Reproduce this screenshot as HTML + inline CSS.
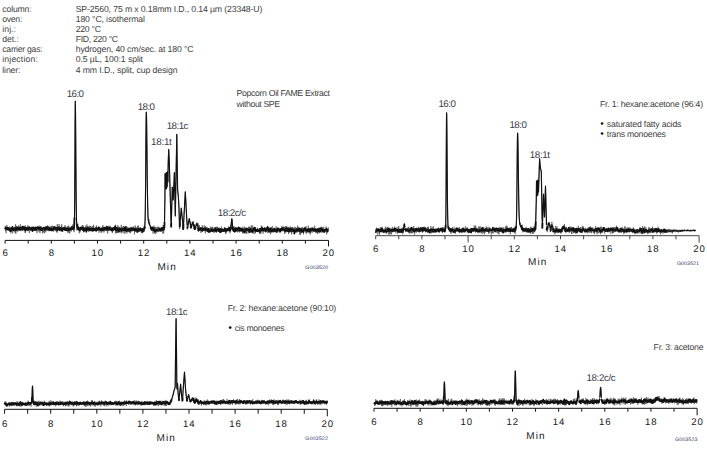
<!DOCTYPE html>
<html><head><meta charset="utf-8"><title>Chromatograms</title>
<style>html,body{margin:0;padding:0;background:#fff;} svg{display:block;}</style>
</head><body><svg width="707" height="450" viewBox="0 0 707 450" font-family='"Liberation Sans", sans-serif' text-rendering="geometricPrecision"><text x="2.3" y="11.8" font-size="8.7" fill="#3e3e3e" textLength="29.4" lengthAdjust="spacing">column:</text><text x="75.7" y="11.8" font-size="8.7" fill="#3e3e3e" textLength="186.7" lengthAdjust="spacing">SP-2560, 75 m x 0.18mm I.D., 0.14 µm (23348-U)</text><text x="2.3" y="21.9" font-size="8.7" fill="#3e3e3e" textLength="20.0" lengthAdjust="spacing">oven:</text><text x="75.7" y="21.9" font-size="8.7" fill="#3e3e3e" textLength="69.3" lengthAdjust="spacing">180 °C, isothermal</text><text x="2.3" y="32.0" font-size="8.7" fill="#3e3e3e" textLength="13.7" lengthAdjust="spacing">inj.:</text><text x="75.7" y="32.0" font-size="8.7" fill="#3e3e3e" textLength="25.4" lengthAdjust="spacing">220 °C</text><text x="2.3" y="42.2" font-size="8.7" fill="#3e3e3e" textLength="16.3" lengthAdjust="spacing">det.:</text><text x="75.7" y="42.2" font-size="8.7" fill="#3e3e3e" textLength="42.4" lengthAdjust="spacing">FID, 220 °C</text><text x="2.3" y="52.3" font-size="8.7" fill="#3e3e3e" textLength="40.3" lengthAdjust="spacing">carrier gas:</text><text x="75.7" y="52.3" font-size="8.7" fill="#3e3e3e" textLength="117.9" lengthAdjust="spacing">hydrogen, 40 cm/sec. at 180 °C</text><text x="2.3" y="62.4" font-size="8.7" fill="#3e3e3e" textLength="35.5" lengthAdjust="spacing">injection:</text><text x="75.7" y="62.4" font-size="8.7" fill="#3e3e3e" textLength="67.3" lengthAdjust="spacing">0.5 µL, 100:1 split</text><text x="2.3" y="72.5" font-size="8.7" fill="#3e3e3e" textLength="18.2" lengthAdjust="spacing">liner:</text><text x="75.7" y="72.5" font-size="8.7" fill="#3e3e3e" textLength="101.8" lengthAdjust="spacing">4 mm I.D., split, cup design</text><path d="M5.10,243.60V240.40H328.50V246.40M28.20,240.40v3.20M51.30,240.40v3.20M74.40,240.40v3.20M97.50,240.40v3.20M120.60,240.40v3.20M143.70,240.40v3.20M166.80,240.40v3.20M189.90,240.40v3.20M213.00,240.40v3.20M236.10,240.40v3.20M259.20,240.40v3.20M282.30,240.40v3.20M305.40,240.40v3.20" fill="none" stroke="#111" stroke-width="1"/><text x="5.1" y="256.0" font-size="9.6" fill="#1a1a1a" text-anchor="middle">6</text><text x="51.3" y="256.0" font-size="9.6" fill="#1a1a1a" text-anchor="middle">8</text><text x="91.6" y="256.0" font-size="9.6" fill="#1a1a1a" textLength="11.6" lengthAdjust="spacing">10</text><text x="137.8" y="256.0" font-size="9.6" fill="#1a1a1a" textLength="11.6" lengthAdjust="spacing">12</text><text x="184.0" y="256.0" font-size="9.6" fill="#1a1a1a" textLength="11.6" lengthAdjust="spacing">14</text><text x="230.2" y="256.0" font-size="9.6" fill="#1a1a1a" textLength="11.6" lengthAdjust="spacing">16</text><text x="276.4" y="256.0" font-size="9.6" fill="#1a1a1a" textLength="11.6" lengthAdjust="spacing">18</text><text x="322.6" y="256.0" font-size="9.6" fill="#1a1a1a" textLength="11.6" lengthAdjust="spacing">20</text><text x="157.4" y="269.9" font-size="10" fill="#1a1a1a" textLength="18.4" lengthAdjust="spacing">Min</text><polyline points="5.10,229.3 5.30,225.9 5.50,230.8 5.70,229.9 5.90,230.5 6.10,233.2 6.30,226.3 6.50,227.9 6.70,229.9 6.90,225.0 7.10,228.2 7.30,227.0 7.50,228.5 7.70,228.0 7.90,229.3 8.10,229.7 8.30,227.6 8.50,230.5 8.70,228.4 8.90,229.0 9.10,229.6 9.30,229.8 9.50,229.1 9.70,226.6 9.90,231.7 10.10,230.3 10.30,230.3 10.50,227.3 10.70,230.7 10.90,233.3 11.10,230.2 11.30,228.5 11.50,230.1 11.70,227.2 11.90,228.2 12.10,229.2 12.30,226.8 12.50,228.5 12.70,233.4 12.90,228.0 13.10,230.1 13.30,228.8 13.50,228.0 13.70,230.3 13.90,227.5 14.10,230.1 14.30,229.1 14.50,229.8 14.70,228.4 14.90,231.9 15.10,226.5 15.30,233.3 15.50,224.3 15.70,225.7 15.90,233.5 16.10,228.5 16.30,225.8 16.50,227.0 16.70,226.5 16.90,230.6 17.10,227.5 17.30,231.4 17.50,228.7 17.70,228.6 17.90,230.2 18.10,231.5 18.30,229.0 18.50,225.4 18.70,229.1 18.90,229.2 19.10,227.2 19.30,227.5 19.50,230.9 19.70,230.3 19.90,228.0 20.10,230.9 20.30,224.2 20.50,227.3 20.70,230.9 20.90,227.3 21.10,228.6 21.30,229.3 21.50,226.4 21.70,230.0 21.90,229.0 22.10,229.3 22.30,227.3 22.50,230.6 22.70,227.6 22.90,231.1 23.10,227.6 23.30,228.1 23.50,226.6 23.70,229.6 23.90,227.6 24.10,225.8 24.30,230.7 24.50,231.0 24.70,227.7 24.90,226.8 25.10,233.0 25.30,225.4 25.50,232.7 25.70,230.6 25.90,227.6 26.10,229.0 26.30,227.5 26.50,229.5 26.70,228.4 26.90,230.9 27.10,228.4 27.30,227.9 27.50,226.8 27.70,227.9 27.90,225.2 28.10,231.2 28.30,228.2 28.50,228.4 28.70,228.3 28.90,226.7 29.10,228.1 29.30,233.2 29.50,231.0 29.70,230.5 29.90,229.0 30.10,229.8 30.30,228.4 30.50,228.2 30.70,231.0 30.90,230.6 31.10,230.2 31.30,227.4 31.50,228.6 31.70,227.3 31.90,226.7 32.10,228.7 32.30,227.9 32.50,230.4 32.70,228.3 32.90,229.0 33.10,227.2 33.30,226.5 33.50,229.2 33.70,230.0 33.90,228.8 34.10,229.2 34.30,229.3 34.50,227.9 34.70,230.2 34.90,229.7 35.10,230.8 35.30,227.9 35.50,228.7 35.70,227.7 35.90,230.9 36.10,229.3 36.30,228.9 36.50,227.7 36.70,227.4 36.90,232.4 37.10,233.2 37.30,229.6 37.50,226.3 37.70,229.0 37.90,228.0 38.10,230.7 38.30,226.6 38.50,227.9 38.70,226.6 38.90,231.7 39.10,225.6 39.30,226.3 39.50,230.8 39.70,228.2 39.90,233.1 40.10,231.3 40.30,228.7 40.50,226.1 40.70,230.2 40.90,230.1 41.10,228.5 41.30,226.2 41.50,230.1 41.70,228.2 41.90,229.2 42.10,230.7 42.30,231.5 42.50,233.4 42.70,230.8 42.90,230.4 43.10,228.1 43.30,232.4 43.50,228.2 43.70,228.9 43.90,228.6 44.10,227.3 44.30,227.7 44.50,233.3 44.70,227.2 44.90,229.3 45.10,230.0 45.30,226.3 45.50,227.4 45.70,232.3 45.90,229.0 46.10,228.2 46.30,228.6 46.50,226.1 46.70,230.4 46.90,228.7 47.10,229.3 47.30,229.0 47.50,229.5 47.70,225.3 47.90,231.0 48.10,227.0 48.30,231.1 48.50,226.6 48.70,227.2 48.90,229.4 49.10,229.6 49.30,228.5 49.50,231.2 49.70,228.0 49.90,226.4 50.10,229.3 50.30,230.6 50.50,228.7 50.70,230.1 50.90,229.6 51.10,226.3 51.30,230.2 51.50,227.6 51.70,226.2 51.90,228.1 52.10,225.4 52.30,229.2 52.50,231.1 52.70,231.3 52.90,229.3 53.10,228.2 53.30,231.6 53.50,228.7 53.70,230.4 53.90,226.0 54.10,230.7 54.30,227.9 54.50,229.3 54.70,229.1 54.90,227.7 55.10,230.5 55.30,230.2 55.50,230.6 55.70,230.7 55.90,226.4 56.10,229.1 56.30,231.8 56.50,229.2 56.70,231.6 56.90,229.6 57.10,232.8 57.30,224.0 57.50,228.8 57.70,229.3 57.90,228.2 58.10,227.9 58.30,228.9 58.50,228.1 58.70,229.8 58.90,230.4 59.10,224.1 59.30,230.8 59.50,228.9 59.70,230.2 59.90,227.9 60.10,231.4 60.30,227.5 60.50,229.5 60.70,227.6 60.90,230.9 61.10,230.4 61.30,225.7 61.50,231.1 61.70,224.2 61.90,226.3 62.10,228.4 62.30,227.9 62.50,229.2 62.70,227.7 62.90,228.3 63.10,230.6 63.30,228.6 63.50,228.0 63.70,229.2 63.90,229.5 64.10,229.6 64.30,226.5 64.50,229.4 64.70,229.2 64.90,225.9 65.10,225.1 65.30,228.5 65.50,230.6 65.70,227.3 65.90,229.0 66.10,230.4 66.30,228.6 66.50,230.6 66.70,227.3 66.90,230.8 67.10,228.6 67.30,230.4 67.50,227.8 67.70,226.1 67.90,232.8 68.10,232.6 68.30,232.1 68.50,227.4 68.70,225.5 68.90,231.5 69.10,233.0 69.30,229.5 69.50,228.7 69.70,233.5 69.90,227.4 70.10,226.9 70.30,228.5 70.50,230.1 70.70,228.3 70.90,227.2 71.10,228.4 71.30,231.5 71.50,229.2 71.70,228.9 71.90,229.3 72.10,226.8 72.30,226.8 72.50,224.6 72.70,229.2 72.90,228.2 73.10,226.8 73.30,230.0 73.50,228.4 73.70,226.9 73.90,230.1 74.10,232.2 74.30,222.2 74.50,218.4 74.70,197.9 74.90,161.8 75.10,120.0 75.30,100.9 75.50,110.1 75.70,135.0 75.90,165.2 76.10,191.9 76.30,209.2 76.50,219.5 76.70,222.5 76.90,230.7 77.10,229.6 77.30,228.2 77.50,225.9 77.70,227.5 77.90,223.5 78.10,228.4 78.30,227.0 78.50,226.6 78.70,230.6 78.90,228.7 79.10,227.3 79.30,233.3 79.50,229.6 79.70,227.4 79.90,232.4 80.10,228.8 80.30,231.3 80.50,229.4 80.70,229.6 80.90,227.6 81.10,227.8 81.30,229.4 81.50,228.7 81.70,230.0 81.90,227.6 82.10,225.6 82.30,225.3 82.50,229.3 82.70,228.8 82.90,225.2 83.10,229.8 83.30,226.8 83.50,232.4 83.70,226.6 83.90,227.4 84.10,230.5 84.30,227.2 84.50,232.0 84.70,230.3 84.90,230.7 85.10,229.7 85.30,229.6 85.50,229.2 85.70,225.8 85.90,229.3 86.10,227.6 86.30,229.3 86.50,229.2 86.70,230.5 86.90,224.5 87.10,230.3 87.30,230.9 87.50,228.4 87.70,230.7 87.90,227.5 88.10,226.5 88.30,230.9 88.50,229.8 88.70,231.3 88.90,232.1 89.10,228.1 89.30,228.5 89.50,229.5 89.70,225.6 89.90,227.6 90.10,230.9 90.30,226.0 90.50,228.3 90.70,231.3 90.90,228.6 91.10,230.2 91.30,228.8 91.50,231.2 91.70,228.8 91.90,226.3 92.10,228.7 92.30,230.3 92.50,228.7 92.70,229.8 92.90,225.9 93.10,229.0 93.30,229.8 93.50,224.8 93.70,228.6 93.90,230.0 94.10,228.0 94.30,230.3 94.50,230.6 94.70,230.0 94.90,230.7 95.10,226.7 95.30,227.7 95.50,230.0 95.70,227.3 95.90,230.5 96.10,231.2 96.30,232.1 96.50,225.5 96.70,231.2 96.90,227.2 97.10,230.2 97.30,230.6 97.50,228.9 97.70,228.6 97.90,229.1 98.10,228.7 98.30,229.3 98.50,226.4 98.70,228.5 98.90,231.0 99.10,232.7 99.30,228.2 99.50,228.5 99.70,226.8 99.90,230.5 100.10,229.4 100.30,230.4 100.50,230.0 100.70,231.2 100.90,229.7 101.10,232.8 101.30,229.3 101.50,227.5 101.70,229.0 101.90,232.3 102.10,227.4 102.30,226.6 102.50,230.6 102.70,228.0 102.90,225.1 103.10,229.0 103.30,227.9 103.50,226.9 103.70,229.7 103.90,232.5 104.10,229.1 104.30,228.7 104.50,230.5 104.70,231.2 104.90,231.2 105.10,226.9 105.30,229.6 105.50,228.6 105.70,229.1 105.90,228.8 106.10,229.5 106.30,230.3 106.50,230.5 106.70,229.8 106.90,230.4 107.10,229.4 107.30,231.5 107.50,226.8 107.70,233.5 107.90,230.5 108.10,230.3 108.30,229.7 108.50,228.3 108.70,229.3 108.90,225.6 109.10,226.1 109.30,230.9 109.50,229.2 109.70,228.8 109.90,229.0 110.10,227.8 110.30,226.2 110.50,228.3 110.70,228.3 110.90,229.2 111.10,226.8 111.30,230.2 111.50,231.0 111.70,227.8 111.90,228.1 112.10,227.8 112.30,233.1 112.50,229.7 112.70,228.1 112.90,231.1 113.10,231.1 113.30,228.1 113.50,228.3 113.70,231.1 113.90,229.2 114.10,228.5 114.30,227.5 114.50,227.2 114.70,229.3 114.90,227.1 115.10,228.9 115.30,229.2 115.50,224.7 115.70,233.6 115.90,229.4 116.10,232.8 116.30,227.0 116.50,231.5 116.70,233.0 116.90,230.2 117.10,232.2 117.30,229.9 117.50,232.9 117.70,225.2 117.90,228.2 118.10,231.1 118.30,226.5 118.50,226.4 118.70,226.4 118.90,230.1 119.10,227.1 119.30,229.1 119.50,230.9 119.70,227.0 119.90,230.4 120.10,230.1 120.30,228.4 120.50,232.5 120.70,227.6 120.90,231.2 121.10,231.1 121.30,224.8 121.50,232.0 121.70,228.6 121.90,233.3 122.10,231.2 122.30,226.7 122.50,228.0 122.70,231.1 122.90,228.7 123.10,229.9 123.30,227.7 123.50,225.9 123.70,232.8 123.90,230.4 124.10,228.5 124.30,226.6 124.50,227.6 124.70,229.8 124.90,234.0 125.10,229.4 125.30,227.3 125.50,230.3 125.70,230.7 125.90,231.3 126.10,229.5 126.30,232.0 126.50,229.4 126.70,226.0 126.90,233.4 127.10,228.1 127.30,227.2 127.50,231.9 127.70,231.5 127.90,230.3 128.10,229.9 128.30,230.0 128.50,227.6 128.70,228.9 128.90,232.1 129.10,231.1 129.30,229.3 129.50,232.6 129.70,230.9 129.90,229.7 130.10,227.2 130.30,230.2 130.50,233.1 130.70,231.7 130.90,232.0 131.10,229.5 131.30,229.4 131.50,231.1 131.70,227.5 131.90,230.7 132.10,227.7 132.30,230.5 132.50,228.2 132.70,227.3 132.90,229.8 133.10,226.7 133.30,228.4 133.50,227.9 133.70,226.2 133.90,229.9 134.10,230.2 134.30,228.1 134.50,234.3 134.70,228.1 134.90,230.4 135.10,231.0 135.30,225.5 135.50,229.5 135.70,229.6 135.90,227.7 136.10,230.4 136.30,227.6 136.50,227.6 136.70,230.9 136.90,232.5 137.10,227.5 137.30,227.8 137.50,227.9 137.70,225.9 137.90,232.5 138.10,227.9 138.30,225.5 138.50,227.0 138.70,231.7 138.90,230.2 139.10,231.3 139.30,227.7 139.50,228.1 139.70,231.5 139.90,228.3 140.10,228.4 140.30,231.2 140.50,227.3 140.70,227.7 140.90,228.3 141.10,228.8 141.30,232.8 141.50,228.7 141.70,233.0 141.90,228.9 142.10,230.5 142.30,229.1 142.50,233.3 142.70,227.9 142.90,228.6 143.10,228.1 143.30,228.1 143.50,231.0 143.70,229.3 143.90,231.8 144.10,231.7 144.30,227.3 144.50,226.0 144.70,225.9 144.90,223.0 145.10,220.9 145.30,211.4 145.50,194.4 145.70,171.3 145.90,143.6 146.10,121.2 146.30,112.4 146.50,116.3 146.60,121.6 146.70,128.7 146.90,145.5 147.10,164.0 147.30,181.8 147.50,196.0 147.70,206.7 147.90,213.9 148.10,218.4 148.30,221.1 148.50,221.4 148.70,222.4 148.90,223.1 149.10,219.3 149.30,224.5 149.50,225.2 149.70,222.4 149.90,225.7 150.10,225.9 150.30,227.2 150.50,228.1 150.70,226.7 150.90,226.8 151.10,227.8 151.30,228.7 151.50,228.3 151.70,231.0 151.90,228.2 152.10,229.9 152.30,228.3 152.50,226.4 152.70,229.0 152.90,232.1 153.10,233.7 153.30,229.9 153.50,227.3 153.70,230.3 153.90,225.6 154.10,229.5 154.30,230.3 154.50,233.3 154.70,226.8 154.90,231.9 155.10,231.4 155.30,227.3 155.50,228.8 155.70,234.1 155.90,229.1 156.10,230.7 156.30,227.0 156.50,227.1 156.70,229.6 156.90,232.6 157.10,230.4 157.30,228.7 157.50,226.7 157.70,227.5 157.90,229.9 158.10,227.4 158.30,231.0 158.50,229.9 158.70,226.6 158.90,229.8 159.10,231.0 159.30,228.2 159.50,228.7 159.70,227.8 159.90,227.8 160.10,228.8 160.30,230.4 160.50,229.1 160.70,229.2 160.90,228.9 161.10,231.9 161.30,231.5 161.50,227.5 161.70,229.5 161.90,228.0 162.10,230.8 162.30,231.1 162.50,229.8 162.70,231.2 162.90,233.8 163.10,225.0 163.30,229.6 163.50,227.7 163.60,230.8 163.70,233.2 163.90,225.1 164.10,228.4 164.30,226.1 164.40,230.0 164.50,222.5 164.70,211.4 164.90,200.2 165.10,173.8 165.30,181.3 165.50,187.9 165.70,180.4 165.90,173.1 166.10,180.6 166.30,188.7 166.50,180.7 166.70,172.1 166.90,179.3 167.10,187.1 167.30,178.5 167.50,171.7 167.70,176.6 167.90,181.9 168.10,169.2 168.20,162.6 168.30,160.0 168.50,154.9 168.70,149.5 168.90,154.0 169.10,158.0 169.30,162.2 169.50,169.6 169.70,176.4 169.90,184.1 170.00,187.8 170.10,191.1 170.30,197.7 170.50,204.0 170.70,210.6 170.90,217.2 171.10,224.2 171.20,227.7 171.30,223.5 171.50,215.8 171.70,208.6 171.90,201.6 172.10,194.2 172.30,187.1 172.50,190.5 172.70,192.8 172.90,195.9 173.10,199.2 173.20,199.5 173.30,198.3 173.50,193.0 173.70,188.6 173.90,183.8 174.10,179.5 174.30,174.3 174.40,172.5 174.50,177.4 174.70,186.4 174.90,196.3 175.10,206.8 175.30,215.7 175.50,205.1 175.70,194.0 175.90,183.8 176.10,172.8 176.30,161.0 176.50,150.6 176.70,139.4 176.80,134.1 176.90,141.4 177.10,155.2 177.30,169.5 177.50,183.3 177.60,189.8 177.70,190.8 177.90,192.4 178.10,193.7 178.30,196.4 178.50,199.2 178.70,202.4 178.90,206.0 179.10,212.6 179.30,219.1 179.50,226.2 179.60,229.0 179.70,229.2 179.90,226.2 180.10,222.7 180.30,220.0 180.50,217.5 180.70,214.8 180.90,212.8 181.10,211.0 181.30,208.4 181.50,210.7 181.70,212.6 181.90,214.9 182.10,216.8 182.30,219.1 182.50,221.1 182.70,223.0 182.90,229.5 183.10,227.9 183.30,229.5 183.50,223.9 183.70,222.0 183.90,217.8 184.10,214.5 184.30,210.4 184.50,206.9 184.70,202.8 184.90,199.0 185.10,195.5 185.30,192.0 185.50,195.2 185.70,198.6 185.90,203.0 186.10,206.3 186.30,210.8 186.50,213.7 186.70,217.5 186.90,220.9 187.10,226.6 187.30,228.5 187.50,229.5 187.70,226.9 187.90,227.1 188.10,224.2 188.30,220.8 188.50,222.6 188.70,222.2 188.90,221.1 189.10,219.4 189.30,218.8 189.50,220.3 189.70,221.6 189.90,221.9 190.10,222.7 190.30,227.7 190.50,226.4 190.70,221.9 190.90,229.0 191.00,226.3 191.10,227.6 191.30,227.9 191.50,225.3 191.70,226.0 191.90,223.9 192.10,224.9 192.30,221.6 192.50,223.3 192.70,222.5 192.80,222.3 192.90,222.9 193.10,223.3 193.30,221.5 193.50,221.1 193.70,224.4 193.90,229.2 194.10,226.5 194.30,224.3 194.50,224.1 194.70,228.6 194.90,228.6 195.00,229.2 195.10,226.2 195.30,229.2 195.50,228.3 195.70,227.5 195.90,226.0 196.10,223.9 196.30,225.5 196.50,224.7 196.70,222.6 196.90,224.8 197.00,223.9 197.10,224.4 197.30,226.2 197.50,223.8 197.70,227.8 197.90,230.8 198.10,223.3 198.30,232.1 198.50,226.7 198.60,226.9 198.70,231.3 198.90,229.9 199.10,228.6 199.30,230.5 199.50,225.2 199.70,229.4 199.90,228.8 200.10,229.9 200.30,229.9 200.50,229.5 200.70,228.5 200.90,232.9 201.10,230.8 201.30,229.8 201.50,228.9 201.70,230.7 201.90,230.3 202.10,229.6 202.30,225.2 202.50,232.0 202.70,227.2 202.90,229.2 203.10,229.5 203.30,230.2 203.50,229.6 203.70,229.2 203.90,226.9 204.10,226.3 204.30,225.1 204.50,228.3 204.70,230.0 204.90,227.5 205.10,230.2 205.30,233.4 205.50,232.0 205.70,226.3 205.90,230.0 206.10,230.4 206.30,230.3 206.50,231.0 206.70,227.7 206.90,226.9 207.10,230.0 207.30,230.4 207.50,227.6 207.70,230.3 207.90,229.4 208.10,231.9 208.30,230.1 208.50,232.6 208.70,230.3 208.90,228.3 209.10,232.5 209.30,232.4 209.50,232.6 209.70,232.0 209.90,231.7 210.10,229.7 210.30,230.8 210.50,228.6 210.70,226.6 210.90,230.7 211.10,227.6 211.30,228.8 211.50,229.3 211.70,227.5 211.90,227.0 212.10,227.3 212.30,231.1 212.50,228.6 212.70,226.8 212.90,227.5 213.10,231.4 213.30,231.2 213.50,230.4 213.70,230.4 213.90,233.1 214.10,228.4 214.30,231.4 214.50,229.7 214.70,227.0 214.90,230.4 215.10,227.2 215.30,228.4 215.50,230.3 215.70,227.0 215.90,228.0 216.10,232.1 216.30,230.5 216.50,232.6 216.70,227.0 216.90,226.6 217.10,229.0 217.30,226.8 217.50,227.6 217.70,230.8 217.90,230.3 218.10,227.8 218.30,229.3 218.50,231.9 218.70,229.9 218.90,231.4 219.10,227.3 219.30,228.6 219.50,230.3 219.70,230.7 219.90,229.3 220.10,230.8 220.30,233.0 220.50,230.0 220.70,229.4 220.90,230.4 221.10,228.7 221.30,230.1 221.50,226.5 221.70,228.1 221.90,230.8 222.10,228.9 222.30,230.5 222.50,231.8 222.70,228.6 222.90,228.8 223.10,232.0 223.30,230.4 223.50,230.4 223.70,230.3 223.90,231.7 224.10,229.3 224.30,231.8 224.50,231.7 224.70,226.9 224.90,231.3 225.10,229.0 225.30,231.6 225.50,234.1 225.70,231.5 225.90,231.9 226.10,230.3 226.30,233.2 226.50,230.5 226.70,231.2 226.90,229.8 227.10,228.3 227.30,229.8 227.50,231.5 227.70,229.5 227.90,228.6 228.10,230.9 228.30,227.5 228.50,230.0 228.70,226.3 228.90,228.9 229.10,229.4 229.30,230.3 229.50,227.1 229.70,232.0 229.90,233.2 230.10,231.9 230.30,229.9 230.50,230.9 230.70,224.8 230.90,230.4 231.10,225.0 231.30,223.5 231.50,220.7 231.70,219.2 231.80,219.2 231.90,218.7 232.10,220.7 232.30,223.5 232.50,227.1 232.70,226.1 232.90,228.7 233.10,230.2 233.30,229.1 233.50,230.7 233.70,230.7 233.90,229.3 234.10,226.4 234.30,226.9 234.50,232.3 234.70,230.2 234.90,228.7 235.10,232.0 235.30,229.5 235.50,230.1 235.70,231.1 235.90,232.0 236.10,227.2 236.30,229.3 236.50,228.0 236.70,230.4 236.90,227.5 237.10,228.6 237.30,231.2 237.50,232.4 237.70,230.4 237.90,228.4 238.10,230.5 238.30,228.0 238.50,227.4 238.70,232.1 238.90,229.8 239.10,231.5 239.30,229.9 239.50,232.4 239.70,227.0 239.90,231.3 240.10,229.9 240.30,228.6 240.50,229.0 240.70,231.8 240.90,231.5 241.10,230.7 241.30,230.2 241.50,229.3 241.70,229.7 241.90,228.9 242.10,226.8 242.30,232.1 242.50,230.3 242.70,233.3 242.90,232.0 243.10,233.3 243.30,229.7 243.50,232.5 243.70,231.2 243.90,228.6 244.10,226.5 244.30,229.8 244.50,231.3 244.70,230.9 244.90,227.5 245.10,233.8 245.30,227.8 245.50,229.8 245.70,229.1 245.90,229.3 246.10,232.9 246.30,228.2 246.50,233.9 246.70,229.0 246.90,230.0 247.10,229.2 247.30,230.4 247.50,231.4 247.70,231.2 247.90,227.7 248.10,233.4 248.30,228.9 248.50,230.4 248.70,229.4 248.90,226.4 249.10,232.7 249.30,227.6 249.50,226.9 249.70,230.6 249.90,229.4 250.10,231.0 250.30,229.4 250.50,229.8 250.70,229.7 250.90,231.9 251.10,227.6 251.30,225.3 251.50,230.6 251.70,232.4 251.90,229.4 252.10,233.2 252.30,225.5 252.50,232.8 252.70,231.0 252.90,231.8 253.10,232.1 253.30,230.8 253.50,231.1 253.70,231.3 253.90,234.0 254.10,226.7 254.30,231.9 254.50,228.7 254.70,230.2 254.90,229.9 255.10,233.4 255.30,227.1 255.50,232.9 255.70,229.5 255.90,232.2 256.10,231.2 256.30,231.5 256.50,230.4 256.70,229.2 256.90,230.3 257.10,229.2 257.30,227.7 257.50,231.0 257.70,227.9 257.90,231.4 258.10,231.7 258.30,230.0 258.50,229.3 258.70,230.1 258.90,230.7 259.10,232.7 259.30,232.8 259.50,229.5 259.70,233.3 259.90,228.2 260.10,234.1 260.30,229.0 260.50,230.4 260.70,232.8 260.90,232.7 261.10,233.5 261.30,225.5 261.50,228.2 261.70,231.8 261.90,227.5 262.10,228.6 262.30,226.5 262.50,229.3 262.70,228.9 262.90,229.5 263.10,233.7 263.30,232.5 263.50,231.5 263.70,230.7 263.90,230.3 264.10,229.8 264.30,228.4 264.50,228.9 264.70,230.7 264.90,227.1 265.10,230.1 265.30,231.4 265.50,231.8 265.70,229.6 265.90,229.2 266.10,230.2 266.30,230.3 266.50,227.1 266.70,228.5 266.90,231.5 267.10,232.1 267.30,231.9 267.50,230.8 267.70,228.7 267.90,233.2 268.10,230.1 268.30,228.5 268.50,231.5 268.70,231.8 268.90,230.4 269.10,227.7 269.30,228.9 269.50,232.6 269.70,230.0 269.90,227.9 270.10,228.9 270.30,230.8 270.50,234.4 270.70,229.7 270.90,230.9 271.10,229.5 271.30,230.6 271.50,227.3 271.70,228.8 271.90,230.5 272.10,228.4 272.30,226.0 272.50,230.1 272.70,229.0 272.90,229.4 273.10,232.5 273.30,231.9 273.50,232.0 273.70,232.2 273.90,229.2 274.10,231.2 274.30,230.4 274.50,228.2 274.70,232.1 274.90,229.8 275.10,230.3 275.30,231.2 275.50,230.2 275.70,232.4 275.90,227.6 276.10,226.3 276.30,230.1 276.50,231.7 276.70,229.0 276.90,231.5 277.10,230.2 277.30,230.5 277.50,229.2 277.70,229.6 277.90,232.2 278.10,229.8 278.30,228.6 278.50,228.6 278.70,230.3 278.90,231.3 279.10,232.0 279.30,228.7 279.50,230.0 279.70,230.6 279.90,233.2 280.10,229.4 280.30,230.3 280.50,228.4 280.70,228.0 280.90,230.6 281.10,228.1 281.30,228.0 281.50,231.2 281.70,226.0 281.90,229.0 282.10,230.8 282.30,228.0 282.50,228.5 282.70,228.5 282.90,231.5 283.10,227.6 283.30,226.3 283.50,227.8 283.70,228.4 283.90,227.5 284.10,230.0 284.30,230.9 284.50,226.8 284.70,234.0 284.90,230.6 285.10,231.6 285.30,232.0 285.50,226.2 285.70,232.8 285.90,232.4 286.10,228.3 286.30,229.5 286.50,229.0 286.70,225.9 286.90,229.4 287.10,230.9 287.30,227.1 287.50,227.7 287.70,232.0 287.90,230.3 288.10,229.3 288.30,227.6 288.50,234.1 288.70,230.1 288.90,228.8 289.10,228.5 289.30,231.5 289.50,232.9 289.70,232.4 289.90,232.2 290.10,226.3 290.30,229.3 290.50,231.3 290.70,230.0 290.90,231.0 291.10,231.7 291.30,232.7 291.50,228.4 291.70,234.5 291.90,227.0 292.10,229.6 292.30,226.9 292.50,229.2 292.70,229.6 292.90,230.9 293.10,230.1 293.30,231.8 293.50,228.4 293.70,227.7 293.90,233.7 294.10,232.4 294.30,228.9 294.50,232.2 294.70,226.9 294.90,228.7 295.10,227.2 295.30,230.5 295.50,228.5 295.70,227.7 295.90,230.9 296.10,231.4 296.30,232.5 296.50,229.3 296.70,227.8 296.90,232.6 297.10,228.0 297.30,230.7 297.50,225.6 297.70,228.1 297.90,228.6 298.10,229.7 298.30,227.1 298.50,228.3 298.70,227.6 298.90,228.6 299.10,230.7 299.30,227.8 299.50,231.5 299.70,234.6 299.90,229.0 300.10,231.5 300.30,228.4 300.50,234.8 300.70,232.8 300.90,230.9 301.10,233.1 301.30,227.4 301.50,231.8 301.70,228.2 301.90,230.0 302.10,230.7 302.30,230.3 302.50,226.9 302.70,230.2 302.90,231.7 303.10,231.9 303.30,228.6 303.50,234.5 303.70,229.9 303.90,231.8 304.10,230.0 304.30,227.8 304.50,227.5 304.70,231.4 304.90,230.6 305.10,227.1 305.30,228.9 305.50,230.4 305.70,232.5 305.90,233.3 306.10,226.2 306.30,229.6 306.50,233.6 306.70,229.4 306.90,230.5 307.10,232.3 307.30,229.7 307.50,228.1 307.70,228.4 307.90,229.8 308.10,232.6 308.30,225.6 308.50,229.7 308.70,229.3 308.90,230.9 309.10,233.2 309.30,229.6 309.50,233.1 309.70,230.3 309.90,230.4 310.10,229.9 310.30,234.5 310.50,232.6 310.70,233.0 310.90,228.5 311.10,230.5 311.30,227.3 311.50,230.6 311.70,230.8 311.90,230.1 312.10,232.9 312.30,228.4 312.50,231.0 312.70,227.1 312.90,231.1 313.10,229.3 313.30,230.3 313.50,231.8 313.70,229.9 313.90,230.0 314.10,228.4 314.30,229.6 314.50,229.5 314.70,225.6 314.90,231.4 315.10,231.1 315.30,229.3 315.50,232.7 315.70,229.2 315.90,228.2 316.10,229.8 316.30,232.7 316.50,232.4 316.70,233.1 316.90,230.4 317.10,231.7 317.30,230.6 317.50,234.1 317.70,230.4 317.90,230.7 318.10,228.5 318.30,232.8 318.50,232.8 318.70,233.1 318.90,227.3 319.10,227.9 319.30,229.5 319.50,231.1 319.70,233.2 319.90,231.0 320.10,232.0 320.30,228.2 320.50,231.8 320.70,227.8 320.90,230.0 321.10,228.5 321.30,230.3 321.50,232.2 321.70,232.6 321.90,226.7 322.10,229.9 322.30,227.8 322.50,232.0 322.70,231.2 322.90,227.9 323.10,230.1 323.30,231.6 323.50,230.7 323.70,226.8 323.90,232.1 324.10,229.4 324.30,230.7 324.50,232.1 324.70,232.7 324.90,229.9 325.10,230.9 325.30,229.7 325.50,230.1 325.70,231.2 325.90,230.7 326.10,226.3 326.30,232.1 326.50,233.1 326.70,234.4 326.90,231.8 327.10,230.7 327.30,230.4 327.50,229.9 327.70,231.4 327.90,229.5 328.10,230.0 328.30,227.4 328.50,229.5" fill="none" stroke="#444" stroke-width="0.6" stroke-linejoin="round"/><path d="M5.10,229.3 5.30,228.9 5.50,227.8 5.70,228.5 5.90,228.5 6.10,228.3 6.30,228.5 6.50,228.5 6.70,229.4 6.90,229.5 7.10,227.9 7.30,228.4 7.50,229.2 7.70,229.4 7.90,229.1 8.10,228.2 8.30,228.9 8.50,228.3 8.70,229.5 8.90,228.5 9.10,229.8 9.30,229.6 9.50,229.3 9.70,228.7 9.90,229.4 10.10,229.6 10.30,230.5 10.50,231.1 10.70,230.6 10.90,231.0 11.10,229.9 11.30,229.6 11.50,229.2 11.70,229.6 11.90,227.8 12.10,228.7 12.30,228.8 12.50,227.0 12.70,228.7 12.90,228.9 13.10,229.0 13.30,230.4 13.50,230.2 13.70,229.8 13.90,228.9 14.10,228.6 14.30,228.5 14.50,229.4 14.70,228.1 14.90,228.4 15.10,228.8 15.30,229.1 15.50,230.0 15.70,229.6 15.90,230.1 16.10,227.9 16.30,228.8 16.50,229.7 16.70,228.2 16.90,227.8 17.10,227.4 17.30,228.7 17.50,228.7 17.70,227.8 17.90,229.4 18.10,229.3 18.30,228.8 18.50,227.7 18.70,227.9 18.90,228.8 19.10,227.4 19.30,229.2 19.50,229.6 19.70,228.7 19.90,229.3 20.10,227.9 20.30,228.3 20.50,228.8 20.70,228.2 20.90,229.8 21.10,229.5 21.30,229.1 21.50,228.5 21.70,228.8 21.90,229.1 22.10,229.2 22.30,228.3 22.50,226.7 22.70,227.3 22.90,228.1 23.10,228.4 23.30,227.8 23.50,227.2 23.70,227.9 23.90,229.0 24.10,227.8 24.30,229.3 24.50,228.8 24.70,228.6 24.90,227.7 25.10,230.3 25.30,229.3 25.50,229.4 25.70,229.5 25.90,228.9 26.10,228.5 26.30,227.9 26.50,228.7 26.70,229.3 26.90,228.7 27.10,228.9 27.30,230.0 27.50,229.9 27.70,229.9 27.90,229.7 28.10,229.1 28.30,228.0 28.50,228.3 28.70,227.4 28.90,227.8 29.10,227.5 29.30,227.7 29.50,228.8 29.70,227.3 29.90,228.4 30.10,228.5 30.30,228.8 30.50,228.2 30.70,229.5 30.90,229.8 31.10,228.5 31.30,229.2 31.50,229.3 31.70,228.4 31.90,229.0 32.10,227.6 32.30,227.6 32.50,231.0 32.70,230.1 32.90,229.9 33.10,229.6 33.30,230.0 33.50,228.8 33.70,228.8 33.90,227.7 34.10,228.6 34.30,227.9 34.50,228.2 34.70,229.8 34.90,229.2 35.10,227.8 35.30,229.1 35.50,228.9 35.70,227.5 35.90,228.2 36.10,228.9 36.30,230.0 36.50,228.0 36.70,227.7 36.90,228.1 37.10,228.4 37.30,227.8 37.50,227.9 37.70,227.5 37.90,227.7 38.10,228.3 38.30,228.7 38.50,228.2 38.70,227.8 38.90,228.3 39.10,228.7 39.30,227.9 39.50,228.8 39.70,229.1 39.90,228.1 40.10,228.2 40.30,228.7 40.50,228.0 40.70,228.9 40.90,229.7 41.10,230.1 41.30,229.3 41.50,228.5 41.70,229.9 41.90,229.4 42.10,230.2 42.30,229.5 42.50,229.0 42.70,228.2 42.90,228.4 43.10,228.4 43.30,228.4 43.50,228.0 43.70,228.6 43.90,227.6 44.10,228.3 44.30,228.7 44.50,228.6 44.70,229.9 44.90,228.3 45.10,228.1 45.30,227.8 45.50,228.3 45.70,227.8 45.90,228.2 46.10,228.3 46.30,229.5 46.50,228.8 46.70,229.0 46.90,227.5 47.10,228.6 47.30,228.1 47.50,228.7 47.70,226.9 47.90,227.8 48.10,228.5 48.30,228.9 48.50,228.5 48.70,228.7 48.90,229.8 49.10,229.1 49.30,229.3 49.50,228.7 49.70,227.8 49.90,229.0 50.10,228.2 50.30,230.0 50.50,230.0 50.70,228.8 50.90,229.7 51.10,229.7 51.30,230.3 51.50,230.4 51.70,229.3 51.90,229.1 52.10,228.6 52.30,228.5 52.50,229.1 52.70,228.6 52.90,229.9 53.10,228.7 53.30,228.5 53.50,228.3 53.70,228.0 53.90,229.2 54.10,227.5 54.30,226.9 54.50,227.0 54.70,227.7 54.90,228.4 55.10,227.9 55.30,228.5 55.50,228.7 55.70,229.0 55.90,229.1 56.10,229.3 56.30,228.5 56.50,229.1 56.70,228.5 56.90,227.8 57.10,228.8 57.30,228.2 57.50,230.1 57.70,228.7 57.90,228.3 58.10,228.1 58.30,227.5 58.50,227.1 58.70,227.7 58.90,227.6 59.10,228.0 59.30,229.5 59.50,230.0 59.70,229.7 59.90,228.4 60.10,228.3 60.30,228.8 60.50,228.6 60.70,227.8 60.90,229.5 61.10,229.7 61.30,229.5 61.50,229.7 61.70,229.7 61.90,230.0 62.10,228.9 62.30,231.2 62.50,229.5 62.70,228.4 62.90,229.3 63.10,229.0 63.30,228.2 63.50,228.4 63.70,228.3 63.90,228.0 64.10,229.1 64.30,229.4 64.50,229.4 64.70,229.8 64.90,229.2 65.10,228.5 65.30,228.7 65.50,230.1 65.70,228.5 65.90,228.1 66.10,228.9 66.30,229.3 66.50,230.1 66.70,228.9 66.90,229.8 67.10,229.0 67.30,230.6 67.50,230.2 67.70,229.0 67.90,228.3 68.10,230.0 68.30,228.5 68.50,228.4 68.70,229.1 68.90,230.0 69.10,229.5 69.30,228.8 69.50,229.3 69.70,228.9 69.90,228.3 70.10,229.2 70.30,229.3 70.50,229.7 70.70,228.7 70.90,228.5 71.10,228.5 71.30,228.4 71.50,227.8 71.70,227.0 71.90,228.6 72.10,229.0 72.30,227.9 72.50,228.9 72.70,228.5 72.90,227.4 73.10,227.7 73.30,228.7 73.50,229.6 73.70,228.9 73.90,228.5 74.10,226.9 74.30,224.0 74.50,217.6M76.90,224.1 77.10,226.5 77.30,227.2 77.50,228.8 77.70,228.0 77.90,227.8 78.10,228.7 78.30,228.8 78.50,227.5 78.70,228.8 78.90,229.3 79.10,228.8 79.30,230.0 79.50,229.1 79.70,228.6 79.90,229.2 80.10,228.4 80.30,229.3 80.50,229.1 80.70,227.6 80.90,228.3 81.10,227.8 81.30,227.5 81.50,227.7 81.70,228.1 81.90,228.0 82.10,228.9 82.30,228.9 82.50,229.9 82.70,228.4 82.90,227.9 83.10,229.2 83.30,229.4 83.50,230.6 83.70,229.3 83.90,229.5 84.10,229.4 84.30,229.0 84.50,229.7 84.70,229.9 84.90,228.3 85.10,228.3 85.30,228.6 85.50,229.2 85.70,229.4 85.90,229.5 86.10,229.6 86.30,231.8 86.50,229.1 86.70,228.5 86.90,229.2 87.10,230.1 87.30,229.7 87.50,228.7 87.70,228.1 87.90,227.4 88.10,229.1 88.30,229.5 88.50,229.7 88.70,229.1 88.90,229.1 89.10,228.9 89.30,228.4 89.50,229.0 89.70,230.2 89.90,229.4 90.10,229.0 90.30,229.2 90.50,229.9 90.70,229.0 90.90,229.1 91.10,229.6 91.30,229.3 91.50,228.9 91.70,228.5 91.90,229.2 92.10,230.4 92.30,230.2 92.50,230.4 92.70,230.8 92.90,229.5 93.10,228.6 93.30,230.0 93.50,229.9 93.70,229.3 93.90,229.9 94.10,230.3 94.30,229.0 94.50,230.1 94.70,229.2 94.90,230.0 95.10,229.5 95.30,229.8 95.50,230.3 95.70,229.3 95.90,229.9 96.10,229.0 96.30,229.4 96.50,228.1 96.70,229.8 96.90,228.7 97.10,228.7 97.30,228.5 97.50,229.4 97.70,230.0 97.90,229.8 98.10,229.1 98.30,228.8 98.50,229.1 98.70,227.8 98.90,228.4 99.10,228.3 99.30,227.7 99.50,229.1 99.70,229.3 99.90,229.3 100.10,229.9 100.30,229.2 100.50,229.4 100.70,230.0 100.90,228.8 101.10,229.3 101.30,230.2 101.50,229.7 101.70,228.9 101.90,229.9 102.10,229.2 102.30,229.9 102.50,230.1 102.70,229.7 102.90,228.5 103.10,228.6 103.30,228.3 103.50,230.0 103.70,229.8 103.90,229.9 104.10,229.8 104.30,229.0 104.50,227.8 104.70,227.6 104.90,228.3 105.10,228.9 105.30,229.4 105.50,228.9 105.70,229.2 105.90,228.8 106.10,229.9 106.30,229.8 106.50,229.1 106.70,226.6 106.90,229.4 107.10,229.5 107.30,229.7 107.50,229.1 107.70,227.4 107.90,228.2 108.10,228.7 108.30,228.1 108.50,229.5 108.70,229.5 108.90,229.1 109.10,228.1 109.30,227.5 109.50,229.1 109.70,228.6 109.90,228.5 110.10,229.3 110.30,228.6 110.50,229.4 110.70,229.9 110.90,229.1 111.10,229.0 111.30,229.4 111.50,230.2 111.70,230.1 111.90,230.1 112.10,230.8 112.30,228.4 112.50,229.6 112.70,229.3 112.90,229.2 113.10,229.7 113.30,229.0 113.50,228.0 113.70,227.8 113.90,229.6 114.10,228.7 114.30,228.6 114.50,228.4 114.70,228.3 114.90,228.2 115.10,226.4 115.30,227.3 115.50,227.0 115.70,229.9 115.90,230.2 116.10,229.2 116.30,229.5 116.50,228.6 116.70,228.0 116.90,228.3 117.10,229.7 117.30,228.7 117.50,229.8 117.70,229.0 117.90,228.9 118.10,229.3 118.30,229.7 118.50,230.5 118.70,231.9 118.90,231.7 119.10,230.9 119.30,230.3 119.50,229.4 119.70,228.7 119.90,228.8 120.10,229.3 120.30,229.1 120.50,229.2 120.70,229.0 120.90,230.1 121.10,229.0 121.30,229.2 121.50,229.4 121.70,230.9 121.90,229.8 122.10,229.3 122.30,229.1 122.50,229.5 122.70,229.1 122.90,228.8 123.10,229.5 123.30,229.8 123.50,228.8 123.70,230.0 123.90,228.8 124.10,228.5 124.30,230.1 124.50,229.9 124.70,229.2 124.90,228.9 125.10,229.7 125.30,227.0 125.50,227.3 125.70,230.7 125.90,230.6 126.10,229.7 126.30,228.7 126.50,230.5 126.70,230.6 126.90,230.2 127.10,230.6 127.30,229.9 127.50,229.5 127.70,230.3 127.90,229.3 128.10,228.9 128.30,229.4 128.50,229.3 128.70,229.7 128.90,229.5 129.10,230.8 129.30,230.2 129.50,229.8 129.70,230.4 129.90,229.4 130.10,228.4 130.30,229.6 130.50,230.7 130.70,229.3 130.90,229.1 131.10,228.8 131.30,228.6 131.50,228.3 131.70,229.3 131.90,230.3 132.10,229.7 132.30,229.2 132.50,229.5 132.70,230.3 132.90,229.9 133.10,229.0 133.30,229.8 133.50,229.3 133.70,229.3 133.90,229.5 134.10,228.8 134.30,229.0 134.50,230.5 134.70,229.5 134.90,228.6 135.10,230.2 135.30,229.5 135.50,230.8 135.70,230.2 135.90,229.1 136.10,229.2 136.30,229.4 136.50,229.8 136.70,229.7 136.90,230.6 137.10,230.4 137.30,231.8 137.50,230.8 137.70,229.9 137.90,229.6 138.10,229.9 138.30,228.6 138.50,230.0 138.70,230.3 138.90,230.7 139.10,229.4 139.30,230.2 139.50,229.2 139.70,229.4 139.90,229.4 140.10,229.3 140.30,228.7 140.50,229.7 140.70,230.4 140.90,230.1 141.10,229.4 141.30,229.9 141.50,229.6 141.70,229.3 141.90,229.6 142.10,230.6 142.30,230.2 142.50,228.9 142.70,230.4 142.90,231.5 143.10,230.5 143.30,229.9 143.50,230.3 143.70,230.5 143.90,230.2 144.10,228.5 144.30,228.5 144.50,226.7 144.70,228.3 144.90,226.8M150.50,227.4 150.70,228.3 150.90,227.5 151.10,229.1 151.30,228.5 151.50,227.7 151.70,228.0 151.90,229.8 152.10,229.1 152.30,227.8 152.50,229.5 152.70,229.9 152.90,228.9 153.10,227.8 153.30,228.9 153.50,230.2 153.70,228.7 153.90,229.2 154.10,229.1 154.30,229.0 154.50,230.9 154.70,231.6 154.90,231.0 155.10,231.1 155.30,231.1 155.50,230.5 155.70,230.4 155.90,230.2 156.10,230.5 156.30,229.8 156.50,229.9 156.70,230.0 156.90,230.5 157.10,230.6 157.30,230.5 157.50,230.2 157.70,230.5 157.90,230.0 158.10,230.1 158.30,230.9 158.50,230.4 158.70,230.0 158.90,230.4 159.10,230.1 159.30,228.7 159.50,229.8 159.70,228.8 159.90,229.4 160.10,230.8 160.30,229.9 160.50,229.5 160.70,228.9 160.90,229.8 161.10,230.3 161.30,228.1 161.50,228.7 161.70,229.0 161.90,228.6 162.10,228.0 162.30,228.7 162.50,229.3 162.70,228.2 162.90,228.0 163.10,228.1 163.30,228.4 163.50,229.0 163.60,230.0 163.70,228.7 163.90,228.0 164.10,227.4 164.30,227.4 164.40,227.6 164.50,221.9M171.20,226.5 171.30,223.2M179.60,226.9 179.70,226.3 179.90,222.9M183.10,226.5 183.30,229.2 183.50,224.4M187.30,228.5 187.50,227.0 187.70,226.6 187.90,226.4M190.90,228.1 191.00,227.6 191.10,226.9 191.30,226.2 191.50,224.1M194.30,225.4 194.50,228.0 194.70,228.6 194.90,229.3 195.00,229.3 195.10,228.9 195.30,228.6 195.50,228.1 195.70,227.7 195.90,227.3M198.10,227.3 198.30,227.6 198.50,229.9 198.60,228.8 198.70,228.9 198.90,229.0 199.10,228.9 199.30,230.1 199.50,229.9 199.70,229.4 199.90,229.0 200.10,229.4 200.30,229.3 200.50,229.5 200.70,228.5 200.90,227.8 201.10,228.4 201.30,228.3 201.50,229.5 201.70,230.7 201.90,229.9 202.10,228.9 202.30,229.7 202.50,230.0 202.70,228.5 202.90,229.4 203.10,229.7 203.30,230.0 203.50,228.8 203.70,229.6 203.90,230.4 204.10,229.3 204.30,229.2 204.50,228.9 204.70,229.3 204.90,229.5 205.10,228.8 205.30,229.2 205.50,228.2 205.70,230.0 205.90,229.2 206.10,229.5 206.30,229.4 206.50,230.2 206.70,229.4 206.90,230.7 207.10,230.9 207.30,230.6 207.50,231.2 207.70,231.3 207.90,231.2 208.10,231.5 208.30,230.1 208.50,229.1 208.70,228.8 208.90,230.8 209.10,231.8 209.30,230.5 209.50,231.2 209.70,230.7 209.90,231.7 210.10,231.6 210.30,230.6 210.50,230.8 210.70,229.8 210.90,230.0 211.10,229.4 211.30,229.9 211.50,230.6 211.70,229.6 211.90,231.1 212.10,231.0 212.30,229.6 212.50,230.2 212.70,229.3 212.90,230.2 213.10,231.0 213.30,230.1 213.50,230.6 213.70,230.0 213.90,230.1 214.10,230.6 214.30,229.7 214.50,229.6 214.70,229.4 214.90,229.8 215.10,230.6 215.30,229.8 215.50,228.6 215.70,230.6 215.90,231.3 216.10,231.1 216.30,230.2 216.50,230.0 216.70,230.1 216.90,230.3 217.10,229.3 217.30,229.5 217.50,230.1 217.70,230.2 217.90,230.7 218.10,230.6 218.30,230.4 218.50,229.0 218.70,230.8 218.90,230.6 219.10,229.9 219.30,229.8 219.50,229.7 219.70,230.2 219.90,232.2 220.10,230.4 220.30,230.6 220.50,228.8 220.70,229.7 220.90,231.4 221.10,231.2 221.30,231.7 221.50,230.0 221.70,230.1 221.90,229.8 222.10,229.7 222.30,229.7 222.50,230.2 222.70,230.8 222.90,230.9 223.10,230.8 223.30,230.7 223.50,230.5 223.70,230.0 223.90,230.2 224.10,230.9 224.30,230.6 224.50,228.7 224.70,229.7 224.90,229.8 225.10,229.6 225.30,228.8 225.50,230.0 225.70,230.2 225.90,231.0 226.10,230.2 226.30,229.8 226.50,230.0 226.70,229.1 226.90,229.7 227.10,229.1 227.30,229.7 227.50,230.0 227.70,230.0 227.90,229.1 228.10,229.6 228.30,229.1 228.50,228.6 228.70,230.3 228.90,229.3 229.10,228.2 229.30,228.9 229.50,228.0 229.70,229.2 229.90,230.0 230.10,230.9 230.30,229.7 230.50,229.5 230.70,229.0 230.90,228.3 231.10,226.9M232.70,226.6 232.90,228.6 233.10,230.5 233.30,230.2 233.50,228.5 233.70,231.1 233.90,229.6 234.10,229.1 234.30,229.2 234.50,230.7 234.70,230.8 234.90,231.7 235.10,229.6 235.30,229.6 235.50,229.5 235.70,228.1 235.90,228.9 236.10,229.1 236.30,229.2 236.50,229.8 236.70,230.6 236.90,230.2 237.10,230.4 237.30,229.1 237.50,228.9 237.70,228.4 237.90,228.7 238.10,229.1 238.30,228.0 238.50,229.6 238.70,227.5 238.90,227.8 239.10,228.0 239.30,229.4 239.50,229.4 239.70,230.4 239.90,229.6 240.10,228.3 240.30,229.5 240.50,229.4 240.70,230.3 240.90,228.9 241.10,230.3 241.30,229.6 241.50,230.6 241.70,230.0 241.90,230.4 242.10,229.9 242.30,228.9 242.50,229.4 242.70,229.5 242.90,229.0 243.10,230.9 243.30,231.1 243.50,230.9 243.70,230.0 243.90,231.0 244.10,231.8 244.30,232.2 244.50,231.4 244.70,230.5 244.90,231.6 245.10,231.3 245.30,230.5 245.50,230.0 245.70,229.7 245.90,228.6 246.10,228.5 246.30,229.1 246.50,228.7 246.70,229.6 246.90,229.8 247.10,229.7 247.30,229.0 247.50,229.2 247.70,229.6 247.90,229.8 248.10,229.2 248.30,229.5 248.50,229.9 248.70,229.3 248.90,229.5 249.10,231.3 249.30,230.4 249.50,231.4 249.70,232.2 249.90,231.3 250.10,229.6 250.30,229.5 250.50,228.4 250.70,230.6 250.90,230.3 251.10,229.8 251.30,229.7 251.50,230.6 251.70,231.2 251.90,230.7 252.10,231.3 252.30,232.0 252.50,231.5 252.70,230.7 252.90,229.7 253.10,230.5 253.30,229.4 253.50,228.3 253.70,229.7 253.90,230.1 254.10,228.4 254.30,228.0 254.50,228.8 254.70,228.6 254.90,227.9 255.10,228.8 255.30,229.3 255.50,230.2 255.70,230.8 255.90,230.9 256.10,231.1 256.30,229.9 256.50,230.3 256.70,230.4 256.90,230.5 257.10,230.5 257.30,231.0 257.50,231.1 257.70,230.0 257.90,230.2 258.10,231.0 258.30,230.8 258.50,230.9 258.70,230.6 258.90,230.6 259.10,230.4 259.30,231.3 259.50,231.7 259.70,230.8 259.90,229.0 260.10,229.0 260.30,229.0 260.50,229.1 260.70,230.3 260.90,230.1 261.10,229.5 261.30,228.4 261.50,228.5 261.70,228.8 261.90,228.2 262.10,229.9 262.30,230.5 262.50,229.5 262.70,228.9 262.90,230.0 263.10,228.8 263.30,228.6 263.50,230.5 263.70,230.2 263.90,230.4 264.10,229.5 264.30,229.1 264.50,228.4 264.70,230.4 264.90,229.4 265.10,229.0 265.30,229.3 265.50,231.3 265.70,231.6 265.90,231.0 266.10,230.2 266.30,229.2 266.50,228.9 266.70,228.5 266.90,229.0 267.10,229.2 267.30,229.3 267.50,229.3 267.70,227.0 267.90,229.2 268.10,230.3 268.30,229.5 268.50,228.3 268.70,229.7 268.90,230.1 269.10,231.7 269.30,229.3 269.50,229.9 269.70,230.1 269.90,230.3 270.10,229.4 270.30,228.3 270.50,228.4 270.70,230.3 270.90,230.0 271.10,231.5 271.30,229.8 271.50,229.5 271.70,231.6 271.90,230.8 272.10,230.8 272.30,230.4 272.50,230.4 272.70,231.0 272.90,231.1 273.10,229.9 273.30,229.6 273.50,229.3 273.70,229.9 273.90,229.7 274.10,228.7 274.30,230.4 274.50,230.8 274.70,230.3 274.90,231.0 275.10,230.6 275.30,230.5 275.50,229.4 275.70,230.8 275.90,230.7 276.10,230.4 276.30,229.8 276.50,230.3 276.70,232.0 276.90,231.7 277.10,229.9 277.30,229.0 277.50,228.8 277.70,228.3 277.90,229.1 278.10,229.4 278.30,230.0 278.50,229.6 278.70,228.7 278.90,229.3 279.10,229.3 279.30,229.3 279.50,230.0 279.70,230.7 279.90,230.4 280.10,230.2 280.30,231.3 280.50,229.3 280.70,229.0 280.90,229.8 281.10,229.4 281.30,229.2 281.50,228.7 281.70,230.0 281.90,229.0 282.10,229.2 282.30,228.9 282.50,229.4 282.70,228.2 282.90,228.3 283.10,228.1 283.30,228.7 283.50,229.5 283.70,230.0 283.90,229.6 284.10,229.5 284.30,229.6 284.50,229.9 284.70,230.1 284.90,231.1 285.10,229.2 285.30,230.2 285.50,230.1 285.70,230.4 285.90,230.5 286.10,228.6 286.30,228.3 286.50,228.9 286.70,228.3 286.90,230.0 287.10,231.2 287.30,230.0 287.50,230.1 287.70,230.3 287.90,230.3 288.10,228.7 288.30,228.6 288.50,228.4 288.70,231.1 288.90,230.4 289.10,230.7 289.30,230.7 289.50,231.1 289.70,228.6 289.90,228.5 290.10,230.0 290.30,229.8 290.50,229.8 290.70,229.6 290.90,230.3 291.10,231.0 291.30,228.8 291.50,229.6 291.70,229.4 291.90,229.4 292.10,229.1 292.30,229.6 292.50,230.2 292.70,230.6 292.90,231.2 293.10,230.1 293.30,230.5 293.50,230.3 293.70,229.5 293.90,230.0 294.10,230.6 294.30,230.2 294.50,233.5 294.70,231.4 294.90,231.2 295.10,231.1 295.30,231.6 295.50,230.9 295.70,230.3 295.90,230.3 296.10,231.0 296.30,230.2 296.50,229.2 296.70,230.3 296.90,230.5 297.10,230.8 297.30,230.4 297.50,230.7 297.70,230.7 297.90,230.8 298.10,229.9 298.30,229.6 298.50,229.8 298.70,228.5 298.90,228.5 299.10,229.7 299.30,231.0 299.50,229.6 299.70,230.3 299.90,230.4 300.10,230.4 300.30,229.4 300.50,229.0 300.70,229.2 300.90,229.6 301.10,230.4 301.30,231.2 301.50,231.9 301.70,231.7 301.90,230.5 302.10,231.0 302.30,230.9 302.50,230.4 302.70,230.2 302.90,230.4 303.10,231.3 303.30,232.1 303.50,230.8 303.70,230.4 303.90,229.2 304.10,228.8 304.30,228.4 304.50,229.0 304.70,229.1 304.90,228.2 305.10,228.7 305.30,229.0 305.50,230.1 305.70,229.4 305.90,230.2 306.10,230.1 306.30,230.9 306.50,230.5 306.70,230.3 306.90,229.4 307.10,230.1 307.30,230.1 307.50,230.2 307.70,229.9 307.90,231.2 308.10,230.5 308.30,229.9 308.50,229.6 308.70,229.6 308.90,229.4 309.10,229.0 309.30,229.4 309.50,230.7 309.70,231.1 309.90,229.7 310.10,228.8 310.30,229.7 310.50,230.1 310.70,230.8 310.90,230.1 311.10,229.2 311.30,229.2 311.50,229.9 311.70,230.2 311.90,229.8 312.10,230.2 312.30,229.8 312.50,229.7 312.70,229.1 312.90,228.6 313.10,229.1 313.30,229.4 313.50,230.5 313.70,229.8 313.90,229.7 314.10,230.3 314.30,230.0 314.50,229.9 314.70,230.6 314.90,229.4 315.10,230.2 315.30,231.4 315.50,229.8 315.70,229.6 315.90,229.3 316.10,229.8 316.30,230.4 316.50,230.8 316.70,230.3 316.90,229.9 317.10,230.4 317.30,229.9 317.50,229.4 317.70,229.1 317.90,229.1 318.10,230.1 318.30,231.1 318.50,231.1 318.70,230.1 318.90,229.6 319.10,229.3 319.30,230.4 319.50,231.1 319.70,230.6 319.90,231.5 320.10,230.5 320.30,228.4 320.50,228.6 320.70,229.3 320.90,228.6 321.10,228.3 321.30,229.4 321.50,228.3 321.70,230.3 321.90,229.4 322.10,230.5 322.30,229.6 322.50,231.1 322.70,230.6 322.90,231.6 323.10,231.2 323.30,230.1 323.50,230.4 323.70,231.0 323.90,230.5 324.10,231.9 324.30,229.8 324.50,230.2 324.70,230.7 324.90,230.8 325.10,229.6 325.30,230.2 325.50,229.9 325.70,229.5 325.90,230.2 326.10,229.1 326.30,230.4 326.50,229.4 326.70,228.8 326.90,230.3 327.10,231.4 327.30,231.1 327.50,231.6 327.70,230.8 327.90,230.2 328.10,230.0 328.30,229.9 328.50,229.8" fill="none" stroke="#111" stroke-width="1.8" stroke-linejoin="round"/><path d="M74.30,226.15 74.50,218.72 74.70,198.70 74.90,161.97 75.10,120.49 75.30,101.37 75.50,110.84 75.70,135.43 75.90,165.36 76.10,191.51 76.30,209.48 76.50,219.55 76.70,224.31 76.90,226.27M144.70,227.17 144.90,225.02 145.10,220.28 145.30,210.72 145.50,194.16 145.70,170.39 145.90,143.33 146.10,121.02 146.30,112.00 146.50,116.00 146.60,121.15 146.70,127.99 146.90,145.09 147.10,163.90 147.30,181.45 147.50,195.83 147.70,206.37 147.90,213.40 148.10,217.71 148.30,220.21 148.50,221.65 148.70,222.52 148.90,223.12 149.10,223.61 149.30,224.06 149.50,224.49 149.70,224.90 149.90,225.30 150.10,225.69 150.30,226.06 150.50,226.41 150.70,226.73 150.90,227.04 151.10,227.32M164.50,222.00 164.70,211.00 164.90,200.00 165.10,173.50 165.30,180.75 165.50,188.00 165.70,180.50 165.90,173.00 166.10,181.00 166.30,189.00 166.50,180.75 166.70,172.50 166.90,179.75 167.10,187.00 167.30,179.25 167.50,171.50 167.70,176.75 167.90,182.00 168.10,169.33 168.20,163.00 168.30,160.28 168.50,154.84 168.70,149.40 168.90,153.60 169.10,157.80 169.30,162.00 169.50,169.43 169.70,176.86 169.90,184.29 170.00,188.00 170.10,191.25 170.30,197.75 170.50,204.25 170.70,210.75 170.90,217.25 171.10,223.75 171.20,227.00 171.30,223.36 171.50,216.09 171.70,208.82 171.90,201.55 172.10,194.27 172.30,187.00 172.50,189.89 172.70,192.78 172.90,195.67 173.10,198.56 173.20,200.00 173.30,197.72 173.50,193.15 173.70,188.58 173.90,184.02 174.10,179.45 174.30,174.88 174.40,172.60 174.50,177.42 174.70,187.07 174.90,196.71 175.10,206.36 175.30,216.00 175.50,205.12 175.70,194.24 175.90,183.36 176.10,172.48 176.30,161.60 176.50,150.72 176.70,139.84 176.80,134.40 176.90,141.35 177.10,155.25 177.30,169.15 177.50,183.05 177.60,190.00 177.70,190.86 177.90,192.57 178.10,194.29 178.30,196.00 178.50,199.33 178.70,202.67 178.90,206.00 179.10,212.29 179.30,218.57 179.50,224.86 179.70,226.83 179.90,224.49 180.10,222.15 180.30,219.81 180.50,217.46 180.70,215.12 180.90,212.78 181.10,210.44 181.30,208.10 181.50,210.19 181.70,212.28 181.90,214.37 182.10,216.46 182.30,218.55 182.50,220.64 182.70,222.73 182.90,224.82 183.10,226.91 183.50,225.27 183.70,221.54 183.90,217.81 184.10,214.08 184.30,210.35 184.50,206.62 184.70,202.89 184.90,199.16 185.10,195.43 185.30,191.70 185.50,195.41 185.70,199.12 185.90,202.83 186.10,206.54 186.30,210.25 186.50,213.96 186.70,217.67 186.90,221.38 187.10,225.09M187.70,226.76 187.90,225.74 188.10,224.72 188.30,223.70 188.50,222.68 188.70,221.66 188.90,220.64 189.10,219.62 189.30,218.60 189.50,219.71 189.70,220.81 189.90,221.92 190.10,223.02 190.30,224.13 190.50,225.24 190.70,226.34 190.90,227.45 191.30,227.07 191.50,226.44 191.70,225.82 191.90,225.20 192.10,224.58 192.30,223.96 192.50,223.33 192.70,222.71 192.80,222.40 192.90,222.68 193.10,223.23 193.30,223.79 193.50,224.34 193.70,224.90 193.90,225.45 194.10,226.00 194.30,226.56 194.50,227.11M195.50,227.20 195.70,226.68 195.90,226.16 196.10,225.64 196.30,225.12 196.50,224.60 196.70,224.08 196.90,223.56 197.00,223.30 197.10,223.64 197.30,224.33 197.50,225.02 197.70,225.71 197.90,226.39 198.10,227.08M230.90,227.55 231.10,225.60 231.30,223.06 231.50,220.54 231.70,218.95 231.80,218.73 231.90,218.95 232.10,220.55 232.30,223.06 232.50,225.61 232.70,227.56" fill="none" stroke="#111" stroke-width="1.15" stroke-linejoin="round"/><text x="66.7" y="97.0" font-size="9.75" fill="#3a3a48" textLength="17.3" lengthAdjust="spacing">16:0</text><text x="137.8" y="110.0" font-size="9.75" fill="#3a3a48" textLength="17.1" lengthAdjust="spacing">18:0</text><text x="151.0" y="145.0" font-size="9.75" fill="#3a3a48" textLength="20.8" lengthAdjust="spacing">18:1t</text><text x="166.7" y="129.2" font-size="9.75" fill="#3a3a48" textLength="21.7" lengthAdjust="spacing">18:1c</text><text x="217.8" y="216.0" font-size="9.75" fill="#3a3a48" textLength="28.4" lengthAdjust="spacing">18:2c/c</text><text x="236.5" y="95.7" font-size="8.7" fill="#3e3e3e" textLength="93.5" lengthAdjust="spacing">Popcorn Oil FAME Extract</text><text x="236.5" y="107.0" font-size="8.7" fill="#3e3e3e" textLength="43.5" lengthAdjust="spacing">without SPE</text><text x="305.0" y="268.5" font-size="5" fill="#33446a" textLength="23.2" lengthAdjust="spacingAndGlyphs">G003520</text><path d="M375.70,239.30V235.70H699.10V242.70M398.80,235.70v3.60M421.90,235.70v3.60M445.00,235.70v3.60M468.10,235.70v6.80M491.20,235.70v3.60M514.30,235.70v3.60M537.40,235.70v3.60M560.50,235.70v3.60M583.60,235.70v3.60M606.70,235.70v3.60M629.80,235.70v3.60M652.90,235.70v3.60M676.00,235.70v3.60" fill="none" stroke="#444" stroke-width="1"/><text x="375.7" y="251.9" font-size="9.6" fill="#1a1a1a" text-anchor="middle">6</text><text x="421.9" y="251.9" font-size="9.6" fill="#1a1a1a" text-anchor="middle">8</text><text x="462.2" y="251.9" font-size="9.6" fill="#1a1a1a" textLength="11.6" lengthAdjust="spacing">10</text><text x="508.4" y="251.9" font-size="9.6" fill="#1a1a1a" textLength="11.6" lengthAdjust="spacing">12</text><text x="554.6" y="251.9" font-size="9.6" fill="#1a1a1a" textLength="11.6" lengthAdjust="spacing">14</text><text x="600.8" y="251.9" font-size="9.6" fill="#1a1a1a" textLength="11.6" lengthAdjust="spacing">16</text><text x="647.0" y="251.9" font-size="9.6" fill="#1a1a1a" textLength="11.6" lengthAdjust="spacing">18</text><text x="693.2" y="251.9" font-size="9.6" fill="#1a1a1a" textLength="11.6" lengthAdjust="spacing">20</text><text x="528.0" y="265.3" font-size="10" fill="#1a1a1a" textLength="18.4" lengthAdjust="spacing">Min</text><polyline points="375.70,230.0 375.90,230.7 376.10,228.9 376.30,231.9 376.50,227.7 376.70,230.0 376.90,228.5 377.10,231.7 377.30,229.1 377.50,229.4 377.70,234.6 377.90,232.9 378.10,233.1 378.30,232.5 378.50,231.3 378.70,228.1 378.90,229.6 379.10,229.7 379.30,229.9 379.50,234.7 379.70,231.9 379.90,232.5 380.10,230.9 380.30,228.7 380.50,231.9 380.70,227.1 380.90,229.4 381.10,227.4 381.30,229.4 381.50,227.9 381.70,230.2 381.90,229.3 382.10,227.0 382.30,232.6 382.50,229.1 382.70,229.0 382.90,231.7 383.10,230.8 383.30,229.6 383.50,229.2 383.70,233.0 383.90,232.2 384.10,230.1 384.30,228.2 384.50,228.4 384.70,230.4 384.90,229.5 385.10,232.5 385.30,230.1 385.50,230.5 385.70,226.4 385.90,229.4 386.10,233.5 386.30,228.4 386.50,233.4 386.70,228.0 386.90,230.2 387.10,231.5 387.30,227.1 387.50,227.1 387.70,228.5 387.90,230.6 388.10,231.2 388.30,231.6 388.50,228.4 388.70,234.6 388.90,227.1 389.10,231.3 389.30,230.1 389.50,228.0 389.70,234.4 389.90,232.9 390.10,228.8 390.30,234.1 390.50,230.5 390.70,228.6 390.90,232.1 391.10,230.8 391.30,229.1 391.50,234.4 391.70,230.0 391.90,229.7 392.10,232.0 392.30,226.8 392.50,230.2 392.70,232.3 392.90,230.8 393.10,231.2 393.30,231.3 393.50,231.3 393.70,228.9 393.90,229.9 394.10,229.0 394.30,228.6 394.50,231.8 394.70,226.7 394.90,228.9 395.10,230.5 395.30,229.6 395.50,230.3 395.70,232.8 395.90,229.0 396.10,230.7 396.30,228.9 396.50,229.2 396.70,230.2 396.90,232.0 397.10,226.9 397.30,233.9 397.50,231.6 397.70,230.3 397.90,230.1 398.10,231.0 398.30,231.7 398.50,230.4 398.70,226.0 398.90,228.9 399.10,230.5 399.30,230.4 399.50,232.6 399.70,229.2 399.90,229.1 400.10,229.0 400.30,232.6 400.50,228.8 400.70,230.6 400.90,232.9 401.10,228.9 401.30,230.6 401.50,230.1 401.70,227.8 401.90,230.1 402.10,231.4 402.30,229.8 402.50,229.5 402.70,234.3 402.90,228.1 403.10,231.1 403.30,232.9 403.50,228.0 403.70,228.9 403.90,224.9 404.10,224.2 404.30,223.8 404.50,224.6 404.70,223.9 404.90,228.0 405.10,229.7 405.30,230.7 405.50,231.4 405.70,231.1 405.90,227.8 406.10,230.6 406.30,228.5 406.50,230.4 406.70,230.3 406.90,231.1 407.10,228.5 407.30,231.5 407.50,229.7 407.70,230.3 407.90,229.9 408.10,232.2 408.30,226.7 408.50,231.4 408.70,229.8 408.90,227.5 409.10,229.9 409.30,233.7 409.50,233.3 409.70,229.9 409.90,230.8 410.10,230.8 410.30,229.7 410.50,232.9 410.70,230.6 410.90,232.1 411.10,233.5 411.30,229.6 411.50,228.3 411.70,231.5 411.90,232.8 412.10,229.5 412.30,233.1 412.50,227.3 412.70,229.7 412.90,232.7 413.10,231.4 413.30,231.6 413.50,231.0 413.70,226.0 413.90,232.5 414.10,230.8 414.30,228.9 414.50,234.5 414.70,233.6 414.90,232.3 415.10,230.5 415.30,231.3 415.50,228.5 415.70,231.9 415.90,229.7 416.10,232.9 416.30,232.6 416.50,231.6 416.70,229.4 416.90,230.5 417.10,230.2 417.30,230.0 417.50,228.1 417.70,230.9 417.90,231.6 418.10,229.8 418.30,226.8 418.50,231.1 418.70,228.7 418.90,231.6 419.10,229.1 419.30,232.4 419.50,231.2 419.70,227.5 419.90,231.2 420.10,230.0 420.30,227.6 420.50,230.4 420.70,227.0 420.90,231.9 421.10,231.2 421.30,229.7 421.50,229.3 421.70,228.2 421.90,228.5 422.10,229.2 422.30,229.1 422.50,233.0 422.70,231.8 422.90,230.4 423.10,231.4 423.30,228.1 423.50,230.1 423.70,231.8 423.90,231.1 424.10,228.6 424.30,229.5 424.50,229.7 424.70,226.7 424.90,228.5 425.10,227.9 425.30,229.4 425.50,228.8 425.70,232.4 425.90,228.7 426.10,228.7 426.30,231.6 426.50,231.3 426.70,229.1 426.90,228.2 427.10,230.7 427.30,226.9 427.50,232.7 427.70,229.9 427.90,232.5 428.10,227.3 428.30,230.4 428.50,226.8 428.70,231.1 428.90,230.4 429.10,232.8 429.30,229.9 429.50,229.3 429.70,230.9 429.90,230.8 430.10,230.3 430.30,231.3 430.50,233.0 430.70,231.3 430.90,226.1 431.10,229.4 431.30,233.4 431.50,232.1 431.70,229.5 431.90,230.4 432.10,230.9 432.30,231.4 432.50,230.4 432.70,232.4 432.90,227.2 433.10,229.1 433.30,226.2 433.50,230.3 433.70,232.1 433.90,229.7 434.10,229.4 434.30,232.5 434.50,232.1 434.70,232.7 434.90,232.4 435.10,230.5 435.30,230.6 435.50,232.3 435.70,231.1 435.90,229.6 436.10,230.7 436.30,229.1 436.50,230.2 436.70,230.5 436.90,228.8 437.10,231.3 437.30,231.2 437.50,228.8 437.70,230.2 437.90,229.7 438.10,230.8 438.30,227.7 438.50,229.9 438.70,227.7 438.90,228.7 439.10,232.8 439.30,230.1 439.50,231.3 439.70,231.8 439.90,231.4 440.10,229.1 440.30,228.7 440.50,229.5 440.70,228.9 440.90,231.1 441.10,229.2 441.30,230.2 441.50,229.9 441.70,229.4 441.90,231.1 442.10,232.5 442.30,227.6 442.50,233.0 442.70,230.9 442.90,231.9 443.10,228.9 443.30,227.1 443.50,228.5 443.70,231.6 443.90,229.6 444.10,231.0 444.30,231.8 444.50,227.6 444.70,229.7 444.90,229.7 445.10,231.4 445.30,230.2 445.50,227.1 445.70,226.2 445.90,212.9 446.10,187.6 446.30,148.3 446.50,117.4 446.60,112.6 446.70,115.2 446.80,121.6 446.90,131.6 447.10,157.6 447.30,184.2 447.50,205.0 447.70,217.7 447.90,224.3 448.10,228.7 448.30,226.4 448.50,227.4 448.70,228.6 448.90,230.0 449.10,228.8 449.30,231.8 449.50,231.7 449.70,228.5 449.90,231.3 450.10,229.0 450.30,228.5 450.50,232.5 450.70,232.4 450.90,230.6 451.10,233.8 451.30,232.0 451.50,230.0 451.70,231.3 451.90,230.9 452.10,231.4 452.30,229.0 452.50,227.2 452.70,232.3 452.90,230.3 453.10,233.1 453.30,230.5 453.50,230.1 453.70,229.7 453.90,229.8 454.10,226.9 454.30,231.1 454.50,230.2 454.70,230.9 454.90,229.6 455.10,231.0 455.30,233.8 455.50,232.3 455.70,229.0 455.90,231.9 456.10,231.6 456.30,230.1 456.50,229.3 456.70,228.3 456.90,230.2 457.10,227.6 457.30,229.6 457.50,227.9 457.70,230.4 457.90,230.2 458.10,229.1 458.30,231.6 458.50,231.8 458.70,229.2 458.90,232.3 459.10,229.0 459.30,227.0 459.50,230.3 459.70,232.7 459.90,230.7 460.10,231.9 460.30,231.2 460.50,232.3 460.70,231.6 460.90,230.0 461.10,230.4 461.30,230.3 461.50,231.2 461.70,232.5 461.90,230.6 462.10,229.8 462.30,230.7 462.50,229.2 462.70,228.4 462.90,232.6 463.10,230.0 463.30,227.9 463.50,228.5 463.70,227.6 463.90,227.2 464.10,230.6 464.30,230.7 464.50,228.7 464.70,232.2 464.90,232.7 465.10,230.7 465.30,231.6 465.50,231.0 465.70,226.3 465.90,231.1 466.10,229.4 466.30,229.3 466.50,229.4 466.70,229.7 466.90,228.9 467.10,232.4 467.30,227.4 467.50,230.1 467.70,228.2 467.90,231.6 468.10,230.5 468.30,233.3 468.50,232.5 468.70,231.4 468.90,231.1 469.10,232.8 469.30,231.2 469.50,229.2 469.70,228.8 469.90,229.2 470.10,229.8 470.30,228.5 470.50,229.0 470.70,230.6 470.90,227.8 471.10,228.6 471.30,229.6 471.50,228.6 471.70,230.2 471.90,228.7 472.10,228.7 472.30,232.1 472.50,228.4 472.70,230.4 472.90,229.9 473.10,230.7 473.30,229.4 473.50,232.0 473.70,228.3 473.90,229.8 474.10,225.5 474.30,225.5 474.50,227.4 474.70,229.6 474.90,231.6 475.10,227.2 475.30,228.4 475.50,232.7 475.70,225.5 475.90,231.1 476.10,229.7 476.30,229.6 476.50,228.4 476.70,227.8 476.90,231.8 477.10,231.1 477.30,229.8 477.50,230.7 477.70,228.1 477.90,233.3 478.10,230.0 478.30,230.5 478.50,230.7 478.70,226.4 478.90,228.7 479.10,231.7 479.30,231.4 479.50,232.6 479.70,227.3 479.90,230.7 480.10,226.1 480.30,232.9 480.50,229.8 480.70,229.3 480.90,230.0 481.10,230.0 481.30,231.7 481.50,227.4 481.70,232.7 481.90,227.4 482.10,234.2 482.30,227.5 482.50,230.2 482.70,229.8 482.90,232.1 483.10,227.1 483.30,230.3 483.50,232.5 483.70,233.0 483.90,227.4 484.10,229.8 484.30,234.3 484.50,231.7 484.70,230.7 484.90,229.4 485.10,231.0 485.30,232.6 485.50,229.1 485.70,228.4 485.90,227.8 486.10,229.4 486.30,229.3 486.50,226.6 486.70,231.9 486.90,228.8 487.10,227.4 487.30,228.4 487.50,227.7 487.70,231.7 487.90,231.6 488.10,228.8 488.30,229.2 488.50,230.5 488.70,233.8 488.90,226.8 489.10,230.4 489.30,227.7 489.50,231.1 489.70,232.9 489.90,228.7 490.10,230.2 490.30,229.5 490.50,230.2 490.70,230.7 490.90,229.3 491.10,230.1 491.30,234.4 491.50,230.7 491.70,229.4 491.90,229.6 492.10,232.6 492.30,233.3 492.50,231.9 492.70,231.5 492.90,232.7 493.10,232.6 493.30,233.3 493.50,230.7 493.70,230.8 493.90,231.4 494.10,231.1 494.30,231.2 494.50,227.5 494.70,229.6 494.90,231.0 495.10,232.6 495.30,228.3 495.50,231.0 495.70,231.6 495.90,227.6 496.10,230.8 496.30,230.6 496.50,232.1 496.70,231.5 496.90,232.8 497.10,232.3 497.30,228.2 497.50,231.6 497.70,230.1 497.90,230.1 498.10,234.0 498.30,228.6 498.50,232.2 498.70,227.6 498.90,234.3 499.10,231.9 499.30,230.8 499.50,230.8 499.70,230.4 499.90,226.8 500.10,228.6 500.30,228.9 500.50,230.0 500.70,227.9 500.90,231.8 501.10,230.0 501.30,228.7 501.50,230.4 501.70,231.3 501.90,228.1 502.10,229.1 502.30,229.9 502.50,229.9 502.70,229.5 502.90,231.6 503.10,227.0 503.30,232.0 503.50,228.3 503.70,228.4 503.90,230.3 504.10,229.4 504.30,229.2 504.50,230.1 504.70,229.1 504.90,230.3 505.10,233.0 505.30,226.9 505.50,228.8 505.70,229.4 505.90,230.7 506.10,225.5 506.30,232.3 506.50,230.7 506.70,230.3 506.90,231.7 507.10,226.0 507.30,231.4 507.50,229.1 507.70,227.6 507.90,229.2 508.10,231.5 508.30,229.9 508.50,228.2 508.70,232.2 508.90,231.4 509.10,229.5 509.30,232.0 509.50,229.2 509.70,230.9 509.90,230.8 510.10,229.2 510.30,234.2 510.50,227.3 510.70,229.9 510.90,230.6 511.10,227.5 511.30,230.1 511.50,226.9 511.70,228.2 511.90,229.0 512.10,229.9 512.30,230.4 512.50,231.5 512.70,229.9 512.90,228.8 513.10,230.0 513.30,228.7 513.50,230.8 513.70,227.9 513.90,231.1 514.10,229.7 514.30,228.0 514.50,230.9 514.70,226.8 514.90,228.3 515.10,234.2 515.30,228.7 515.50,228.8 515.70,227.9 515.90,226.7 516.10,225.3 516.30,225.2 516.50,219.7 516.70,208.2 516.90,191.6 517.10,169.8 517.30,148.7 517.50,134.5 517.60,133.1 517.70,133.6 517.90,140.4 518.10,152.4 518.30,167.6 518.50,182.8 518.70,195.8 518.90,206.7 519.10,214.2 519.30,219.0 519.50,221.5 519.70,223.4 519.90,223.8 520.10,225.7 520.30,222.7 520.50,226.4 520.70,226.5 520.90,225.4 521.10,224.8 521.30,226.9 521.50,227.7 521.70,225.8 521.90,230.0 522.10,224.7 522.30,229.5 522.50,228.3 522.70,230.0 522.90,232.3 523.10,229.4 523.30,228.0 523.50,228.9 523.70,228.6 523.90,230.3 524.10,231.6 524.30,231.3 524.50,230.0 524.70,228.1 524.90,230.2 525.10,230.6 525.30,231.0 525.50,228.7 525.70,230.7 525.90,226.9 526.10,228.1 526.30,231.8 526.50,227.8 526.70,229.9 526.90,233.0 527.10,228.9 527.30,228.7 527.50,230.2 527.70,231.7 527.90,229.7 528.10,228.3 528.30,232.0 528.50,231.9 528.70,229.4 528.90,232.5 529.10,231.6 529.30,229.1 529.50,229.5 529.70,228.8 529.90,228.0 530.10,227.8 530.30,230.5 530.50,227.3 530.70,233.8 530.90,226.7 531.10,230.8 531.30,231.8 531.50,228.6 531.70,228.0 531.90,231.4 532.10,231.2 532.30,228.0 532.50,233.8 532.70,227.7 532.90,232.2 533.10,231.0 533.30,230.2 533.50,233.5 533.70,226.5 533.90,230.6 534.10,228.2 534.30,231.3 534.50,232.1 534.70,229.7 534.80,232.1 534.90,228.0 535.10,224.5 535.30,225.9 535.50,228.4 535.70,220.9 535.90,213.7 536.10,206.7 536.30,200.4 536.50,181.1 536.70,188.5 536.90,195.9 537.10,188.2 537.30,180.4 537.50,187.1 537.70,195.5 537.90,187.8 538.10,179.6 538.30,185.8 538.50,192.6 538.70,185.4 538.90,179.6 539.00,175.7 539.10,173.4 539.30,167.7 539.50,161.8 539.60,158.3 539.70,160.8 539.90,162.5 540.10,165.0 540.30,166.8 540.40,167.5 540.50,168.4 540.70,169.3 540.90,169.8 541.10,170.7 541.30,171.6 541.50,182.6 541.70,194.3 541.90,205.5 542.10,217.2 542.30,228.5 542.50,222.8 542.70,217.4 542.90,210.9 543.10,205.6 543.30,199.9 543.50,194.0 543.70,199.0 543.90,203.3 544.10,208.0 544.30,212.8 544.50,217.0 544.70,210.9 544.90,204.5 545.10,198.6 545.30,192.5 545.50,186.0 545.70,193.8 545.90,202.0 546.10,209.3 546.30,216.7 546.50,224.0 546.60,228.9 546.70,228.1 546.90,229.2 547.10,229.5 547.30,232.2 547.50,229.2 547.70,227.6 547.80,230.0 547.90,222.8 548.10,225.2 548.30,225.6 548.50,225.4 548.70,223.5 548.90,223.2 549.00,222.5 549.10,222.6 549.30,223.6 549.50,225.5 549.70,227.6 549.90,223.8 550.10,226.2 550.30,228.8 550.50,229.9 550.70,227.6 550.90,227.1 551.10,230.9 551.30,225.1 551.50,224.3 551.70,226.1 551.90,221.8 552.00,223.2 552.10,224.8 552.30,224.5 552.50,227.4 552.70,227.7 552.90,225.8 553.10,228.7 553.20,228.8 553.30,227.6 553.50,228.2 553.70,230.9 553.90,227.9 554.10,229.1 554.30,228.8 554.50,231.6 554.70,231.2 554.90,234.3 555.10,232.1 555.30,228.6 555.50,228.6 555.70,226.0 555.90,229.3 556.10,230.5 556.30,229.4 556.50,229.5 556.70,232.0 556.90,226.5 557.10,233.1 557.30,230.9 557.50,231.4 557.70,229.3 557.90,230.9 558.10,229.8 558.30,229.4 558.50,229.5 558.70,232.4 558.90,228.4 559.10,232.3 559.30,231.6 559.50,229.7 559.70,230.9 559.90,230.9 560.10,232.0 560.30,229.1 560.50,231.5 560.70,233.2 560.90,232.3 561.10,233.3 561.30,231.5 561.50,231.3 561.70,231.7 561.90,232.2 562.10,227.1 562.30,228.7 562.50,226.5 562.70,228.2 562.90,229.7 563.10,225.7 563.30,228.1 563.50,226.1 563.70,225.9 563.90,226.4 564.10,225.4 564.30,231.0 564.50,223.9 564.70,230.4 564.90,229.3 565.10,228.9 565.30,228.0 565.50,230.6 565.70,230.7 565.90,228.2 566.10,226.8 566.30,230.0 566.50,227.1 566.70,232.4 566.90,230.5 567.10,230.5 567.30,230.2 567.50,229.2 567.70,231.8 567.90,231.1 568.10,231.1 568.30,229.3 568.50,230.5 568.70,229.6 568.90,232.0 569.10,231.2 569.30,233.1 569.50,226.5 569.70,230.8 569.90,229.4 570.10,230.7 570.30,230.8 570.50,227.2 570.70,228.0 570.90,226.6 571.10,228.4 571.30,230.1 571.50,233.7 571.70,231.5 571.90,234.0 572.10,231.7 572.30,231.9 572.50,229.0 572.70,228.6 572.90,227.9 573.10,231.8 573.30,228.2 573.50,233.2 573.70,230.6 573.90,232.3 574.10,229.0 574.30,232.4 574.50,228.1 574.70,230.4 574.90,229.3 575.10,230.9 575.30,230.4 575.50,231.3 575.70,233.7 575.90,230.6 576.10,230.0 576.30,228.5 576.50,229.6 576.70,233.5 576.90,228.9 577.10,232.9 577.30,230.8 577.50,232.3 577.70,228.2 577.90,230.6 578.10,228.2 578.30,225.9 578.50,230.7 578.70,230.7 578.90,230.5 579.10,227.9 579.30,228.6 579.50,229.4 579.70,228.1 579.90,232.2 580.10,230.6 580.30,230.3 580.50,227.5 580.70,228.8 580.90,227.0 581.10,231.2 581.30,229.5 581.50,230.4 581.70,230.8 581.90,230.3 582.10,229.8 582.30,227.0 582.50,230.7 582.70,225.9 582.90,230.2 583.10,229.1 583.30,226.7 583.50,231.1 583.70,230.9 583.90,229.7 584.10,231.0 584.30,231.4 584.50,229.2 584.70,231.3 584.90,231.2 585.10,233.1 585.30,228.8 585.50,227.7 585.70,229.2 585.90,229.7 586.10,230.2 586.30,231.7 586.50,229.8 586.70,231.5 586.90,229.4 587.10,230.9 587.30,228.3 587.50,230.9 587.70,233.4 587.90,232.3 588.10,232.6 588.30,227.2 588.50,229.2 588.70,229.6 588.90,228.6 589.10,229.0 589.30,232.6 589.50,229.7 589.70,227.7 589.90,230.0 590.10,232.5 590.30,226.3 590.50,231.5 590.70,230.0 590.90,229.9 591.10,230.9 591.30,233.1 591.50,229.8 591.70,232.6 591.90,231.2 592.10,230.1 592.30,228.2 592.50,229.1 592.70,229.2 592.90,227.3 593.10,228.4 593.30,230.3 593.50,233.0 593.70,230.1 593.90,229.9 594.10,229.9 594.30,234.2 594.50,231.4 594.70,233.0 594.90,228.2 595.10,231.3 595.30,231.7 595.50,229.2 595.70,226.1 595.90,228.0 596.10,228.7 596.30,228.4 596.50,229.3 596.70,230.9 596.90,230.5 597.10,234.2 597.30,231.7 597.50,228.2 597.70,230.0 597.90,228.3 598.10,229.7 598.30,230.0 598.50,227.4 598.70,233.3 598.90,229.8 599.10,229.1 599.30,230.8 599.50,232.1 599.70,227.5 599.90,232.4 600.10,232.4 600.30,226.9 600.50,230.3 600.70,234.2 600.90,229.2 601.10,226.6 601.30,230.8 601.50,230.7 601.70,232.7 601.90,227.4 602.10,229.3 602.30,230.5 602.50,232.8 602.70,232.6 602.90,229.2 603.10,228.3 603.30,229.3 603.50,230.9 603.70,229.6 603.90,228.5 604.10,230.1 604.30,231.1 604.50,232.4 604.70,233.6 604.90,228.8 605.10,229.1 605.30,229.4 605.50,228.9 605.70,231.9 605.90,230.3 606.10,229.1 606.30,229.2 606.50,228.6 606.70,227.9 606.90,231.8 607.10,227.9 607.30,229.6 607.50,231.6 607.70,228.5 607.90,230.7 608.10,229.5 608.30,228.5 608.50,227.4 608.70,230.7 608.90,230.4 609.10,228.3 609.30,232.3 609.50,230.4 609.70,231.7 609.90,228.7 610.10,229.6 610.30,230.3 610.50,228.2 610.70,227.7 610.90,233.7 611.10,229.8 611.30,227.9 611.50,230.6 611.70,227.9 611.90,231.1 612.10,227.9 612.30,227.1 612.50,233.4 612.70,228.9 612.90,232.8 613.10,229.5 613.30,229.0 613.50,229.8 613.70,233.0 613.90,228.1 614.10,227.3 614.30,230.6 614.50,230.3 614.70,228.3 614.90,227.2 615.10,231.5 615.30,229.7 615.50,229.6 615.70,227.6 615.90,231.5 616.10,226.7 616.30,227.5 616.50,225.7 616.70,229.9 616.90,229.1 617.10,231.2 617.30,229.8 617.50,226.9 617.70,229.4 617.90,232.1 618.10,230.8 618.30,230.8 618.50,231.4 618.70,231.0 618.90,231.1 619.10,228.0 619.30,229.9 619.50,228.7 619.70,228.6 619.90,229.8 620.10,231.6 620.30,230.4 620.50,231.8 620.70,230.0 620.90,229.0 621.10,227.0 621.30,232.8 621.50,233.0 621.70,231.1 621.90,229.2 622.10,229.3 622.30,230.9 622.50,227.4 622.70,230.0 622.90,228.3 623.10,229.4 623.30,230.2 623.50,228.9 623.70,233.7 623.90,234.1 624.10,231.3 624.30,229.0 624.50,226.5 624.70,228.9 624.90,231.7 625.10,230.5 625.30,229.5 625.50,229.5 625.70,226.6 625.90,227.6 626.10,229.2 626.30,233.2 626.50,230.3 626.70,232.5 626.90,232.8 627.10,229.7 627.30,228.5 627.50,227.6 627.70,230.1 627.90,231.5 628.10,229.4 628.30,230.3 628.50,228.1 628.70,230.3 628.90,229.6 629.10,227.1 629.30,230.7 629.50,229.5 629.70,232.4 629.90,230.0 630.10,227.8 630.30,229.7 630.50,231.0 630.70,229.1 630.90,228.6 631.10,230.8 631.30,230.1 631.50,230.8 631.70,229.6 631.90,229.4 632.10,228.4 632.30,232.6 632.50,232.1 632.70,230.0 632.90,232.9 633.10,232.4 633.30,227.5 633.50,232.5 633.70,230.3 633.90,229.0 634.10,230.2 634.30,230.2 634.50,231.0 634.70,233.9 634.90,231.4 635.10,230.3 635.30,232.3 635.50,230.9 635.70,229.6 635.90,231.0 636.10,228.9 636.30,230.0 636.50,231.2 636.70,230.2 636.90,229.3 637.10,231.8 637.30,230.4 637.50,233.3 637.70,229.5 637.90,233.5 638.10,230.8 638.30,230.7 638.50,230.1 638.70,230.8 638.90,232.8 639.10,231.7 639.30,231.2 639.50,227.5 639.70,231.8 639.90,231.0 640.10,233.6 640.30,227.5 640.50,230.7 640.70,230.7 640.90,228.2 641.10,228.3 641.30,231.0 641.50,232.0 641.70,232.0 641.90,231.1 642.10,230.9 642.30,231.2 642.50,226.2 642.70,230.5 642.90,230.3 643.10,228.1 643.30,230.9 643.50,232.1 643.70,228.8 643.90,233.7 644.10,231.0 644.30,226.3 644.50,230.4 644.70,230.5 644.90,230.3 645.10,229.6 645.30,230.8 645.50,230.8 645.70,227.0 645.90,227.3 646.10,230.6 646.30,229.7 646.50,232.0 646.70,230.9 646.90,232.5 647.10,232.0 647.30,232.8 647.50,231.6 647.70,234.2 647.90,231.6 648.10,230.8 648.30,232.0 648.50,227.5 648.70,233.3 648.90,230.3 649.10,232.0 649.30,229.5 649.50,227.5 649.70,230.7 649.90,230.6 650.10,229.7 650.30,232.1 650.50,228.7 650.70,229.1 650.90,233.3 651.10,230.4 651.30,229.9 651.50,229.7 651.70,231.7 651.90,232.4 652.10,232.9 652.30,231.1 652.50,226.7 652.70,233.0 652.90,232.3 653.10,228.7 653.30,228.5 653.50,228.0 653.70,231.1 653.90,230.2 654.10,231.4 654.30,229.0 654.50,228.1 654.70,231.5 654.90,230.6 655.10,232.2 655.30,228.4 655.50,232.1 655.70,230.9 655.90,230.6 656.10,231.1 656.30,230.8 656.50,233.6 656.70,232.7 656.90,230.7 657.10,232.4 657.30,232.4 657.50,231.7 657.70,231.3 657.90,231.8 658.10,226.7 658.30,228.7 658.50,230.8 658.70,230.6 658.90,228.0 659.10,232.1 659.30,230.2 659.50,229.6 659.70,231.1 659.90,229.2 660.10,232.1 660.30,231.1 660.50,230.1 660.70,234.4 660.90,231.7 661.10,232.4 661.30,231.3 661.50,231.3 661.70,231.6 661.90,229.5 662.10,231.7 662.30,230.0 662.50,231.4 662.70,232.1 662.90,233.0 663.10,233.6 663.30,229.7 663.50,231.1 663.70,232.4 663.90,229.6 664.10,229.2 664.30,232.3 664.50,231.6 664.70,231.1 664.90,232.8 665.10,229.3 665.30,229.9 665.50,231.1 665.70,228.8 665.90,230.2 666.10,232.5 666.30,231.5 666.50,231.5 666.70,230.2 666.90,230.5 667.10,230.0 667.30,230.2 667.50,232.7 667.70,230.6 667.90,229.0 668.10,232.1 668.30,231.4 668.50,230.3 668.70,232.3 668.90,228.8 669.10,229.7 669.30,229.4 669.50,230.4 669.70,229.4 669.90,231.2 670.10,232.5 670.30,231.1 670.50,230.3 670.70,229.4 670.90,231.7 671.10,231.3 671.30,230.9 671.50,229.7 671.70,232.0 671.90,232.9 672.10,231.4 672.30,231.7 672.50,233.3 672.70,230.6 672.90,231.7 673.10,231.4 673.30,231.6 673.50,231.2 673.70,230.3 673.90,228.9 674.10,230.7 674.30,230.3 674.50,230.6 674.70,230.2 674.90,229.6 675.10,232.2 675.30,231.2 675.50,230.1 675.70,230.9 675.90,231.5 676.10,230.1 676.30,230.1 676.50,231.3 676.70,231.9 676.90,229.6 677.10,229.6 677.30,231.7 677.50,230.7 677.70,230.3 677.90,230.1 678.10,231.8 678.30,232.7 678.50,230.4 678.70,229.8 678.90,230.6 679.10,231.1 679.30,230.7 679.50,231.4 679.70,231.5 679.90,229.8 680.10,230.1 680.30,231.9 680.50,230.9 680.70,232.0 680.90,230.3 681.10,230.6 681.30,231.4 681.50,229.7 681.70,231.5 681.90,230.3 682.10,231.1 682.30,231.7 682.50,230.3 682.70,230.1 682.90,230.4 683.10,231.3 683.30,231.0 683.50,230.5 683.70,229.7 683.90,230.9 684.10,229.9 684.30,230.1 684.50,229.6 684.70,230.5 684.90,230.6 685.10,230.3 685.30,230.0 685.50,230.6 685.70,230.5 685.90,231.1 686.10,230.9 686.30,230.4 686.50,230.5 686.70,231.0 686.90,229.6 687.10,230.2 687.30,230.6 687.50,229.5 687.70,230.5 687.90,230.0 688.10,230.3 688.30,229.9 688.50,230.1 688.70,230.7 688.90,230.2 689.10,230.5 689.30,230.8 689.50,230.9 689.70,231.3 689.90,230.5 690.10,231.0 690.30,230.4 690.50,230.3 690.70,231.7 690.90,229.8 691.10,230.4 691.30,230.6 691.50,230.0 691.70,230.5 691.90,230.7 692.10,230.2 692.30,230.2 692.50,231.0 692.70,231.1 692.90,230.8 693.10,230.5 693.30,229.4 693.50,230.7 693.70,230.4 693.90,230.1 694.10,230.3 694.30,229.6 694.50,231.0 694.70,230.9 694.90,231.5 695.10,230.7 695.30,229.6 695.50,230.8" fill="none" stroke="#444" stroke-width="0.6" stroke-linejoin="round"/><path d="M375.70,232.9 375.90,231.9 376.10,231.5 376.30,230.7 376.50,229.8 376.70,229.8 376.90,229.8 377.10,229.3 377.30,230.7 377.50,229.5 377.70,229.4 377.90,229.6 378.10,229.8 378.30,230.3 378.50,229.5 378.70,230.5 378.90,229.8 379.10,231.1 379.30,230.3 379.50,231.6 379.70,229.6 379.90,229.8 380.10,230.4 380.30,230.2 380.50,230.3 380.70,230.1 380.90,230.1 381.10,230.9 381.30,231.2 381.50,230.6 381.70,229.4 381.90,229.4 382.10,228.6 382.30,229.6 382.50,230.5 382.70,230.7 382.90,230.4 383.10,231.0 383.30,230.7 383.50,230.7 383.70,231.8 383.90,231.3 384.10,231.1 384.30,231.6 384.50,231.0 384.70,231.0 384.90,231.5 385.10,231.3 385.30,230.7 385.50,230.5 385.70,230.7 385.90,230.5 386.10,230.4 386.30,231.1 386.50,231.4 386.70,231.9 386.90,231.0 387.10,230.0 387.30,230.6 387.50,231.3 387.70,230.5 387.90,230.6 388.10,228.6 388.30,230.2 388.50,229.0 388.70,229.9 388.90,230.2 389.10,230.4 389.30,230.9 389.50,229.7 389.70,231.0 389.90,229.8 390.10,229.8 390.30,230.6 390.50,230.2 390.70,230.4 390.90,229.7 391.10,229.4 391.30,230.4 391.50,230.7 391.70,230.7 391.90,230.8 392.10,230.7 392.30,230.6 392.50,230.0 392.70,229.6 392.90,230.9 393.10,229.6 393.30,230.1 393.50,230.8 393.70,229.5 393.90,229.7 394.10,229.8 394.30,228.5 394.50,228.9 394.70,230.5 394.90,230.2 395.10,229.7 395.30,229.1 395.50,230.5 395.70,228.9 395.90,229.3 396.10,229.7 396.30,229.6 396.50,229.4 396.70,230.1 396.90,230.1 397.10,230.6 397.30,229.9 397.50,230.4 397.70,231.0 397.90,231.4 398.10,230.2 398.30,231.4 398.50,232.0 398.70,230.7 398.90,229.3 399.10,231.0 399.30,230.1 399.50,231.4 399.70,231.7 399.90,230.8 400.10,229.9 400.30,230.5 400.50,230.2 400.70,229.8 400.90,231.3 401.10,232.1 401.30,231.5 401.50,232.1 401.70,230.8 401.90,229.9 402.10,230.2 402.30,230.5 402.50,231.4 402.70,230.9 402.90,231.2 403.10,230.5 403.30,229.9 403.50,229.0 403.70,227.1M405.10,228.5 405.30,229.5 405.50,229.9 405.70,230.0 405.90,230.9 406.10,230.3 406.30,230.5 406.50,230.0 406.70,230.5 406.90,230.0 407.10,230.0 407.30,229.4 407.50,229.2 407.70,229.4 407.90,230.2 408.10,230.6 408.30,230.6 408.50,230.6 408.70,231.5 408.90,230.8 409.10,230.9 409.30,231.3 409.50,231.4 409.70,230.0 409.90,229.2 410.10,229.9 410.30,230.3 410.50,229.5 410.70,229.7 410.90,228.9 411.10,229.2 411.30,227.7 411.50,228.5 411.70,229.5 411.90,229.2 412.10,229.2 412.30,229.9 412.50,230.1 412.70,229.7 412.90,229.3 413.10,229.9 413.30,229.9 413.50,230.3 413.70,230.3 413.90,231.2 414.10,229.3 414.30,231.1 414.50,230.5 414.70,230.2 414.90,229.1 415.10,230.5 415.30,229.1 415.50,229.4 415.70,229.4 415.90,230.3 416.10,229.5 416.30,229.3 416.50,228.6 416.70,229.3 416.90,229.9 417.10,230.2 417.30,230.7 417.50,229.9 417.70,230.6 417.90,229.9 418.10,229.4 418.30,229.2 418.50,230.5 418.70,230.8 418.90,230.6 419.10,229.2 419.30,230.8 419.50,231.4 419.70,230.2 419.90,230.0 420.10,230.3 420.30,230.6 420.50,229.7 420.70,229.9 420.90,229.3 421.10,228.2 421.30,228.7 421.50,228.6 421.70,229.4 421.90,229.2 422.10,230.5 422.30,230.9 422.50,229.4 422.70,228.4 422.90,227.6 423.10,228.2 423.30,230.0 423.50,229.8 423.70,228.9 423.90,229.7 424.10,228.9 424.30,230.1 424.50,230.2 424.70,230.0 424.90,229.3 425.10,228.2 425.30,229.9 425.50,230.3 425.70,230.9 425.90,230.4 426.10,230.7 426.30,230.4 426.50,230.0 426.70,229.7 426.90,230.5 427.10,229.9 427.30,230.0 427.50,230.7 427.70,230.4 427.90,230.7 428.10,231.1 428.30,230.3 428.50,231.1 428.70,229.8 428.90,229.7 429.10,231.1 429.30,231.7 429.50,232.4 429.70,232.5 429.90,232.1 430.10,231.2 430.30,230.8 430.50,229.8 430.70,229.9 430.90,229.4 431.10,229.2 431.30,229.9 431.50,230.3 431.70,230.6 431.90,230.6 432.10,230.9 432.30,229.6 432.50,229.8 432.70,229.9 432.90,231.4 433.10,231.8 433.30,231.1 433.50,230.4 433.70,230.0 433.90,229.9 434.10,230.7 434.30,231.0 434.50,230.2 434.70,230.3 434.90,229.6 435.10,229.4 435.30,230.2 435.50,231.4 435.70,230.9 435.90,231.7 436.10,229.3 436.30,231.1 436.50,231.4 436.70,230.9 436.90,230.6 437.10,230.4 437.30,229.9 437.50,230.6 437.70,230.4 437.90,229.2 438.10,230.5 438.30,229.7 438.50,230.0 438.70,231.4 438.90,230.2 439.10,230.5 439.30,231.4 439.50,230.3 439.70,230.1 439.90,229.5 440.10,229.3 440.30,228.7 440.50,230.4 440.70,229.4 440.90,229.6 441.10,230.0 441.30,228.9 441.50,229.4 441.70,228.8 441.90,229.0 442.10,228.4 442.30,229.8 442.50,231.0 442.70,229.7 442.90,229.9 443.10,229.9 443.30,230.2 443.50,229.7 443.70,230.4 443.90,230.1 444.10,230.9 444.30,229.9 444.50,229.7 444.70,231.7 444.90,230.7 445.10,230.9 445.30,228.6 445.50,228.5 445.70,224.7M448.30,227.8 448.50,227.2 448.70,227.3 448.90,228.5 449.10,229.5 449.30,228.6 449.50,228.5 449.70,230.0 449.90,230.1 450.10,230.4 450.30,230.4 450.50,230.9 450.70,230.5 450.90,229.6 451.10,228.8 451.30,229.4 451.50,230.0 451.70,229.4 451.90,230.5 452.10,229.7 452.30,229.3 452.50,229.9 452.70,229.8 452.90,229.9 453.10,230.9 453.30,230.4 453.50,230.1 453.70,231.2 453.90,231.3 454.10,232.1 454.30,231.1 454.50,230.7 454.70,231.0 454.90,231.8 455.10,231.2 455.30,231.2 455.50,229.9 455.70,230.6 455.90,229.8 456.10,229.5 456.30,228.3 456.50,230.1 456.70,230.4 456.90,230.2 457.10,230.6 457.30,229.7 457.50,228.6 457.70,229.2 457.90,229.7 458.10,230.2 458.30,230.5 458.50,230.9 458.70,230.0 458.90,229.3 459.10,229.5 459.30,230.9 459.50,230.6 459.70,231.5 459.90,231.3 460.10,231.3 460.30,229.9 460.50,231.0 460.70,230.3 460.90,229.6 461.10,230.2 461.30,230.5 461.50,230.7 461.70,231.3 461.90,231.7 462.10,231.0 462.30,229.3 462.50,228.7 462.70,229.5 462.90,229.9 463.10,229.9 463.30,230.9 463.50,229.7 463.70,229.3 463.90,231.1 464.10,231.4 464.30,230.5 464.50,230.1 464.70,230.1 464.90,231.1 465.10,230.3 465.30,230.6 465.50,229.7 465.70,230.2 465.90,229.9 466.10,229.9 466.30,229.9 466.50,229.6 466.70,230.2 466.90,229.4 467.10,229.0 467.30,230.3 467.50,229.4 467.70,229.6 467.90,230.7 468.10,231.5 468.30,230.5 468.50,230.0 468.70,230.8 468.90,230.7 469.10,232.0 469.30,230.5 469.50,230.5 469.70,230.2 469.90,230.1 470.10,230.1 470.30,230.6 470.50,230.9 470.70,231.6 470.90,232.2 471.10,232.5 471.30,229.8 471.50,230.3 471.70,231.1 471.90,228.8 472.10,228.7 472.30,230.1 472.50,229.4 472.70,229.9 472.90,230.1 473.10,230.2 473.30,229.7 473.50,229.4 473.70,230.7 473.90,228.8 474.10,229.7 474.30,230.0 474.50,229.6 474.70,229.7 474.90,228.8 475.10,228.7 475.30,230.0 475.50,229.5 475.70,230.1 475.90,229.6 476.10,231.1 476.30,229.3 476.50,230.3 476.70,230.3 476.90,230.2 477.10,229.9 477.30,230.8 477.50,231.0 477.70,230.2 477.90,230.2 478.10,230.1 478.30,231.7 478.50,231.5 478.70,230.9 478.90,230.6 479.10,231.1 479.30,230.4 479.50,230.0 479.70,231.2 479.90,230.1 480.10,230.8 480.30,230.7 480.50,230.2 480.70,230.0 480.90,230.4 481.10,230.6 481.30,229.8 481.50,229.3 481.70,229.9 481.90,229.5 482.10,230.7 482.30,230.1 482.50,229.0 482.70,228.2 482.90,229.6 483.10,230.4 483.30,229.3 483.50,230.1 483.70,229.7 483.90,230.8 484.10,230.1 484.30,229.7 484.50,229.8 484.70,230.5 484.90,229.9 485.10,230.0 485.30,230.6 485.50,229.8 485.70,229.8 485.90,228.9 486.10,229.8 486.30,229.7 486.50,230.2 486.70,229.6 486.90,230.1 487.10,230.8 487.30,230.6 487.50,230.9 487.70,230.6 487.90,230.6 488.10,230.7 488.30,230.8 488.50,231.2 488.70,230.3 488.90,230.1 489.10,229.7 489.30,230.0 489.50,230.4 489.70,230.3 489.90,229.0 490.10,229.4 490.30,229.8 490.50,229.9 490.70,230.4 490.90,230.3 491.10,229.8 491.30,229.8 491.50,229.9 491.70,229.8 491.90,230.1 492.10,230.5 492.30,230.1 492.50,229.4 492.70,228.0 492.90,229.3 493.10,228.9 493.30,228.2 493.50,228.4 493.70,229.5 493.90,230.0 494.10,229.8 494.30,229.4 494.50,229.7 494.70,229.5 494.90,230.3 495.10,231.2 495.30,228.9 495.50,230.8 495.70,230.2 495.90,229.6 496.10,228.8 496.30,228.8 496.50,229.4 496.70,228.4 496.90,228.7 497.10,229.8 497.30,229.7 497.50,228.9 497.70,230.2 497.90,230.3 498.10,229.1 498.30,229.8 498.50,229.7 498.70,230.1 498.90,230.3 499.10,229.3 499.30,230.0 499.50,230.8 499.70,230.3 499.90,231.1 500.10,230.8 500.30,229.7 500.50,228.9 500.70,229.4 500.90,229.5 501.10,229.1 501.30,228.4 501.50,229.3 501.70,230.2 501.90,230.4 502.10,231.3 502.30,231.8 502.50,230.3 502.70,230.6 502.90,230.2 503.10,231.7 503.30,232.5 503.50,231.5 503.70,229.9 503.90,230.3 504.10,229.9 504.30,230.2 504.50,230.2 504.70,230.6 504.90,229.6 505.10,229.8 505.30,229.8 505.50,231.2 505.70,230.4 505.90,229.9 506.10,230.4 506.30,229.5 506.50,229.8 506.70,229.8 506.90,228.7 507.10,230.1 507.30,230.6 507.50,230.2 507.70,230.7 507.90,230.3 508.10,229.5 508.30,230.1 508.50,229.1 508.70,230.0 508.90,229.0 509.10,229.9 509.30,231.2 509.50,228.6 509.70,229.1 509.90,230.9 510.10,229.7 510.30,229.8 510.50,230.5 510.70,231.1 510.90,230.5 511.10,230.7 511.30,230.9 511.50,229.8 511.70,230.1 511.90,230.0 512.10,230.3 512.30,230.5 512.50,231.3 512.70,230.3 512.90,230.3 513.10,229.9 513.30,228.8 513.50,230.1 513.70,230.1 513.90,229.2 514.10,229.4 514.30,231.6 514.50,230.5 514.70,231.4 514.90,230.0 515.10,230.5 515.30,230.4 515.50,229.8 515.70,229.3 515.90,228.5 516.10,227.2 516.30,226.0M521.30,225.4 521.50,226.6 521.70,228.2 521.90,229.3 522.10,229.0 522.30,228.0 522.50,228.0 522.70,230.1 522.90,228.5 523.10,229.5 523.30,229.7 523.50,229.3 523.70,230.2 523.90,230.7 524.10,230.4 524.30,228.9 524.50,228.9 524.70,230.0 524.90,230.7 525.10,231.0 525.30,229.4 525.50,230.2 525.70,230.0 525.90,229.4 526.10,229.9 526.30,230.3 526.50,230.0 526.70,230.7 526.90,231.0 527.10,230.0 527.30,231.0 527.50,231.4 527.70,230.0 527.90,228.9 528.10,229.3 528.30,228.9 528.50,229.8 528.70,230.1 528.90,229.9 529.10,231.9 529.30,230.4 529.50,230.6 529.70,231.5 529.90,231.5 530.10,230.8 530.30,230.1 530.50,230.4 530.70,231.5 530.90,230.1 531.10,230.6 531.30,230.4 531.50,231.0 531.70,229.9 531.90,229.4 532.10,229.0 532.30,229.3 532.50,229.2 532.70,229.9 532.90,230.3 533.10,229.7 533.30,229.8 533.50,229.7 533.70,229.3 533.90,229.7 534.10,230.1 534.30,230.1 534.50,230.5 534.70,229.7 534.80,229.3 534.90,227.7 535.10,228.5 535.30,228.9 535.50,229.0 535.70,221.5M542.30,228.5 542.50,222.9M546.60,228.4 546.70,229.8 546.90,228.6 547.10,227.7 547.30,227.2 547.50,227.6 547.70,228.6M550.30,230.6 550.50,230.9 550.70,229.2 550.90,226.6 551.10,227.0M552.70,228.0 552.90,229.0 553.10,228.9 553.20,231.5 553.30,230.9 553.50,230.6 553.70,230.6 553.90,230.4 554.10,230.9 554.30,230.8 554.50,230.3 554.70,231.5 554.90,230.8 555.10,231.9 555.30,230.5 555.50,230.8 555.70,230.3 555.90,231.0 556.10,231.6 556.30,231.5 556.50,230.4 556.70,228.9 556.90,230.3 557.10,230.5 557.30,230.3 557.50,229.8 557.70,230.5 557.90,230.3 558.10,230.4 558.30,231.8 558.50,230.3 558.70,230.1 558.90,230.9 559.10,230.2 559.30,229.8 559.50,230.9 559.70,231.2 559.90,231.2 560.10,230.7 560.30,231.8 560.50,231.5 560.70,230.4 560.90,229.8 561.10,230.3 561.30,230.5 561.50,229.2 561.70,230.0 561.90,231.3 562.10,228.6 562.30,229.2 562.50,229.2 562.70,228.4 562.90,228.4 563.10,227.1 563.30,226.8 563.50,227.0 563.70,226.9M563.90,228.1 564.10,227.5 564.30,227.5 564.50,228.1 564.70,228.3 564.90,228.9 565.10,228.4 565.30,231.4 565.50,231.5 565.70,231.5 565.90,230.8 566.10,229.9 566.30,229.7 566.50,230.0 566.70,229.7 566.90,230.2 567.10,230.3 567.30,229.9 567.50,229.5 567.70,230.5 567.90,231.1 568.10,229.5 568.30,229.6 568.50,229.1 568.70,227.9 568.90,228.8 569.10,229.5 569.30,229.9 569.50,230.1 569.70,230.5 569.90,230.8 570.10,230.9 570.30,229.5 570.50,229.6 570.70,229.7 570.90,229.8 571.10,229.8 571.30,229.3 571.50,228.7 571.70,228.9 571.90,228.8 572.10,228.3 572.30,229.5 572.50,230.3 572.70,229.5 572.90,228.9 573.10,228.0 573.30,230.4 573.50,230.6 573.70,229.4 573.90,230.0 574.10,229.3 574.30,229.0 574.50,228.9 574.70,229.5 574.90,229.7 575.10,230.7 575.30,231.8 575.50,230.6 575.70,230.5 575.90,229.9 576.10,229.1 576.30,228.6 576.50,230.7 576.70,231.4 576.90,231.3 577.10,232.0 577.30,230.6 577.50,230.4 577.70,229.0 577.90,228.9 578.10,229.6 578.30,230.6 578.50,229.7 578.70,230.5 578.90,230.2 579.10,229.8 579.30,230.8 579.50,229.0 579.70,229.4 579.90,230.0 580.10,229.8 580.30,231.5 580.50,231.6 580.70,231.9 580.90,230.9 581.10,230.2 581.30,229.9 581.50,230.8 581.70,231.1 581.90,232.1 582.10,230.9 582.30,230.2 582.50,229.3 582.70,229.3 582.90,229.2 583.10,229.3 583.30,230.2 583.50,229.9 583.70,229.0 583.90,229.8 584.10,230.3 584.30,230.3 584.50,230.9 584.70,230.3 584.90,230.6 585.10,231.4 585.30,230.6 585.50,230.0 585.70,230.2 585.90,230.4 586.10,230.5 586.30,231.0 586.50,231.5 586.70,230.7 586.90,230.7 587.10,229.7 587.30,230.2 587.50,230.3 587.70,229.6 587.90,229.8 588.10,230.5 588.30,230.9 588.50,230.0 588.70,229.1 588.90,229.6 589.10,229.7 589.30,230.0 589.50,229.2 589.70,228.2 589.90,229.2 590.10,230.3 590.30,230.2 590.50,230.0 590.70,228.8 590.90,228.8 591.10,230.1 591.30,229.9 591.50,228.5 591.70,230.5 591.90,230.5 592.10,229.9 592.30,229.5 592.50,229.9 592.70,230.2 592.90,230.2 593.10,230.3 593.30,230.5 593.50,230.6 593.70,230.1 593.90,230.4 594.10,230.7 594.30,230.0 594.50,230.4 594.70,230.8 594.90,230.0 595.10,229.7 595.30,230.5 595.50,229.9 595.70,228.9 595.90,229.5 596.10,229.6 596.30,230.0 596.50,230.6 596.70,231.5 596.90,230.7 597.10,230.1 597.30,228.5 597.50,230.2 597.70,229.5 597.90,228.3 598.10,229.1 598.30,229.3 598.50,229.7 598.70,229.7 598.90,228.7 599.10,228.9 599.30,229.5 599.50,229.8 599.70,230.1 599.90,231.0 600.10,231.0 600.30,231.6 600.50,231.7 600.70,231.0 600.90,231.4 601.10,230.3 601.30,231.2 601.50,231.4 601.70,230.6 601.90,230.0 602.10,230.1 602.30,230.4 602.50,230.3 602.70,230.5 602.90,229.1 603.10,230.0 603.30,230.2 603.50,227.8 603.70,228.7 603.90,228.9 604.10,227.8 604.30,229.5 604.50,229.0 604.70,229.1 604.90,230.3 605.10,230.5 605.30,230.4 605.50,231.0 605.70,230.4 605.90,231.0 606.10,229.6 606.30,229.5 606.50,230.3 606.70,230.6 606.90,229.2 607.10,230.4 607.30,230.6 607.50,230.6 607.70,231.4 607.90,231.2 608.10,230.3 608.30,230.0 608.50,229.4 608.70,228.9 608.90,229.0 609.10,229.1 609.30,229.6 609.50,230.5 609.70,230.4 609.90,229.8 610.10,229.9 610.30,228.6 610.50,229.2 610.70,228.3 610.90,228.9 611.10,228.9 611.30,229.6 611.50,230.0 611.70,229.8 611.90,230.4 612.10,229.1 612.30,230.4 612.50,230.2 612.70,230.0 612.90,230.4 613.10,230.1 613.30,228.4 613.50,228.8 613.70,229.7 613.90,230.2 614.10,230.0 614.30,230.2 614.50,230.2 614.70,230.4 614.90,230.8 615.10,230.5 615.30,230.7 615.50,229.4 615.70,229.9 615.90,230.1 616.10,230.4 616.30,230.0 616.50,230.4 616.70,229.5 616.90,229.7 617.10,228.0 617.30,228.1 617.50,228.8 617.70,230.0 617.90,229.7 618.10,229.6 618.30,230.6 618.50,230.2 618.70,231.6 618.90,230.5 619.10,230.3 619.30,231.1 619.50,230.7 619.70,231.5 619.90,231.5 620.10,231.5 620.30,230.5 620.50,230.9 620.70,230.0 620.90,228.9 621.10,229.6 621.30,229.1 621.50,229.6 621.70,230.1 621.90,230.4 622.10,230.9 622.30,230.2 622.50,230.0 622.70,230.6 622.90,231.0 623.10,230.7 623.30,231.4 623.50,230.0 623.70,230.2 623.90,230.2 624.10,230.6 624.30,231.8 624.50,230.4 624.70,231.8 624.90,230.2 625.10,231.5 625.30,230.9 625.50,230.9 625.70,231.0 625.90,231.2 626.10,231.1 626.30,230.0 626.50,230.3 626.70,230.0 626.90,229.5 627.10,229.4 627.30,229.6 627.50,230.3 627.70,231.3 627.90,229.4 628.10,230.1 628.30,231.2 628.50,230.8 628.70,231.4 628.90,230.6 629.10,229.3 629.30,229.9 629.50,229.5 629.70,230.1 629.90,230.2 630.10,230.4 630.30,230.8 630.50,229.9 630.70,230.6 630.90,230.2 631.10,230.0 631.30,230.7 631.50,230.7 631.70,231.0 631.90,231.0 632.10,229.8 632.30,230.9 632.50,230.9 632.70,231.4 632.90,231.2 633.10,229.9 633.30,230.6 633.50,230.0 633.70,229.3 633.90,229.9 634.10,230.4 634.30,231.4 634.50,231.4 634.70,231.8 634.90,231.5 635.10,232.2 635.30,232.2 635.50,232.1 635.70,232.5 635.90,232.0 636.10,232.1 636.30,232.0 636.50,232.4 636.70,231.1 636.90,231.4 637.10,231.4 637.30,229.9 637.50,230.3 637.70,230.4 637.90,230.5 638.10,230.6 638.30,230.8 638.50,231.4 638.70,231.2 638.90,230.9 639.10,230.7 639.30,230.8 639.50,229.7 639.70,230.9 639.90,230.5 640.10,229.9 640.30,229.6 640.50,229.9 640.70,228.6 640.90,229.5 641.10,229.5 641.30,229.1 641.50,230.1 641.70,232.8 641.90,231.0 642.10,231.4 642.30,233.0 642.50,231.0 642.70,231.2 642.90,231.4 643.10,231.1 643.30,229.6 643.50,229.1 643.70,228.8 643.90,230.3 644.10,231.8 644.30,230.7 644.50,230.8 644.70,231.0 644.90,232.4 645.10,231.6 645.30,231.2 645.50,230.9 645.70,230.9 645.90,229.6 646.10,229.6 646.30,230.0 646.50,231.6 646.70,231.6 646.90,231.1 647.10,230.4 647.30,230.7 647.50,230.6 647.70,231.1 647.90,231.1 648.10,230.9 648.30,231.7 648.50,231.4 648.70,230.4 648.90,230.6 649.10,231.7 649.30,231.8 649.50,231.0 649.70,231.2 649.90,230.6 650.10,230.3 650.30,230.2 650.50,230.4 650.70,230.0 650.90,229.4 651.10,229.9 651.30,229.4 651.50,229.5 651.70,229.0 651.90,229.2 652.10,230.2 652.30,230.0 652.50,231.3 652.70,230.8 652.90,230.8 653.10,231.5 653.30,231.3 653.50,231.7 653.70,230.4 653.90,230.4 654.10,230.6 654.30,231.0 654.50,231.4 654.70,231.3 654.90,230.9 655.10,229.2 655.30,230.2 655.50,230.4 655.70,230.0 655.90,229.6 656.10,228.9 656.30,230.5 656.50,228.9 656.70,229.1 656.90,229.9 657.10,231.1 657.30,231.6 657.50,231.6 657.70,231.5 657.90,231.4 658.10,231.3 658.30,229.1 658.50,230.3 658.70,229.3 658.90,230.1 659.10,230.9 659.30,230.7 659.50,231.4 659.70,231.6 659.90,230.6 660.10,231.3 660.30,231.3 660.50,230.8 660.70,231.4 660.90,230.2 661.10,231.5 661.30,230.9 661.50,230.2 661.70,231.7 661.90,231.4 662.10,230.5 662.30,230.6 662.50,230.8 662.70,230.7 662.90,231.4 663.10,230.5 663.30,230.4 663.50,230.4 663.70,230.0 663.90,229.5 664.10,229.4 664.30,229.4 664.50,229.8 664.70,231.3 664.90,231.8 665.10,231.4 665.30,231.2 665.50,230.8 665.70,230.4 665.90,230.6 666.10,230.4 666.30,231.9 666.50,231.3 666.70,231.2 666.90,231.1 667.10,231.2" fill="none" stroke="#111" stroke-width="1.8" stroke-linejoin="round"/><polyline points="667.10,231.1 667.30,230.9 667.50,231.0 667.70,230.8 667.90,230.9 668.10,231.0 668.30,231.2 668.50,231.3 668.70,230.9 668.90,231.3 669.10,230.8 669.30,231.1 669.50,231.4 669.70,231.1 669.90,230.6 670.10,230.8 670.30,230.8 670.50,231.1 670.70,230.7 670.90,230.8 671.10,231.3 671.30,231.2 671.50,231.1 671.70,231.3 671.90,231.3 672.10,230.8 672.30,230.7 672.50,230.5 672.70,230.2 672.90,230.5 673.10,231.3 673.30,231.0 673.50,230.9 673.70,231.1 673.90,230.7 674.10,230.8 674.30,230.9 674.50,230.6 674.70,230.5 674.90,230.5 675.10,230.6 675.30,230.6 675.50,230.4 675.70,230.3 675.90,230.5 676.10,230.3 676.30,230.7 676.50,230.7 676.70,231.0 676.90,231.2 677.10,231.3 677.30,231.3 677.50,231.3 677.70,231.2 677.90,231.0 678.10,231.0 678.30,231.0 678.50,231.1 678.70,231.1 678.90,230.9 679.10,230.9 679.30,231.1 679.50,231.0 679.70,230.7 679.90,230.5 680.10,230.8 680.30,230.6 680.50,230.6 680.70,230.4 680.90,230.6 681.10,230.9 681.30,231.0 681.50,230.8 681.70,230.7 681.90,230.8 682.10,230.6 682.30,230.3 682.50,230.5 682.70,230.4 682.90,230.6 683.10,230.5 683.30,230.5 683.50,230.8 683.70,230.7 683.90,230.7 684.10,230.5 684.30,230.7 684.50,230.4 684.70,230.6 684.90,230.4 685.10,230.5 685.30,230.5 685.50,230.5 685.70,230.6 685.90,230.5 686.10,230.5 686.30,230.7 686.50,230.5 686.70,230.6 686.90,230.6 687.10,230.6 687.30,230.4 687.50,230.5 687.70,230.6 687.90,230.4 688.10,230.4 688.30,230.2 688.50,230.6 688.70,230.8 688.90,230.7 689.10,230.7 689.30,230.7 689.50,230.7 689.70,230.7 689.90,230.8 690.10,230.7 690.30,230.5 690.50,230.3 690.70,230.4 690.90,230.4 691.10,230.5 691.30,230.7 691.50,230.6 691.70,230.5 691.90,230.7 692.10,230.7 692.30,230.5 692.50,230.5 692.70,230.5 692.90,230.4 693.10,230.3 693.30,230.5 693.50,230.4 693.70,230.6 693.90,230.6 694.10,230.7 694.30,230.5 694.50,230.6 694.70,230.7 694.90,230.6 695.10,230.5 695.30,230.5 695.50,230.4" fill="none" stroke="#151515" stroke-width="1.1" stroke-linejoin="round"/><path d="M403.70,227.14 403.90,225.58 404.10,224.30 404.30,223.80 404.50,224.30 404.70,225.58 404.90,227.14M445.70,225.23 445.90,213.49 446.10,187.21 446.30,148.68 446.50,117.64 446.60,112.92 446.70,115.10 446.80,121.60 446.90,131.67 447.10,157.91 447.30,184.49 447.50,204.95 447.70,217.61 447.90,224.11 448.10,226.97 448.30,228.13M516.10,227.72 516.30,225.03 516.50,219.34 516.70,208.69 516.90,191.86 517.10,170.21 517.30,148.86 517.50,135.19 517.60,133.15 517.70,133.87 517.90,140.65 518.10,152.98 518.30,168.13 518.50,183.38 518.70,196.69 518.90,207.01 519.10,214.23 519.30,218.86 519.50,221.64 519.70,223.27 519.90,224.24 520.10,224.89 520.30,225.40 520.50,225.83 520.70,226.24 520.90,226.64 521.10,227.01 521.30,227.37 521.50,227.70 521.70,228.02M535.50,228.00 535.70,221.00 535.90,214.00 536.10,207.00 536.30,200.00 536.50,181.00 536.70,188.50 536.90,196.00 537.10,188.25 537.30,180.50 537.50,187.75 537.70,195.00 537.90,187.50 538.10,180.00 538.30,186.00 538.50,192.00 538.70,185.60 538.90,179.20 539.00,176.00 539.10,173.15 539.30,167.45 539.50,161.75 539.60,158.90 539.70,160.04 539.90,162.31 540.10,164.59 540.30,166.86 540.40,168.00 540.50,168.39 540.70,169.17 540.90,169.94 541.10,170.72 541.30,171.50 541.50,182.90 541.70,194.30 541.90,205.70 542.10,217.10 542.50,222.75 542.70,217.00 542.90,211.25 543.10,205.50 543.30,199.75 543.50,194.00 543.70,198.60 543.90,203.20 544.10,207.80 544.30,212.40 544.50,217.00 544.70,210.80 544.90,204.60 545.10,198.40 545.30,192.20 545.50,186.00 545.70,193.82 545.90,201.64 546.10,209.45 546.30,217.27 546.50,225.09M547.10,228.17 547.30,227.83 547.50,227.50 547.70,227.17 547.80,227.00 547.90,226.62 548.10,225.87 548.30,225.13 548.50,224.37 548.70,223.62 548.90,222.88 549.00,222.50 549.10,222.90 549.30,223.70 549.50,224.50 549.70,225.30 549.90,226.10 550.10,226.90 550.30,227.70 550.70,228.03 550.90,227.57 551.10,227.10 551.30,226.63 551.50,226.17 551.70,225.70 551.90,225.23 552.00,225.00 552.10,225.38 552.30,226.12 552.50,226.87 552.70,227.63M562.90,228.12 563.10,227.79 563.30,227.53 563.50,227.36 563.70,227.30 563.90,227.36 564.10,227.53 564.30,227.79 564.50,228.12" fill="none" stroke="#111" stroke-width="1.15" stroke-linejoin="round"/><text x="438.4" y="107.0" font-size="9.75" fill="#3a3a48" textLength="17.6" lengthAdjust="spacing">16:0</text><text x="509.4" y="128.0" font-size="9.75" fill="#3a3a48" textLength="17.6" lengthAdjust="spacing">18:0</text><text x="529.8" y="158.0" font-size="9.75" fill="#3a3a48" textLength="20.2" lengthAdjust="spacing">18:1t</text><text x="600.0" y="106.9" font-size="8.7" fill="#3e3e3e" textLength="103.1" lengthAdjust="spacing">Fr. 1: hexane:acetone (96:4)</text><circle cx="602.1" cy="123.5" r="1.35" fill="#151515"/><circle cx="602.1" cy="133.5" r="1.35" fill="#151515"/><text x="606.8" y="126.7" font-size="8.7" fill="#3e3e3e" textLength="74.6" lengthAdjust="spacing">saturated fatty acids</text><text x="606.8" y="136.9" font-size="8.7" fill="#3e3e3e" textLength="59.1" lengthAdjust="spacing">trans monoenes</text><text x="676.9" y="264.8" font-size="5" fill="#33446a" textLength="22.2" lengthAdjust="spacingAndGlyphs">G003521</text><path d="M4.60,413.70V409.30H327.30V416.30M27.65,409.30v4.40M50.70,409.30v4.40M73.75,409.30v4.40M96.80,409.30v4.40M119.85,409.30v4.40M142.90,409.30v4.40M165.95,409.30v4.40M189.00,409.30v4.40M212.05,409.30v4.40M235.10,409.30v4.40M258.15,409.30v4.40M281.20,409.30v4.40M304.25,409.30v4.40" fill="none" stroke="#111" stroke-width="1"/><text x="4.6" y="426.7" font-size="9.6" fill="#1a1a1a" text-anchor="middle">6</text><text x="50.7" y="426.7" font-size="9.6" fill="#1a1a1a" text-anchor="middle">8</text><text x="90.9" y="426.7" font-size="9.6" fill="#1a1a1a" textLength="11.6" lengthAdjust="spacing">10</text><text x="137.0" y="426.7" font-size="9.6" fill="#1a1a1a" textLength="11.6" lengthAdjust="spacing">12</text><text x="183.1" y="426.7" font-size="9.6" fill="#1a1a1a" textLength="11.6" lengthAdjust="spacing">14</text><text x="229.2" y="426.7" font-size="9.6" fill="#1a1a1a" textLength="11.6" lengthAdjust="spacing">16</text><text x="275.3" y="426.7" font-size="9.6" fill="#1a1a1a" textLength="11.6" lengthAdjust="spacing">18</text><text x="321.4" y="426.7" font-size="9.6" fill="#1a1a1a" textLength="11.6" lengthAdjust="spacing">20</text><text x="156.5" y="440.7" font-size="10" fill="#1a1a1a" textLength="18.4" lengthAdjust="spacing">Min</text><polyline points="4.60,403.4 4.80,402.5 5.00,403.7 5.20,401.1 5.40,403.8 5.60,403.7 5.80,404.1 6.00,401.8 6.20,403.3 6.40,407.1 6.60,404.9 6.80,404.8 7.00,405.1 7.20,403.6 7.40,404.6 7.60,404.0 7.80,404.6 8.00,405.0 8.20,404.9 8.40,402.8 8.60,403.4 8.80,402.7 9.00,403.4 9.20,402.6 9.40,406.5 9.60,402.1 9.80,404.1 10.00,402.6 10.20,403.9 10.40,403.6 10.60,405.2 10.80,404.6 11.00,403.1 11.20,406.2 11.40,404.7 11.60,403.7 11.80,403.5 12.00,403.7 12.20,405.3 12.40,404.8 12.60,405.0 12.80,405.6 13.00,403.8 13.20,404.0 13.40,403.8 13.60,403.8 13.80,405.4 14.00,405.7 14.20,403.4 14.40,402.7 14.60,404.5 14.80,402.8 15.00,404.1 15.20,403.1 15.40,402.1 15.60,403.7 15.80,404.3 16.00,402.9 16.20,403.9 16.40,403.6 16.60,404.0 16.80,406.4 17.00,401.2 17.20,404.7 17.40,402.3 17.60,404.2 17.80,403.2 18.00,401.7 18.20,405.9 18.40,404.0 18.60,403.1 18.80,405.7 19.00,404.6 19.20,402.8 19.40,405.1 19.60,404.9 19.80,402.3 20.00,406.8 20.20,403.0 20.40,405.0 20.60,404.0 20.80,402.9 21.00,404.7 21.20,403.1 21.40,406.2 21.60,404.2 21.80,404.6 22.00,406.0 22.20,404.4 22.40,402.9 22.60,402.2 22.80,403.0 23.00,404.7 23.20,404.1 23.40,403.4 23.60,405.0 23.80,403.8 24.00,404.1 24.20,403.2 24.40,404.3 24.60,404.3 24.80,403.7 25.00,406.0 25.20,403.6 25.40,403.3 25.60,402.2 25.80,406.2 26.00,403.1 26.20,403.0 26.40,404.4 26.60,403.6 26.80,402.7 27.00,403.6 27.20,404.6 27.40,403.3 27.60,405.7 27.80,403.4 28.00,402.1 28.20,400.7 28.40,403.6 28.60,402.5 28.80,405.9 29.00,402.2 29.20,404.6 29.40,405.8 29.60,404.1 29.80,402.8 30.00,404.5 30.20,403.0 30.40,402.8 30.60,403.6 30.80,403.2 31.00,406.7 31.20,404.0 31.40,402.0 31.60,401.8 31.80,402.5 32.00,397.3 32.20,391.2 32.40,386.6 32.50,385.8 32.60,386.0 32.80,391.1 33.00,397.2 33.20,401.1 33.40,405.3 33.60,402.6 33.80,404.5 34.00,404.3 34.20,403.5 34.40,400.7 34.60,404.5 34.80,405.4 35.00,402.6 35.20,402.5 35.40,405.3 35.60,401.2 35.80,404.3 36.00,402.4 36.20,401.1 36.40,402.1 36.60,404.0 36.80,406.8 37.00,405.3 37.20,403.1 37.40,404.7 37.60,403.8 37.80,403.5 38.00,403.1 38.20,403.4 38.40,402.0 38.60,401.4 38.80,402.9 39.00,400.7 39.20,403.7 39.40,404.8 39.60,402.1 39.80,405.9 40.00,404.2 40.20,403.6 40.40,403.8 40.60,402.0 40.80,401.1 41.00,403.4 41.20,403.2 41.40,404.7 41.60,403.8 41.80,404.4 42.00,403.2 42.20,405.8 42.40,404.2 42.60,404.3 42.80,404.8 43.00,404.9 43.20,402.2 43.40,405.1 43.60,402.4 43.80,402.1 44.00,401.5 44.20,404.9 44.40,400.7 44.60,401.9 44.80,404.7 45.00,404.3 45.20,402.3 45.40,403.4 45.60,404.5 45.80,403.8 46.00,404.2 46.20,403.9 46.40,406.1 46.60,403.9 46.80,405.0 47.00,403.2 47.20,402.8 47.40,403.7 47.60,402.8 47.80,405.4 48.00,403.1 48.20,406.1 48.40,405.5 48.60,402.2 48.80,402.6 49.00,404.6 49.20,400.8 49.40,406.4 49.60,404.0 49.80,403.2 50.00,403.4 50.20,404.0 50.40,403.8 50.60,403.4 50.80,400.4 51.00,405.3 51.20,402.2 51.40,403.2 51.60,403.7 51.80,403.4 52.00,400.9 52.20,403.6 52.40,402.6 52.60,403.9 52.80,402.8 53.00,402.3 53.20,405.0 53.40,401.0 53.60,402.8 53.80,401.3 54.00,402.6 54.20,402.2 54.40,402.9 54.60,402.8 54.80,403.5 55.00,403.3 55.20,405.2 55.40,401.8 55.60,406.4 55.80,403.8 56.00,404.4 56.20,402.9 56.40,402.0 56.60,404.5 56.80,401.0 57.00,403.3 57.20,401.2 57.40,403.0 57.60,403.3 57.80,402.0 58.00,403.2 58.20,402.2 58.40,402.7 58.60,403.0 58.80,404.3 59.00,404.9 59.20,403.1 59.40,402.9 59.60,403.8 59.80,400.6 60.00,400.9 60.20,402.5 60.40,402.8 60.60,403.2 60.80,403.5 61.00,403.6 61.20,403.0 61.40,402.0 61.60,403.3 61.80,403.1 62.00,401.7 62.20,402.1 62.40,405.4 62.60,403.9 62.80,402.1 63.00,401.3 63.20,404.4 63.40,403.5 63.60,406.2 63.80,403.5 64.00,404.3 64.20,402.8 64.40,401.8 64.60,404.1 64.80,403.1 65.00,403.8 65.20,403.7 65.40,406.3 65.60,403.4 65.80,404.5 66.00,401.7 66.20,403.1 66.40,401.9 66.60,405.8 66.80,405.1 67.00,403.7 67.20,402.6 67.40,401.3 67.60,403.1 67.80,402.5 68.00,406.3 68.20,404.0 68.40,403.1 68.60,403.1 68.80,403.5 69.00,406.4 69.20,401.6 69.40,400.4 69.60,404.3 69.80,402.5 70.00,402.1 70.20,403.4 70.40,403.7 70.60,404.0 70.80,404.2 71.00,401.6 71.20,405.1 71.40,403.7 71.60,403.3 71.80,405.2 72.00,402.5 72.20,404.2 72.40,401.8 72.60,401.3 72.80,402.6 73.00,401.8 73.20,406.6 73.40,403.9 73.60,405.5 73.80,402.5 74.00,403.2 74.20,402.3 74.40,405.6 74.60,403.5 74.80,404.1 75.00,402.6 75.20,402.9 75.40,404.4 75.60,404.0 75.80,404.6 76.00,404.7 76.20,401.8 76.40,403.5 76.60,406.4 76.80,403.0 77.00,403.4 77.20,403.4 77.40,402.2 77.60,405.4 77.80,403.9 78.00,404.1 78.20,405.4 78.40,405.3 78.60,403.0 78.80,404.0 79.00,403.5 79.20,404.8 79.40,403.9 79.60,401.9 79.80,402.7 80.00,403.9 80.20,402.8 80.40,403.6 80.60,403.2 80.80,402.7 81.00,402.6 81.20,404.4 81.40,402.0 81.60,402.4 81.80,403.9 82.00,402.5 82.20,404.3 82.40,404.9 82.60,402.3 82.80,403.4 83.00,403.5 83.20,401.5 83.40,404.8 83.60,403.4 83.80,403.3 84.00,405.4 84.20,403.5 84.40,404.4 84.60,403.0 84.80,405.2 85.00,404.9 85.20,406.5 85.40,403.2 85.60,403.9 85.80,403.7 86.00,406.6 86.20,404.2 86.40,403.4 86.60,403.1 86.80,402.4 87.00,402.5 87.20,406.2 87.40,400.6 87.60,402.4 87.80,402.4 88.00,405.9 88.20,402.8 88.40,403.9 88.60,403.4 88.80,403.2 89.00,404.2 89.20,402.6 89.40,403.4 89.60,402.5 89.80,403.9 90.00,402.2 90.20,403.3 90.40,406.5 90.60,404.6 90.80,402.9 91.00,405.2 91.20,404.6 91.40,400.4 91.60,403.8 91.80,404.3 92.00,405.5 92.20,405.0 92.40,400.3 92.60,404.2 92.80,404.8 93.00,404.9 93.20,402.7 93.40,403.6 93.60,403.9 93.80,404.4 94.00,405.1 94.20,406.5 94.40,404.1 94.60,401.9 94.80,401.6 95.00,402.0 95.20,403.4 95.40,406.5 95.60,406.5 95.80,403.5 96.00,403.6 96.20,402.7 96.40,402.9 96.60,404.5 96.80,402.0 97.00,404.6 97.20,404.8 97.40,405.8 97.60,404.7 97.80,402.5 98.00,401.7 98.20,403.6 98.40,401.1 98.60,403.1 98.80,404.3 99.00,402.6 99.20,404.3 99.40,402.0 99.60,400.7 99.80,402.1 100.00,402.8 100.20,402.3 100.40,404.3 100.60,404.3 100.80,406.4 101.00,404.6 101.20,402.7 101.40,400.4 101.60,402.9 101.80,403.7 102.00,402.6 102.20,401.2 102.40,404.2 102.60,402.4 102.80,404.4 103.00,402.1 103.20,404.3 103.40,403.6 103.60,403.7 103.80,405.8 104.00,405.0 104.20,403.7 104.40,403.6 104.60,403.8 104.80,406.2 105.00,403.1 105.20,400.6 105.40,401.6 105.60,402.9 105.80,404.6 106.00,403.8 106.20,404.5 106.40,402.9 106.60,402.0 106.80,406.4 107.00,403.9 107.20,402.5 107.40,404.7 107.60,402.5 107.80,403.6 108.00,402.6 108.20,404.1 108.40,403.7 108.60,403.9 108.80,405.6 109.00,403.7 109.20,404.5 109.40,402.8 109.60,402.5 109.80,403.6 110.00,402.4 110.20,402.7 110.40,403.6 110.60,402.1 110.80,405.2 111.00,404.0 111.20,402.8 111.40,404.5 111.60,402.6 111.80,402.8 112.00,405.1 112.20,401.9 112.40,403.7 112.60,402.9 112.80,403.7 113.00,402.8 113.20,401.9 113.40,404.9 113.60,403.8 113.80,403.2 114.00,402.7 114.20,403.2 114.40,402.4 114.60,403.7 114.80,404.0 115.00,403.3 115.20,401.4 115.40,400.7 115.60,402.5 115.80,402.8 116.00,405.8 116.20,403.4 116.40,403.8 116.60,401.2 116.80,402.3 117.00,403.2 117.20,404.3 117.40,405.7 117.60,401.7 117.80,401.2 118.00,404.9 118.20,403.2 118.40,405.3 118.60,401.8 118.80,402.4 119.00,403.2 119.20,404.5 119.40,400.6 119.60,405.5 119.80,402.5 120.00,405.1 120.20,405.0 120.40,401.8 120.60,403.2 120.80,405.6 121.00,402.8 121.20,402.3 121.40,402.8 121.60,403.6 121.80,404.7 122.00,403.9 122.20,406.2 122.40,402.5 122.60,403.9 122.80,404.3 123.00,403.1 123.20,401.8 123.40,402.2 123.60,403.1 123.80,406.1 124.00,403.7 124.20,401.8 124.40,403.0 124.60,400.4 124.80,404.4 125.00,404.1 125.20,403.9 125.40,403.0 125.60,401.9 125.80,402.7 126.00,402.1 126.20,401.7 126.40,405.9 126.60,400.4 126.80,401.6 127.00,403.2 127.20,403.8 127.40,402.9 127.60,403.4 127.80,403.5 128.00,402.9 128.20,401.9 128.40,404.1 128.60,403.8 128.80,404.8 129.00,400.6 129.20,402.7 129.40,404.4 129.60,403.6 129.80,401.3 130.00,403.0 130.20,402.6 130.40,402.1 130.60,402.4 130.80,404.8 131.00,401.4 131.20,403.4 131.40,403.2 131.60,404.5 131.80,403.2 132.00,403.4 132.20,404.4 132.40,401.1 132.60,402.3 132.80,402.9 133.00,403.0 133.20,404.3 133.40,401.2 133.60,401.0 133.80,403.6 134.00,402.1 134.20,403.3 134.40,401.4 134.60,400.3 134.80,402.2 135.00,405.5 135.20,403.4 135.40,403.6 135.60,403.7 135.80,405.1 136.00,402.4 136.20,400.4 136.40,403.0 136.60,404.5 136.80,402.1 137.00,402.5 137.20,403.0 137.40,402.8 137.60,401.3 137.80,405.3 138.00,402.3 138.20,403.4 138.40,403.1 138.60,400.7 138.80,401.2 139.00,404.2 139.20,401.2 139.40,401.8 139.60,401.8 139.80,403.4 140.00,403.9 140.20,401.7 140.40,404.7 140.60,403.6 140.80,405.4 141.00,403.6 141.20,402.1 141.40,402.9 141.60,403.8 141.80,403.2 142.00,400.9 142.20,403.1 142.40,403.1 142.60,402.3 142.80,402.2 143.00,403.5 143.20,403.2 143.40,404.8 143.60,404.5 143.80,403.4 144.00,403.2 144.20,401.4 144.40,402.8 144.60,402.4 144.80,401.1 145.00,404.6 145.20,404.7 145.40,401.1 145.60,403.0 145.80,402.2 146.00,402.1 146.20,403.9 146.40,402.1 146.60,402.6 146.80,404.8 147.00,402.0 147.20,401.5 147.40,404.5 147.60,401.0 147.80,403.9 148.00,403.7 148.20,402.8 148.40,402.4 148.60,402.6 148.80,405.1 149.00,403.9 149.20,401.7 149.40,403.2 149.60,401.2 149.80,402.7 150.00,403.5 150.20,403.4 150.40,404.4 150.60,403.3 150.80,402.6 151.00,402.5 151.20,402.0 151.40,404.6 151.60,402.2 151.80,404.2 152.00,403.8 152.20,401.8 152.40,402.5 152.60,404.3 152.80,402.1 153.00,403.2 153.20,401.8 153.40,403.1 153.60,405.5 153.80,404.4 154.00,404.1 154.20,403.1 154.40,402.5 154.60,403.4 154.80,404.0 155.00,402.8 155.20,402.5 155.40,405.6 155.60,403.9 155.80,404.5 156.00,402.7 156.20,400.1 156.40,403.6 156.60,401.7 156.80,404.9 157.00,405.6 157.20,402.0 157.40,402.3 157.60,404.0 157.80,402.2 158.00,404.2 158.20,404.2 158.40,405.9 158.60,401.5 158.80,402.0 159.00,401.1 159.20,402.7 159.40,402.8 159.60,405.1 159.80,401.7 160.00,400.6 160.20,402.8 160.40,401.3 160.60,404.1 160.80,401.5 161.00,404.6 161.20,403.6 161.40,405.5 161.60,403.4 161.80,405.0 162.00,403.1 162.20,400.6 162.40,403.8 162.60,404.2 162.80,401.3 163.00,403.4 163.20,403.7 163.40,401.4 163.60,402.3 163.80,403.9 164.00,405.5 164.20,402.5 164.40,405.6 164.60,404.3 164.80,402.5 165.00,403.2 165.20,403.6 165.40,402.0 165.60,406.0 165.80,399.9 166.00,403.2 166.20,404.9 166.40,404.8 166.60,405.8 166.80,400.8 167.00,403.8 167.20,401.0 167.40,403.4 167.60,402.5 167.80,404.7 168.00,404.3 168.20,402.7 168.40,403.2 168.60,404.5 168.80,404.7 169.00,402.4 169.20,404.7 169.40,404.1 169.60,402.7 169.80,404.6 170.00,402.9 170.20,403.4 170.40,401.3 170.60,402.9 170.80,401.5 171.00,401.2 171.20,401.4 171.40,401.5 171.50,400.4 171.60,399.5 171.80,401.4 172.00,398.9 172.20,397.8 172.40,397.2 172.60,396.6 172.80,395.7 173.00,395.2 173.20,394.0 173.40,393.3 173.60,392.9 173.80,391.8 174.00,390.9 174.20,390.3 174.40,389.1 174.60,388.9 174.80,388.3 175.00,387.8 175.20,387.0 175.40,368.4 175.60,350.1 175.80,337.7 176.00,324.9 176.10,318.8 176.20,326.5 176.40,342.1 176.50,350.1 176.60,362.3 176.80,386.2 177.00,388.4 177.10,389.4 177.20,387.9 177.40,385.0 177.50,383.7 177.60,385.0 177.80,388.5 178.00,391.6 178.10,393.1 178.20,393.9 178.40,396.1 178.60,397.4 178.80,399.5 178.90,399.8 179.00,400.7 179.20,399.9 179.40,395.6 179.60,393.9 179.80,392.2 180.00,390.1 180.20,388.1 180.40,386.4 180.60,384.1 180.80,386.6 181.00,388.8 181.20,391.6 181.40,394.1 181.50,395.3 181.60,395.5 181.80,397.0 182.00,396.8 182.20,398.7 182.40,401.6 182.60,399.7 182.80,394.8 183.00,392.2 183.20,389.6 183.40,386.3 183.50,385.0 183.60,383.9 183.80,381.0 184.00,378.3 184.20,375.8 184.40,373.2 184.50,372.1 184.60,374.0 184.80,376.9 185.00,380.1 185.20,383.7 185.40,386.6 185.60,389.6 185.80,392.0 186.00,393.3 186.20,394.9 186.40,398.3 186.60,398.1 186.80,400.1 186.90,401.7 187.00,400.1 187.20,399.9 187.40,400.2 187.60,399.3 187.80,396.2 188.00,397.1 188.20,396.2 188.40,394.9 188.60,394.2 188.80,395.3 189.00,396.1 189.20,396.6 189.40,399.7 189.60,399.5 189.80,400.9 190.00,400.0 190.20,400.7 190.40,400.1 190.60,401.0 190.80,400.0 191.00,400.2 191.20,400.2 191.40,400.9 191.60,399.1 191.80,400.2 192.00,397.8 192.20,400.0 192.40,397.4 192.60,398.6 192.80,397.3 192.90,400.1 193.00,398.9 193.20,397.8 193.40,400.5 193.60,403.0 193.80,398.2 194.00,400.7 194.20,401.3 194.40,401.8 194.50,402.5 194.60,400.1 194.80,403.6 195.00,399.9 195.20,400.1 195.40,401.4 195.60,400.0 195.80,397.6 196.00,400.0 196.20,400.5 196.40,398.1 196.60,400.3 196.80,399.6 197.00,400.9 197.20,401.1 197.40,399.6 197.60,401.7 197.80,402.2 198.00,402.0 198.20,403.7 198.40,399.5 198.60,402.5 198.80,402.8 199.00,404.9 199.20,403.4 199.40,402.9 199.60,402.7 199.80,403.1 200.00,402.9 200.20,403.1 200.40,400.7 200.60,400.1 200.80,403.1 201.00,402.9 201.20,403.1 201.40,405.6 201.60,401.6 201.80,404.0 202.00,402.9 202.20,402.1 202.40,401.9 202.60,403.1 202.80,403.6 203.00,402.5 203.20,402.0 203.40,404.2 203.60,402.7 203.80,402.4 204.00,401.5 204.20,400.3 204.40,401.6 204.60,402.5 204.80,403.0 205.00,401.1 205.20,402.8 205.40,402.5 205.60,404.3 205.80,403.6 206.00,402.7 206.20,405.5 206.40,401.3 206.60,401.9 206.80,403.0 207.00,404.5 207.20,404.4 207.40,403.4 207.60,399.5 207.80,402.8 208.00,403.6 208.20,404.4 208.40,401.3 208.60,402.2 208.80,404.9 209.00,402.0 209.20,402.8 209.40,403.5 209.60,402.1 209.80,403.5 210.00,403.2 210.20,400.7 210.40,401.3 210.60,402.3 210.80,402.5 211.00,402.7 211.20,401.6 211.40,401.4 211.60,403.2 211.80,404.0 212.00,401.0 212.20,402.6 212.40,403.7 212.60,400.7 212.80,403.1 213.00,401.7 213.20,403.7 213.40,403.4 213.60,400.1 213.80,402.5 214.00,403.2 214.20,403.0 214.40,402.0 214.60,404.8 214.80,400.3 215.00,401.8 215.20,403.0 215.40,401.6 215.60,403.2 215.80,404.4 216.00,402.4 216.20,402.3 216.40,402.9 216.60,403.4 216.80,400.5 217.00,403.3 217.20,403.0 217.40,402.2 217.60,401.9 217.80,401.9 218.00,404.8 218.20,401.6 218.40,401.5 218.60,403.3 218.80,400.7 219.00,403.0 219.20,403.5 219.40,402.1 219.60,402.6 219.80,400.4 220.00,401.1 220.20,400.5 220.40,403.2 220.60,405.0 220.80,400.0 221.00,401.7 221.20,399.9 221.40,403.5 221.60,404.2 221.80,400.3 222.00,400.9 222.20,400.3 222.40,402.2 222.60,401.6 222.80,401.4 223.00,399.3 223.20,403.2 223.40,402.6 223.60,399.0 223.80,401.2 224.00,403.2 224.20,400.9 224.40,403.2 224.60,400.2 224.80,402.7 225.00,402.4 225.20,401.6 225.40,404.2 225.60,401.0 225.80,403.7 226.00,403.5 226.20,402.9 226.40,403.6 226.60,401.3 226.80,403.4 227.00,399.0 227.20,400.5 227.40,401.7 227.60,403.8 227.80,401.0 228.00,404.5 228.20,402.6 228.40,401.6 228.60,402.9 228.80,400.1 229.00,403.1 229.20,403.0 229.40,404.2 229.60,401.0 229.80,405.0 230.00,403.1 230.20,403.4 230.40,402.6 230.60,401.3 230.80,400.7 231.00,401.6 231.20,403.5 231.40,400.3 231.60,401.2 231.80,401.6 232.00,401.0 232.20,400.1 232.40,404.9 232.60,402.0 232.80,402.3 233.00,401.4 233.20,401.4 233.40,400.9 233.60,399.2 233.80,400.8 234.00,403.0 234.20,402.0 234.40,401.3 234.60,400.5 234.80,402.1 235.00,402.4 235.20,400.8 235.40,404.1 235.60,400.5 235.80,404.9 236.00,402.9 236.20,401.3 236.40,402.3 236.60,403.7 236.80,399.6 237.00,403.7 237.20,403.2 237.40,398.9 237.60,403.5 237.80,401.6 238.00,400.5 238.20,402.4 238.40,404.0 238.60,404.4 238.80,402.7 239.00,401.1 239.20,402.0 239.40,399.1 239.60,402.3 239.80,404.5 240.00,402.1 240.20,401.5 240.40,401.7 240.60,402.5 240.80,400.2 241.00,401.7 241.20,402.3 241.40,402.1 241.60,400.5 241.80,401.9 242.00,401.1 242.20,403.4 242.40,402.8 242.60,402.6 242.80,401.4 243.00,401.4 243.20,402.6 243.40,400.2 243.60,403.6 243.80,401.9 244.00,402.4 244.20,400.4 244.40,400.1 244.60,401.9 244.80,400.4 245.00,404.0 245.20,401.1 245.40,401.8 245.60,401.4 245.80,404.7 246.00,402.0 246.20,401.8 246.40,400.5 246.60,403.8 246.80,401.4 247.00,402.9 247.20,401.3 247.40,404.1 247.60,401.8 247.80,402.8 248.00,402.0 248.20,402.8 248.40,401.1 248.60,403.4 248.80,402.0 249.00,403.8 249.20,401.4 249.40,402.5 249.60,403.2 249.80,401.5 250.00,400.9 250.20,404.2 250.40,404.6 250.60,401.9 250.80,402.2 251.00,403.5 251.20,402.8 251.40,402.1 251.60,400.8 251.80,402.9 252.00,402.3 252.20,401.6 252.40,404.1 252.60,401.7 252.80,399.2 253.00,404.2 253.20,401.0 253.40,401.8 253.60,404.0 253.80,402.1 254.00,402.0 254.20,401.2 254.40,402.7 254.60,402.7 254.80,402.5 255.00,402.7 255.20,401.7 255.40,402.0 255.60,402.1 255.80,401.2 256.00,404.1 256.20,401.6 256.40,400.7 256.60,401.5 256.80,402.5 257.00,404.1 257.20,401.7 257.40,401.2 257.60,399.8 257.80,401.8 258.00,399.9 258.20,403.6 258.40,402.2 258.60,401.5 258.80,401.2 259.00,402.2 259.20,402.5 259.40,400.5 259.60,401.3 259.80,402.1 260.00,400.4 260.20,403.0 260.40,402.2 260.60,401.4 260.80,402.6 261.00,402.0 261.20,401.9 261.40,402.6 261.60,403.1 261.80,399.9 262.00,403.3 262.20,400.9 262.40,401.6 262.60,401.4 262.80,401.5 263.00,402.9 263.20,403.2 263.40,402.1 263.60,402.4 263.80,400.6 264.00,402.6 264.20,401.5 264.40,401.9 264.60,403.2 264.80,402.8 265.00,402.3 265.20,401.9 265.40,402.0 265.60,404.7 265.80,402.8 266.00,402.8 266.20,403.0 266.40,401.1 266.60,404.1 266.80,402.9 267.00,403.1 267.20,401.3 267.40,400.3 267.60,403.2 267.80,404.2 268.00,401.7 268.20,402.6 268.40,405.3 268.60,401.4 268.80,402.7 269.00,402.8 269.20,402.1 269.40,404.0 269.60,399.4 269.80,401.3 270.00,402.2 270.20,403.4 270.40,401.0 270.60,401.3 270.80,402.1 271.00,400.6 271.20,402.3 271.40,399.4 271.60,402.9 271.80,401.9 272.00,402.6 272.20,403.7 272.40,401.0 272.60,404.8 272.80,402.5 273.00,403.1 273.20,401.1 273.40,401.6 273.60,401.4 273.80,405.2 274.00,399.4 274.20,400.4 274.40,401.4 274.60,402.9 274.80,403.6 275.00,401.6 275.20,403.4 275.40,403.0 275.60,402.5 275.80,400.0 276.00,402.5 276.20,400.3 276.40,401.1 276.60,401.4 276.80,402.3 277.00,400.3 277.20,399.8 277.40,401.5 277.60,403.8 277.80,405.2 278.00,403.2 278.20,400.8 278.40,404.8 278.60,402.2 278.80,404.2 279.00,402.4 279.20,400.4 279.40,402.3 279.60,402.2 279.80,400.4 280.00,402.5 280.20,403.1 280.40,401.1 280.60,402.4 280.80,403.0 281.00,402.8 281.20,401.3 281.40,401.8 281.60,403.1 281.80,402.3 282.00,401.4 282.20,401.7 282.40,402.3 282.60,403.7 282.80,402.3 283.00,402.6 283.20,399.5 283.40,402.2 283.60,402.4 283.80,403.0 284.00,401.8 284.20,401.8 284.40,403.9 284.60,402.7 284.80,402.6 285.00,400.6 285.20,404.2 285.40,402.1 285.60,404.0 285.80,404.2 286.00,401.9 286.20,404.0 286.40,402.0 286.60,401.3 286.80,404.7 287.00,399.4 287.20,401.1 287.40,403.8 287.60,404.3 287.80,403.8 288.00,402.4 288.20,402.2 288.40,403.3 288.60,402.3 288.80,399.4 289.00,403.0 289.20,400.8 289.40,402.8 289.60,402.5 289.80,401.8 290.00,403.6 290.20,402.3 290.40,403.0 290.60,401.6 290.80,401.8 291.00,403.1 291.20,402.2 291.40,400.7 291.60,403.9 291.80,401.5 292.00,401.9 292.20,401.3 292.40,402.9 292.60,402.3 292.80,402.0 293.00,402.3 293.20,403.3 293.40,401.2 293.60,401.5 293.80,403.1 294.00,403.0 294.20,401.7 294.40,400.7 294.60,402.8 294.80,403.4 295.00,403.8 295.20,403.0 295.40,402.0 295.60,402.2 295.80,402.5 296.00,402.8 296.20,402.8 296.40,400.0 296.60,401.7 296.80,402.8 297.00,401.6 297.20,402.6 297.40,402.2 297.60,403.8 297.80,401.9 298.00,402.3 298.20,403.0 298.40,401.2 298.60,402.1 298.80,401.2 299.00,401.4 299.20,402.0 299.40,400.5 299.60,399.8 299.80,403.1 300.00,402.5 300.20,404.9 300.40,404.4 300.60,401.5 300.80,400.0 301.00,403.9 301.20,404.2 301.40,400.6 301.60,402.5 301.80,404.2 302.00,401.1 302.20,402.7 302.40,401.0 302.60,399.9 302.80,400.1 303.00,403.6 303.20,400.9 303.40,402.1 303.60,400.2 303.80,402.0 304.00,403.9 304.20,404.5 304.40,404.7 304.60,401.0 304.80,403.1 305.00,403.0 305.20,401.2 305.40,404.2 305.60,400.4 305.80,404.7 306.00,402.0 306.20,402.6 306.40,399.8 306.60,402.9 306.80,405.1 307.00,402.2 307.20,402.8 307.40,401.2 307.60,402.4 307.80,401.6 308.00,402.6 308.20,402.4 308.40,403.3 308.60,402.9 308.80,402.6 309.00,399.4 309.20,403.2 309.40,401.5 309.60,400.5 309.80,403.1 310.00,403.4 310.20,403.3 310.40,403.5 310.60,402.1 310.80,403.3 311.00,404.2 311.20,401.5 311.40,403.8 311.60,402.3 311.80,401.3 312.00,404.4 312.20,401.9 312.40,403.9 312.60,403.1 312.80,401.6 313.00,401.1 313.20,402.9 313.40,404.2 313.60,399.4 313.80,403.1 314.00,401.6 314.20,402.8 314.40,404.1 314.60,403.1 314.80,402.0 315.00,401.5 315.20,403.6 315.40,405.2 315.60,402.3 315.80,403.0 316.00,402.0 316.20,403.4 316.40,403.3 316.60,399.3 316.80,402.2 317.00,402.2 317.20,402.9 317.40,401.8 317.60,404.7 317.80,402.7 318.00,403.0 318.20,404.2 318.40,401.8 318.60,402.9 318.80,401.5 319.00,399.4 319.20,403.0 319.40,400.8 319.60,402.5 319.80,404.5 320.00,403.5 320.20,403.3 320.40,404.6 320.60,400.3 320.80,402.0 321.00,403.3 321.20,401.0 321.40,401.5 321.60,400.4 321.80,404.3 322.00,404.1 322.20,402.9 322.40,400.2 322.60,402.6 322.80,400.5 323.00,402.0 323.20,401.6 323.40,401.1 323.60,403.0 323.80,402.3 324.00,401.6 324.20,401.4 324.40,401.5 324.60,400.6 324.80,404.3 325.00,403.6 325.20,402.2 325.40,401.0 325.60,401.7 325.80,402.1 326.00,401.8 326.20,403.6 326.40,402.0 326.60,404.7 326.80,401.3 327.00,402.8 327.20,401.8" fill="none" stroke="#444" stroke-width="0.6" stroke-linejoin="round"/><path d="M4.60,404.3 4.80,403.4 5.00,403.4 5.20,403.7 5.40,404.5 5.60,404.7 5.80,403.7 6.00,404.3 6.20,404.1 6.40,404.5 6.60,405.0 6.80,404.8 7.00,405.0 7.20,405.0 7.40,405.5 7.60,404.1 7.80,404.4 8.00,404.4 8.20,403.9 8.40,404.0 8.60,403.9 8.80,404.0 9.00,404.1 9.20,403.9 9.40,403.8 9.60,403.9 9.80,403.3 10.00,403.7 10.20,404.7 10.40,404.3 10.60,403.9 10.80,404.6 11.00,403.6 11.20,403.5 11.40,404.5 11.60,403.4 11.80,402.9 12.00,403.5 12.20,403.2 12.40,404.5 12.60,404.2 12.80,403.9 13.00,402.9 13.20,403.1 13.40,403.6 13.60,403.8 13.80,403.7 14.00,403.4 14.20,404.5 14.40,403.8 14.60,403.4 14.80,403.6 15.00,403.8 15.20,403.9 15.40,403.1 15.60,403.5 15.80,403.4 16.00,404.5 16.20,403.8 16.40,403.5 16.60,404.1 16.80,404.8 17.00,403.8 17.20,403.9 17.40,404.0 17.60,403.7 17.80,404.1 18.00,404.4 18.20,404.7 18.40,405.0 18.60,404.0 18.80,404.4 19.00,404.4 19.20,404.5 19.40,404.2 19.60,404.5 19.80,404.0 20.00,402.9 20.20,402.9 20.40,401.9 20.60,402.7 20.80,403.2 21.00,403.6 21.20,404.7 21.40,405.2 21.60,404.2 21.80,404.0 22.00,403.1 22.20,403.9 22.40,403.8 22.60,403.2 22.80,404.1 23.00,404.6 23.20,404.2 23.40,403.7 23.60,403.5 23.80,403.6 24.00,403.8 24.20,403.6 24.40,403.7 24.60,404.3 24.80,403.8 25.00,403.6 25.20,404.2 25.40,403.9 25.60,403.7 25.80,404.4 26.00,404.3 26.20,404.3 26.40,404.8 26.60,404.1 26.80,404.6 27.00,404.3 27.20,403.9 27.40,403.1 27.60,403.0 27.80,402.9 28.00,402.8 28.20,402.5 28.40,402.6 28.60,403.6 28.80,402.9 29.00,403.1 29.20,403.1 29.40,403.7 29.60,403.9 29.80,403.7 30.00,403.8 30.20,402.9 30.40,403.7 30.60,403.8 30.80,403.5 31.00,403.3 31.20,402.6 31.40,402.9 31.60,402.9 31.80,401.4 32.00,397.3M33.20,400.9 33.40,402.3 33.60,402.7 33.80,403.5 34.00,403.9 34.20,404.0 34.40,404.0 34.60,404.0 34.80,403.1 35.00,402.7 35.20,403.3 35.40,402.8 35.60,403.4 35.80,404.0 36.00,404.0 36.20,404.2 36.40,404.4 36.60,403.6 36.80,404.2 37.00,403.5 37.20,402.4 37.40,403.4 37.60,403.8 37.80,405.2 38.00,405.5 38.20,404.6 38.40,404.2 38.60,404.1 38.80,403.6 39.00,404.1 39.20,403.7 39.40,403.3 39.60,403.8 39.80,404.2 40.00,403.4 40.20,403.1 40.40,403.3 40.60,403.7 40.80,402.8 41.00,402.8 41.20,403.2 41.40,403.2 41.60,403.2 41.80,403.1 42.00,402.7 42.20,402.4 42.40,403.0 42.60,403.5 42.80,402.9 43.00,404.0 43.20,404.9 43.40,404.9 43.60,405.1 43.80,403.8 44.00,404.9 44.20,404.2 44.40,403.5 44.60,403.1 44.80,403.8 45.00,403.6 45.20,403.3 45.40,403.9 45.60,403.8 45.80,404.1 46.00,403.8 46.20,403.1 46.40,403.6 46.60,404.6 46.80,404.4 47.00,404.4 47.20,403.9 47.40,403.8 47.60,403.7 47.80,403.4 48.00,403.9 48.20,404.0 48.40,404.3 48.60,404.1 48.80,404.1 49.00,403.7 49.20,403.2 49.40,404.0 49.60,404.2 49.80,403.1 50.00,404.1 50.20,404.3 50.40,404.5 50.60,403.8 50.80,403.4 51.00,403.1 51.20,403.3 51.40,403.7 51.60,403.8 51.80,403.7 52.00,403.1 52.20,403.2 52.40,403.7 52.60,403.0 52.80,404.1 53.00,403.7 53.20,404.3 53.40,404.4 53.60,404.3 53.80,403.0 54.00,403.4 54.20,403.1 54.40,403.9 54.60,403.9 54.80,404.0 55.00,403.7 55.20,402.8 55.40,402.8 55.60,403.1 55.80,403.0 56.00,403.4 56.20,404.0 56.40,403.3 56.60,403.4 56.80,403.8 57.00,404.3 57.20,403.6 57.40,403.1 57.60,402.9 57.80,403.0 58.00,403.5 58.20,402.7 58.40,403.4 58.60,404.3 58.80,404.1 59.00,404.5 59.20,403.6 59.40,404.3 59.60,404.2 59.80,403.9 60.00,403.3 60.20,403.8 60.40,402.4 60.60,402.8 60.80,404.4 61.00,403.2 61.20,402.6 61.40,402.9 61.60,402.8 61.80,403.3 62.00,402.7 62.20,402.7 62.40,402.9 62.60,403.4 62.80,403.3 63.00,403.3 63.20,404.1 63.40,404.2 63.60,403.7 63.80,403.9 64.00,403.3 64.20,403.4 64.40,403.4 64.60,403.4 64.80,404.2 65.00,404.0 65.20,404.2 65.40,403.4 65.60,402.7 65.80,403.4 66.00,403.6 66.20,403.3 66.40,403.1 66.60,403.8 66.80,403.4 67.00,403.0 67.20,403.0 67.40,403.3 67.60,403.4 67.80,402.5 68.00,403.1 68.20,403.0 68.40,402.9 68.60,403.0 68.80,404.4 69.00,404.1 69.20,403.5 69.40,403.5 69.60,402.5 69.80,401.8 70.00,402.7 70.20,403.0 70.40,402.4 70.60,402.2 70.80,402.4 71.00,402.9 71.20,403.9 71.40,403.7 71.60,403.0 71.80,403.6 72.00,403.9 72.20,403.5 72.40,403.7 72.60,403.4 72.80,404.1 73.00,403.5 73.20,403.1 73.40,403.6 73.60,402.8 73.80,404.0 74.00,404.0 74.20,403.9 74.40,403.0 74.60,402.9 74.80,402.1 75.00,402.4 75.20,403.3 75.40,402.6 75.60,403.2 75.80,403.2 76.00,404.4 76.20,404.2 76.40,403.2 76.60,402.3 76.80,401.8 77.00,402.7 77.20,403.3 77.40,402.9 77.60,403.5 77.80,403.3 78.00,403.2 78.20,403.0 78.40,403.0 78.60,403.4 78.80,403.1 79.00,404.6 79.20,404.1 79.40,402.8 79.60,402.9 79.80,403.4 80.00,403.2 80.20,402.5 80.40,402.5 80.60,402.9 80.80,404.0 81.00,403.8 81.20,403.5 81.40,403.4 81.60,403.8 81.80,403.7 82.00,403.4 82.20,403.9 82.40,403.1 82.60,403.3 82.80,403.5 83.00,403.3 83.20,402.8 83.40,402.5 83.60,403.4 83.80,403.4 84.00,403.2 84.20,402.4 84.40,402.6 84.60,403.6 84.80,404.5 85.00,404.1 85.20,402.7 85.40,403.4 85.60,403.2 85.80,403.7 86.00,402.9 86.20,402.8 86.40,402.2 86.60,403.1 86.80,403.3 87.00,403.8 87.20,402.9 87.40,403.0 87.60,402.3 87.80,402.5 88.00,402.4 88.20,403.1 88.40,402.9 88.60,402.9 88.80,403.3 89.00,402.5 89.20,403.4 89.40,404.5 89.60,403.9 89.80,403.9 90.00,402.8 90.20,403.4 90.40,403.4 90.60,403.6 90.80,403.6 91.00,403.4 91.20,403.0 91.40,403.6 91.60,403.5 91.80,403.1 92.00,402.1 92.20,403.3 92.40,403.3 92.60,402.9 92.80,403.3 93.00,403.4 93.20,403.7 93.40,403.3 93.60,404.1 93.80,403.4 94.00,403.8 94.20,402.8 94.40,402.3 94.60,402.6 94.80,402.9 95.00,403.2 95.20,404.0 95.40,403.5 95.60,403.9 95.80,404.0 96.00,403.8 96.20,403.6 96.40,403.2 96.60,403.9 96.80,403.9 97.00,403.2 97.20,403.8 97.40,403.7 97.60,403.8 97.80,404.2 98.00,404.1 98.20,403.4 98.40,404.3 98.60,404.1 98.80,404.2 99.00,403.4 99.20,403.9 99.40,403.0 99.60,402.5 99.80,402.4 100.00,403.3 100.20,403.7 100.40,403.3 100.60,403.1 100.80,403.2 101.00,403.5 101.20,402.8 101.40,402.5 101.60,403.6 101.80,402.5 102.00,402.3 102.20,402.8 102.40,402.7 102.60,402.6 102.80,402.6 103.00,403.5 103.20,403.2 103.40,402.8 103.60,402.8 103.80,402.4 104.00,402.5 104.20,403.3 104.40,404.1 104.60,403.6 104.80,403.2 105.00,402.6 105.20,403.0 105.40,402.1 105.60,402.6 105.80,402.6 106.00,402.1 106.20,401.9 106.40,402.6 106.60,402.8 106.80,403.4 107.00,404.0 107.20,403.9 107.40,403.4 107.60,403.0 107.80,403.7 108.00,403.7 108.20,403.2 108.40,403.2 108.60,402.4 108.80,402.7 109.00,403.0 109.20,403.8 109.40,403.7 109.60,402.6 109.80,402.3 110.00,402.3 110.20,401.7 110.40,402.1 110.60,402.4 110.80,403.3 111.00,402.7 111.20,403.9 111.40,404.1 111.60,403.3 111.80,403.3 112.00,403.0 112.20,403.0 112.40,403.4 112.60,403.8 112.80,403.5 113.00,403.5 113.20,404.2 113.40,404.2 113.60,403.1 113.80,403.5 114.00,403.5 114.20,403.2 114.40,402.9 114.60,402.4 114.80,402.9 115.00,403.2 115.20,403.8 115.40,403.9 115.60,403.3 115.80,403.6 116.00,403.9 116.20,402.7 116.40,402.7 116.60,402.5 116.80,403.2 117.00,403.5 117.20,404.1 117.40,402.9 117.60,402.9 117.80,403.6 118.00,403.6 118.20,403.4 118.40,402.8 118.60,402.2 118.80,402.9 119.00,402.6 119.20,402.8 119.40,403.2 119.60,403.9 119.80,403.8 120.00,403.7 120.20,404.3 120.40,404.7 120.60,404.6 120.80,403.9 121.00,403.2 121.20,402.5 121.40,403.1 121.60,403.4 121.80,403.3 122.00,403.1 122.20,403.1 122.40,403.3 122.60,402.6 122.80,403.2 123.00,403.1 123.20,403.7 123.40,403.7 123.60,403.0 123.80,402.4 124.00,403.7 124.20,403.4 124.40,402.9 124.60,403.2 124.80,403.6 125.00,402.1 125.20,402.5 125.40,403.1 125.60,402.8 125.80,403.3 126.00,403.2 126.20,402.1 126.40,402.3 126.60,402.8 126.80,403.1 127.00,402.6 127.20,402.9 127.40,403.0 127.60,402.6 127.80,402.6 128.00,402.2 128.20,402.6 128.40,402.6 128.60,403.0 128.80,402.6 129.00,401.6 129.20,401.7 129.40,402.2 129.60,402.1 129.80,401.7 130.00,402.7 130.20,402.7 130.40,402.7 130.60,402.2 130.80,402.4 131.00,402.9 131.20,403.3 131.40,402.7 131.60,403.0 131.80,403.2 132.00,403.2 132.20,402.4 132.40,402.0 132.60,402.6 132.80,402.3 133.00,402.5 133.20,402.0 133.40,401.8 133.60,402.0 133.80,403.1 134.00,403.7 134.20,403.1 134.40,403.4 134.60,403.0 134.80,403.3 135.00,403.5 135.20,403.0 135.40,402.8 135.60,403.6 135.80,403.0 136.00,402.1 136.20,402.6 136.40,403.0 136.60,403.0 136.80,403.0 137.00,402.9 137.20,402.6 137.40,402.4 137.60,402.3 137.80,402.5 138.00,402.9 138.20,403.3 138.40,403.7 138.60,403.5 138.80,403.3 139.00,403.3 139.20,402.7 139.40,403.5 139.60,402.7 139.80,403.1 140.00,402.9 140.20,403.2 140.40,403.6 140.60,403.3 140.80,403.6 141.00,402.6 141.20,403.3 141.40,403.9 141.60,404.2 141.80,404.5 142.00,403.8 142.20,403.9 142.40,403.3 142.60,403.5 142.80,403.8 143.00,403.9 143.20,403.0 143.40,403.1 143.60,404.0 143.80,403.5 144.00,404.4 144.20,403.8 144.40,403.1 144.60,402.4 144.80,403.1 145.00,402.8 145.20,402.7 145.40,403.3 145.60,403.5 145.80,403.9 146.00,403.6 146.20,402.7 146.40,402.4 146.60,402.9 146.80,402.9 147.00,402.5 147.20,403.1 147.40,402.7 147.60,403.9 147.80,403.6 148.00,403.9 148.20,402.9 148.40,402.9 148.60,403.5 148.80,402.4 149.00,403.2 149.20,402.9 149.40,403.3 149.60,404.2 149.80,403.7 150.00,403.8 150.20,403.6 150.40,402.2 150.60,402.4 150.80,402.5 151.00,403.0 151.20,402.7 151.40,402.5 151.60,402.5 151.80,402.9 152.00,402.9 152.20,402.8 152.40,403.0 152.60,402.8 152.80,402.8 153.00,403.6 153.20,403.6 153.40,403.2 153.60,403.5 153.80,404.2 154.00,404.7 154.20,403.4 154.40,402.4 154.60,402.4 154.80,402.6 155.00,403.3 155.20,403.5 155.40,404.4 155.60,403.2 155.80,403.7 156.00,402.6 156.20,402.8 156.40,402.1 156.60,403.8 156.80,403.6 157.00,402.8 157.20,402.1 157.40,402.0 157.60,402.5 157.80,403.5 158.00,402.9 158.20,402.9 158.40,403.3 158.60,402.9 158.80,401.7 159.00,402.1 159.20,403.1 159.40,403.3 159.60,402.3 159.80,401.9 160.00,402.4 160.20,402.4 160.40,402.1 160.60,403.9 160.80,403.8 161.00,403.6 161.20,402.6 161.40,403.8 161.60,403.9 161.80,403.7 162.00,404.1 162.20,403.6 162.40,402.7 162.60,402.9 162.80,403.1 163.00,402.7 163.20,402.6 163.40,402.8 163.60,402.5 163.80,402.2 164.00,401.7 164.20,402.5 164.40,403.2 164.60,402.5 164.80,403.2 165.00,402.4 165.20,402.7 165.40,403.8 165.60,402.4 165.80,403.0 166.00,402.1 166.20,402.0 166.40,402.2 166.60,402.1 166.80,402.8 167.00,402.1 167.20,402.5 167.40,402.9 167.60,402.1 167.80,402.3 168.00,403.6 168.20,403.3 168.40,403.2 168.60,403.5 168.80,404.3 169.00,404.0 169.20,403.2 169.40,404.2 169.60,403.9 169.80,403.8 170.00,402.3 170.20,402.8 170.40,402.4 170.60,402.3 170.80,400.9 171.00,400.2 171.20,400.7 171.40,400.1 171.50,400.1M178.90,400.8 179.00,399.0M182.40,401.2 182.60,397.8M186.80,400.0 186.90,400.7 187.00,400.7 187.20,399.9 187.40,399.2M190.00,400.7 190.20,401.4 190.40,401.5 190.60,401.1 190.80,400.1 191.00,400.2 191.20,400.6 191.40,400.2 191.60,400.7 191.80,400.3 192.00,399.0M193.40,397.9 193.60,399.8 193.80,399.9 194.00,400.2 194.20,401.1 194.40,402.1 194.50,402.4 194.60,401.8 194.80,401.7 195.00,402.8 195.20,402.3 195.40,400.8 195.60,400.3 195.80,400.3 196.00,400.0 196.20,401.2 196.40,400.5M197.00,399.7 197.20,400.2 197.40,400.8 197.60,402.1 197.80,401.0 198.00,402.2 198.20,402.9 198.40,403.6 198.60,402.5 198.80,402.3 199.00,402.5 199.20,402.4 199.40,402.2 199.60,402.8 199.80,402.9 200.00,402.6 200.20,402.2 200.40,402.5 200.60,400.9 200.80,401.7 201.00,402.3 201.20,402.0 201.40,402.0 201.60,402.5 201.80,403.3 202.00,402.9 202.20,403.1 202.40,402.3 202.60,402.4 202.80,402.3 203.00,402.7 203.20,402.6 203.40,402.8 203.60,403.3 203.80,403.8 204.00,403.1 204.20,402.7 204.40,402.5 204.60,402.1 204.80,402.9 205.00,403.0 205.20,403.8 205.40,403.2 205.60,403.1 205.80,402.2 206.00,402.5 206.20,401.3 206.40,401.6 206.60,402.7 206.80,402.5 207.00,402.9 207.20,402.5 207.40,402.6 207.60,402.2 207.80,403.0 208.00,403.4 208.20,402.5 208.40,402.7 208.60,401.7 208.80,402.1 209.00,402.6 209.20,402.3 209.40,402.2 209.60,402.9 209.80,403.3 210.00,402.7 210.20,402.6 210.40,402.5 210.60,402.6 210.80,401.9 211.00,402.6 211.20,402.2 211.40,402.1 211.60,401.9 211.80,401.1 212.00,402.0 212.20,401.8 212.40,402.0 212.60,401.9 212.80,402.1 213.00,401.6 213.20,402.4 213.40,402.7 213.60,402.6 213.80,402.2 214.00,401.6 214.20,402.1 214.40,402.9 214.60,401.8 214.80,401.9 215.00,402.4 215.20,402.2 215.40,402.4 215.60,403.4 215.80,403.7 216.00,402.9 216.20,403.3 216.40,404.1 216.60,403.0 216.80,403.0 217.00,402.2 217.20,402.0 217.40,402.5 217.60,402.6 217.80,402.4 218.00,402.2 218.20,402.3 218.40,402.9 218.60,402.8 218.80,401.8 219.00,402.5 219.20,402.6 219.40,402.7 219.60,401.9 219.80,401.9 220.00,403.0 220.20,402.9 220.40,402.9 220.60,402.4 220.80,401.9 221.00,401.6 221.20,401.8 221.40,401.2 221.60,401.9 221.80,402.5 222.00,401.9 222.20,401.6 222.40,401.8 222.60,402.3 222.80,402.5 223.00,403.0 223.20,402.9 223.40,402.0 223.60,402.2 223.80,401.4 224.00,401.7 224.20,401.9 224.40,402.1 224.60,402.4 224.80,401.9 225.00,401.7 225.20,402.5 225.40,403.2 225.60,402.7 225.80,402.3 226.00,402.7 226.20,402.4 226.40,402.1 226.60,402.5 226.80,402.7 227.00,402.5 227.20,401.8 227.40,401.8 227.60,402.4 227.80,401.8 228.00,402.0 228.20,402.4 228.40,403.1 228.60,402.8 228.80,402.0 229.00,401.8 229.20,400.8 229.40,400.7 229.60,402.0 229.80,401.9 230.00,401.6 230.20,401.6 230.40,402.2 230.60,402.8 230.80,402.7 231.00,401.1 231.20,401.4 231.40,401.7 231.60,401.2 231.80,402.0 232.00,402.3 232.20,402.3 232.40,401.1 232.60,401.2 232.80,401.0 233.00,401.2 233.20,401.7 233.40,402.3 233.60,402.0 233.80,401.2 234.00,402.2 234.20,402.5 234.40,402.4 234.60,402.1 234.80,402.3 235.00,401.4 235.20,401.6 235.40,401.8 235.60,402.0 235.80,402.4 236.00,401.8 236.20,401.3 236.40,401.0 236.60,402.5 236.80,401.6 237.00,401.4 237.20,401.6 237.40,401.9 237.60,401.6 237.80,402.1 238.00,402.6 238.20,401.7 238.40,401.8 238.60,402.1 238.80,402.5 239.00,402.1 239.20,401.8 239.40,401.8 239.60,401.8 239.80,401.5 240.00,400.6 240.20,402.1 240.40,402.4 240.60,402.6 240.80,402.2 241.00,402.1 241.20,401.2 241.40,401.2 241.60,401.6 241.80,402.1 242.00,402.2 242.20,402.0 242.40,402.0 242.60,402.0 242.80,402.3 243.00,403.3 243.20,402.3 243.40,401.8 243.60,401.5 243.80,402.1 244.00,402.0 244.20,401.5 244.40,401.4 244.60,402.3 244.80,401.6 245.00,401.6 245.20,401.5 245.40,401.8 245.60,401.9 245.80,402.7 246.00,401.5 246.20,401.8 246.40,402.3 246.60,402.0 246.80,403.0 247.00,402.4 247.20,401.8 247.40,401.0 247.60,401.1 247.80,402.4 248.00,402.4 248.20,401.5 248.40,401.2 248.60,401.6 248.80,401.6 249.00,401.7 249.20,401.9 249.40,401.4 249.60,400.8 249.80,400.9 250.00,400.9 250.20,402.1 250.40,402.0 250.60,402.3 250.80,403.0 251.00,402.3 251.20,401.5 251.40,401.3 251.60,402.4 251.80,401.8 252.00,401.8 252.20,402.4 252.40,403.0 252.60,403.5 252.80,403.0 253.00,402.4 253.20,402.5 253.40,402.6 253.60,402.5 253.80,402.7 254.00,403.4 254.20,402.6 254.40,403.0 254.60,402.6 254.80,403.0 255.00,402.9 255.20,402.5 255.40,401.7 255.60,401.8 255.80,401.9 256.00,401.4 256.20,401.3 256.40,402.7 256.60,402.8 256.80,402.4 257.00,402.4 257.20,402.9 257.40,402.6 257.60,402.5 257.80,401.9 258.00,402.0 258.20,402.2 258.40,401.8 258.60,402.0 258.80,401.9 259.00,401.4 259.20,402.4 259.40,403.1 259.60,402.8 259.80,402.5 260.00,402.5 260.20,402.8 260.40,402.8 260.60,403.0 260.80,403.5 261.00,403.3 261.20,402.7 261.40,401.6 261.60,402.1 261.80,402.0 262.00,401.7 262.20,401.3 262.40,401.1 262.60,401.6 262.80,402.5 263.00,403.0 263.20,402.7 263.40,402.0 263.60,401.1 263.80,401.4 264.00,401.8 264.20,401.7 264.40,401.3 264.60,402.2 264.80,402.0 265.00,402.9 265.20,402.5 265.40,402.6 265.60,402.4 265.80,402.6 266.00,403.0 266.20,402.4 266.40,402.0 266.60,403.1 266.80,403.1 267.00,402.5 267.20,402.9 267.40,402.4 267.60,402.1 267.80,401.9 268.00,401.7 268.20,401.7 268.40,401.8 268.60,401.7 268.80,402.0 269.00,401.0 269.20,402.2 269.40,402.4 269.60,402.3 269.80,402.1 270.00,402.0 270.20,402.0 270.40,402.4 270.60,401.6 270.80,401.7 271.00,401.6 271.20,401.3 271.40,400.9 271.60,401.4 271.80,402.1 272.00,402.6 272.20,401.2 272.40,401.9 272.60,401.6 272.80,401.9 273.00,401.0 273.20,400.8 273.40,402.1 273.60,402.6 273.80,402.7 274.00,403.0 274.20,402.9 274.40,402.1 274.60,401.6 274.80,402.6 275.00,402.8 275.20,403.1 275.40,402.5 275.60,402.0 275.80,402.2 276.00,401.7 276.20,401.4 276.40,401.7 276.60,402.5 276.80,402.5 277.00,402.9 277.20,402.5 277.40,402.6 277.60,402.2 277.80,402.8 278.00,401.9 278.20,401.4 278.40,401.4 278.60,401.7 278.80,401.5 279.00,401.9 279.20,402.2 279.40,401.8 279.60,401.3 279.80,402.2 280.00,400.9 280.20,400.7 280.40,401.1 280.60,402.3 280.80,402.5 281.00,402.2 281.20,402.1 281.40,402.8 281.60,403.1 281.80,402.4 282.00,402.6 282.20,402.3 282.40,402.3 282.60,401.2 282.80,401.0 283.00,401.7 283.20,401.6 283.40,401.5 283.60,402.1 283.80,402.5 284.00,402.9 284.20,402.9 284.40,402.7 284.60,402.0 284.80,401.7 285.00,401.3 285.20,400.8 285.40,401.9 285.60,402.5 285.80,401.9 286.00,402.1 286.20,401.6 286.40,401.9 286.60,401.3 286.80,401.6 287.00,401.7 287.20,402.3 287.40,402.7 287.60,402.7 287.80,402.7 288.00,401.2 288.20,401.5 288.40,402.4 288.60,402.5 288.80,401.7 289.00,402.3 289.20,402.5 289.40,403.4 289.60,402.6 289.80,402.2 290.00,402.1 290.20,401.2 290.40,402.4 290.60,401.7 290.80,401.5 291.00,401.5 291.20,401.2 291.40,401.8 291.60,401.8 291.80,401.3 292.00,402.3 292.20,402.5 292.40,402.3 292.60,402.5 292.80,401.8 293.00,401.5 293.20,401.8 293.40,401.6 293.60,401.6 293.80,401.7 294.00,403.0 294.20,402.3 294.40,402.1 294.60,401.8 294.80,402.4 295.00,401.5 295.20,401.2 295.40,401.9 295.60,401.5 295.80,401.0 296.00,401.7 296.20,401.4 296.40,402.0 296.60,401.5 296.80,402.6 297.00,401.8 297.20,402.2 297.40,402.6 297.60,402.4 297.80,402.2 298.00,402.0 298.20,402.4 298.40,401.9 298.60,402.8 298.80,402.0 299.00,402.4 299.20,402.4 299.40,402.1 299.60,402.1 299.80,402.4 300.00,402.5 300.20,402.7 300.40,402.2 300.60,402.8 300.80,402.2 301.00,402.2 301.20,402.3 301.40,402.3 301.60,402.6 301.80,402.5 302.00,401.8 302.20,401.7 302.40,402.5 302.60,401.9 302.80,401.2 303.00,401.9 303.20,401.0 303.40,401.6 303.60,403.0 303.80,403.0 304.00,403.3 304.20,403.0 304.40,403.8 304.60,403.6 304.80,402.8 305.00,402.2 305.20,403.0 305.40,402.4 305.60,402.8 305.80,402.1 306.00,403.1 306.20,403.2 306.40,402.6 306.60,402.8 306.80,402.5 307.00,402.2 307.20,402.4 307.40,402.7 307.60,402.8 307.80,402.6 308.00,402.6 308.20,403.4 308.40,402.3 308.60,402.3 308.80,401.2 309.00,400.7 309.20,402.6 309.40,402.7 309.60,402.1 309.80,402.2 310.00,402.3 310.20,402.2 310.40,402.2 310.60,402.0 310.80,402.8 311.00,402.5 311.20,402.2 311.40,403.2 311.60,402.4 311.80,402.4 312.00,402.7 312.20,401.9 312.40,402.1 312.60,402.8 312.80,402.2 313.00,401.9 313.20,402.0 313.40,401.9 313.60,401.3 313.80,400.5 314.00,401.1 314.20,401.6 314.40,402.0 314.60,402.2 314.80,403.3 315.00,402.7 315.20,402.9 315.40,402.4 315.60,402.5 315.80,402.7 316.00,401.3 316.20,401.7 316.40,401.2 316.60,402.2 316.80,401.9 317.00,401.9 317.20,402.9 317.40,403.1 317.60,401.9 317.80,402.1 318.00,402.0 318.20,402.6 318.40,402.4 318.60,401.8 318.80,402.8 319.00,402.3 319.20,401.7 319.40,402.7 319.60,402.8 319.80,402.7 320.00,402.4 320.20,402.5 320.40,402.1 320.60,401.2 320.80,402.1 321.00,401.7 321.20,401.5 321.40,402.7 321.60,402.7 321.80,402.6 322.00,402.4 322.20,402.2 322.40,402.2 322.60,401.7 322.80,401.5 323.00,401.4 323.20,401.5 323.40,401.1 323.60,402.4 323.80,402.7 324.00,402.0 324.20,401.6 324.40,402.0 324.60,402.0 324.80,402.6 325.00,402.4 325.20,402.6 325.40,401.9 325.60,402.1 325.80,402.1 326.00,401.8 326.20,402.4 326.40,402.7 326.60,403.1 326.80,402.3 327.00,401.3 327.20,402.5" fill="none" stroke="#111" stroke-width="1.8" stroke-linejoin="round"/><path d="M31.80,401.57 32.00,397.52 32.20,391.54 32.40,386.73 32.50,386.00 32.60,386.72 32.80,391.54 33.00,397.51 33.20,401.56M171.00,400.83 171.20,400.50 171.40,400.17 171.50,400.00 171.60,399.67 171.80,399.00 172.00,398.33 172.20,397.67 172.40,397.00 172.60,396.33 172.80,395.67 173.00,395.00 173.20,394.14 173.40,393.28 173.60,392.42 173.80,391.56 174.00,390.70 174.20,390.08 174.40,389.47 174.60,388.85 174.80,388.23 175.00,387.62 175.20,387.00 175.40,368.50 175.60,350.00 175.80,337.44 176.00,324.88 176.10,318.60 176.20,326.45 176.40,342.15 176.50,350.00 176.60,362.00 176.80,386.00 177.00,388.00 177.10,389.00 177.20,387.55 177.40,384.65 177.50,383.20 177.60,384.83 177.80,388.10 178.00,391.37 178.10,393.00 178.20,393.94 178.40,395.81 178.60,397.69 178.80,399.56 178.90,400.50 179.00,399.56 179.20,397.67 179.40,395.78 179.60,393.89 179.80,392.00 180.00,390.03 180.20,388.05 180.40,386.07 180.60,384.10 180.80,386.52 181.00,388.94 181.20,391.37 181.40,393.79 181.50,395.00 181.60,395.61 181.80,396.83 182.00,398.06 182.20,399.28 182.40,400.50 182.60,397.68 182.80,394.86 183.00,392.05 183.20,389.23 183.40,386.41 183.50,385.00 183.60,383.71 183.80,381.13 184.00,378.55 184.20,375.97 184.40,373.39 184.50,372.10 184.60,373.73 184.80,376.98 185.00,380.24 185.20,383.49 185.40,386.75 185.60,390.00 185.80,391.75 186.00,393.51 186.20,395.26 186.40,397.02 186.60,398.77 186.80,400.52 187.20,400.22 187.40,399.43 187.60,398.64 187.80,397.85 188.00,397.06 188.20,396.28 188.40,395.49 188.60,394.70 188.80,395.51 189.00,396.32 189.20,397.13 189.40,397.94 189.60,398.76 189.80,399.57 190.00,400.38M191.40,400.68 191.60,400.42 191.80,400.15 192.00,399.89 192.20,399.62 192.40,399.36 192.60,399.10 192.80,398.83 192.90,398.70 193.00,398.97 193.20,399.51 193.40,400.04 193.60,400.58M195.80,400.65 196.00,400.29 196.20,399.92 196.40,399.56 196.60,399.20 196.80,399.68 197.00,400.15 197.20,400.62" fill="none" stroke="#111" stroke-width="1.15" stroke-linejoin="round"/><text x="166.1" y="314.8" font-size="9.75" fill="#3a3a48" textLength="21.6" lengthAdjust="spacing">18:1c</text><text x="227.7" y="310.8" font-size="8.7" fill="#3e3e3e" textLength="108.5" lengthAdjust="spacing">Fr. 2: hexane:acetone (90:10)</text><circle cx="230.2" cy="327.6" r="1.35" fill="#151515"/><text x="234.7" y="330.5" font-size="8.7" fill="#3e3e3e" textLength="50.0" lengthAdjust="spacing">cis monoenes</text><text x="305.1" y="439.9" font-size="5" fill="#33446a" textLength="22.9" lengthAdjust="spacingAndGlyphs">G003522</text><path d="M374.00,411.70V408.30H697.12V415.30M397.08,408.30v3.40M420.16,408.30v3.40M443.24,408.30v3.40M466.32,408.30v3.40M489.40,408.30v3.40M512.48,408.30v3.40M535.56,408.30v3.40M558.64,408.30v3.40M581.72,408.30v3.40M604.80,408.30v3.40M627.88,408.30v3.40M650.96,408.30v3.40M674.04,408.30v3.40" fill="none" stroke="#111" stroke-width="1"/><text x="374.0" y="425.4" font-size="9.6" fill="#1a1a1a" text-anchor="middle">6</text><text x="420.2" y="425.4" font-size="9.6" fill="#1a1a1a" text-anchor="middle">8</text><text x="460.4" y="425.4" font-size="9.6" fill="#1a1a1a" textLength="11.6" lengthAdjust="spacing">10</text><text x="506.6" y="425.4" font-size="9.6" fill="#1a1a1a" textLength="11.6" lengthAdjust="spacing">12</text><text x="552.7" y="425.4" font-size="9.6" fill="#1a1a1a" textLength="11.6" lengthAdjust="spacing">14</text><text x="598.9" y="425.4" font-size="9.6" fill="#1a1a1a" textLength="11.6" lengthAdjust="spacing">16</text><text x="645.1" y="425.4" font-size="9.6" fill="#1a1a1a" textLength="11.6" lengthAdjust="spacing">18</text><text x="691.2" y="425.4" font-size="9.6" fill="#1a1a1a" textLength="11.6" lengthAdjust="spacing">20</text><text x="526.2" y="439.3" font-size="10" fill="#1a1a1a" textLength="18.4" lengthAdjust="spacing">Min</text><polyline points="374.00,404.0 374.20,402.9 374.40,403.0 374.60,405.5 374.80,404.0 375.00,405.7 375.20,402.3 375.40,403.6 375.60,399.6 375.80,399.0 376.00,404.0 376.20,401.4 376.40,403.0 376.60,401.9 376.80,400.7 377.00,402.9 377.20,400.3 377.40,403.1 377.60,403.8 377.80,401.5 378.00,402.8 378.20,401.1 378.40,402.5 378.60,402.2 378.80,405.0 379.00,402.2 379.20,403.0 379.40,402.1 379.60,400.2 379.80,402.9 380.00,402.6 380.20,401.5 380.40,404.5 380.60,404.0 380.80,402.0 381.00,400.7 381.20,404.8 381.40,399.8 381.60,405.5 381.80,402.7 382.00,406.1 382.20,401.3 382.40,404.3 382.60,406.2 382.80,402.0 383.00,405.7 383.20,401.3 383.40,403.0 383.60,404.9 383.80,403.1 384.00,404.2 384.20,402.7 384.40,401.9 384.60,402.0 384.80,405.2 385.00,403.2 385.20,403.1 385.40,403.9 385.60,404.6 385.80,402.9 386.00,403.9 386.20,402.3 386.40,404.6 386.60,403.5 386.80,401.5 387.00,403.4 387.20,406.0 387.40,403.2 387.60,404.7 387.80,404.7 388.00,403.1 388.20,401.4 388.40,405.4 388.60,402.8 388.80,402.2 389.00,401.6 389.20,402.6 389.40,403.5 389.60,403.6 389.80,401.4 390.00,402.8 390.20,400.0 390.40,403.0 390.60,404.5 390.80,402.9 391.00,402.4 391.20,400.1 391.40,400.5 391.60,405.3 391.80,406.7 392.00,402.6 392.20,403.1 392.40,404.0 392.60,404.5 392.80,402.4 393.00,402.2 393.20,402.9 393.40,401.2 393.60,403.2 393.80,400.6 394.00,403.2 394.20,400.4 394.40,405.3 394.60,404.3 394.80,399.4 395.00,405.2 395.20,403.9 395.40,404.9 395.60,401.5 395.80,404.1 396.00,401.6 396.20,401.6 396.40,402.2 396.60,403.2 396.80,404.6 397.00,400.8 397.20,399.9 397.40,403.8 397.60,402.9 397.80,402.8 398.00,404.3 398.20,401.6 398.40,402.5 398.60,403.6 398.80,403.6 399.00,400.4 399.20,404.4 399.40,402.4 399.60,401.3 399.80,402.1 400.00,404.5 400.20,403.7 400.40,398.9 400.60,403.7 400.80,405.5 401.00,403.9 401.20,404.2 401.40,403.0 401.60,403.4 401.80,405.7 402.00,406.4 402.20,400.8 402.40,401.2 402.60,404.9 402.80,402.8 403.00,404.5 403.20,404.3 403.40,402.4 403.60,404.9 403.80,403.0 404.00,404.5 404.20,401.0 404.40,399.2 404.60,404.3 404.80,402.0 405.00,402.9 405.20,403.7 405.40,403.5 405.60,404.1 405.80,401.6 406.00,404.2 406.20,402.6 406.40,405.2 406.60,406.2 406.80,403.7 407.00,403.9 407.20,404.3 407.40,404.4 407.60,400.4 407.80,404.2 408.00,400.5 408.20,402.3 408.40,402.4 408.60,404.4 408.80,406.1 409.00,401.4 409.20,401.6 409.40,403.7 409.60,402.9 409.80,399.5 410.00,403.8 410.20,402.5 410.40,405.9 410.60,403.2 410.80,404.6 411.00,406.9 411.20,400.6 411.40,404.1 411.60,399.9 411.80,403.4 412.00,400.7 412.20,405.0 412.40,402.9 412.60,403.7 412.80,405.3 413.00,402.1 413.20,403.8 413.40,403.2 413.60,403.6 413.80,404.4 414.00,404.9 414.20,404.6 414.40,403.6 414.60,400.4 414.80,401.7 415.00,400.4 415.20,405.0 415.40,404.1 415.60,404.3 415.80,402.4 416.00,406.5 416.20,402.9 416.40,405.3 416.60,399.6 416.80,402.9 417.00,404.7 417.20,406.8 417.40,401.3 417.60,402.5 417.80,401.2 418.00,405.4 418.20,405.6 418.40,402.7 418.60,403.3 418.80,403.0 419.00,400.4 419.20,403.5 419.40,399.5 419.60,403.5 419.80,401.0 420.00,404.3 420.20,402.5 420.40,401.4 420.60,402.0 420.80,402.6 421.00,403.2 421.20,400.8 421.40,404.4 421.60,403.8 421.80,402.3 422.00,404.1 422.20,404.7 422.40,401.9 422.60,402.8 422.80,402.1 423.00,402.6 423.20,402.2 423.40,406.2 423.60,405.4 423.80,402.8 424.00,401.3 424.20,402.2 424.40,403.1 424.60,402.0 424.80,403.1 425.00,399.3 425.20,402.1 425.40,402.8 425.60,401.7 425.80,402.4 426.00,399.2 426.20,402.1 426.40,401.2 426.60,403.1 426.80,403.0 427.00,401.5 427.20,403.1 427.40,404.0 427.60,401.5 427.80,401.6 428.00,401.9 428.20,404.2 428.40,402.5 428.60,401.7 428.80,405.7 429.00,405.5 429.20,399.5 429.40,401.9 429.60,401.7 429.80,402.5 430.00,403.4 430.20,399.9 430.40,403.0 430.60,403.3 430.80,401.0 431.00,405.7 431.20,405.1 431.40,402.8 431.60,403.5 431.80,402.5 432.00,405.3 432.20,402.2 432.40,404.1 432.60,404.7 432.80,402.4 433.00,403.7 433.20,400.9 433.40,403.5 433.60,404.5 433.80,404.1 434.00,402.1 434.20,401.2 434.40,403.5 434.60,403.0 434.80,400.3 435.00,404.4 435.20,402.8 435.40,401.2 435.60,400.7 435.80,404.9 436.00,402.8 436.20,405.2 436.40,403.2 436.60,401.4 436.80,399.4 437.00,404.0 437.20,403.3 437.40,398.5 437.60,398.5 437.80,404.5 438.00,401.7 438.20,403.3 438.40,404.3 438.60,400.3 438.80,398.5 439.00,400.3 439.20,403.3 439.40,402.3 439.60,402.7 439.80,403.5 440.00,403.6 440.20,401.5 440.40,403.9 440.60,402.5 440.80,401.5 441.00,399.3 441.20,403.4 441.40,402.6 441.60,401.7 441.80,400.3 442.00,401.3 442.20,402.9 442.40,401.3 442.60,401.7 442.80,400.8 443.00,401.8 443.20,405.0 443.40,401.0 443.60,399.1 443.80,396.0 444.00,390.2 444.20,384.4 444.40,382.0 444.60,384.4 444.80,389.6 445.00,395.6 445.20,400.1 445.40,403.6 445.60,399.7 445.80,401.6 446.00,399.4 446.20,404.0 446.40,401.7 446.60,403.5 446.80,405.0 447.00,401.4 447.20,405.2 447.40,400.6 447.60,402.5 447.80,400.7 448.00,406.4 448.20,404.8 448.40,398.8 448.60,403.2 448.80,402.5 449.00,402.7 449.20,402.8 449.40,403.6 449.60,403.8 449.80,404.7 450.00,404.2 450.20,403.1 450.40,402.1 450.60,400.5 450.80,400.4 451.00,401.3 451.20,398.7 451.40,401.5 451.60,402.2 451.80,399.3 452.00,405.3 452.20,400.9 452.40,404.1 452.60,402.6 452.80,403.2 453.00,400.8 453.20,402.5 453.40,403.8 453.60,402.9 453.80,400.3 454.00,402.4 454.20,402.3 454.40,404.1 454.60,403.0 454.80,403.4 455.00,403.5 455.20,400.0 455.40,403.9 455.60,404.1 455.80,403.8 456.00,401.4 456.20,403.9 456.40,402.1 456.60,401.1 456.80,402.0 457.00,402.5 457.20,402.5 457.40,401.7 457.60,406.2 457.80,403.3 458.00,403.8 458.20,403.2 458.40,401.3 458.60,402.2 458.80,402.7 459.00,401.3 459.20,404.6 459.40,404.4 459.60,402.3 459.80,402.4 460.00,400.4 460.20,401.3 460.40,404.3 460.60,402.5 460.80,401.1 461.00,405.3 461.20,400.2 461.40,402.6 461.60,399.1 461.80,405.1 462.00,403.1 462.20,404.3 462.40,400.0 462.60,405.4 462.80,400.6 463.00,402.9 463.20,403.8 463.40,403.0 463.60,403.5 463.80,404.1 464.00,401.2 464.20,400.8 464.40,403.9 464.60,403.2 464.80,402.5 465.00,404.4 465.20,404.3 465.40,401.4 465.60,399.7 465.80,402.1 466.00,405.7 466.20,405.1 466.40,401.5 466.60,400.8 466.80,398.6 467.00,405.5 467.20,401.7 467.40,401.7 467.60,405.3 467.80,403.1 468.00,402.6 468.20,401.5 468.40,400.2 468.60,402.9 468.80,404.1 469.00,399.4 469.20,402.4 469.40,400.1 469.60,402.4 469.80,403.4 470.00,404.6 470.20,402.8 470.40,400.5 470.60,403.8 470.80,400.2 471.00,403.6 471.20,401.6 471.40,400.5 471.60,400.8 471.80,403.8 472.00,405.9 472.20,402.7 472.40,400.1 472.60,400.4 472.80,401.4 473.00,403.6 473.20,404.4 473.40,402.8 473.60,404.2 473.80,401.1 474.00,402.5 474.20,402.2 474.40,402.2 474.60,401.2 474.80,404.2 475.00,400.1 475.20,400.6 475.40,401.3 475.60,401.1 475.80,400.5 476.00,402.5 476.20,403.3 476.40,402.6 476.60,400.9 476.80,402.1 477.00,400.0 477.20,402.5 477.40,400.2 477.60,404.5 477.80,401.9 478.00,401.2 478.20,405.2 478.40,402.2 478.60,400.9 478.80,402.0 479.00,400.9 479.20,399.1 479.40,401.2 479.60,401.3 479.80,402.7 480.00,403.5 480.20,402.6 480.40,402.8 480.60,405.4 480.80,401.4 481.00,403.5 481.20,401.8 481.40,400.1 481.60,402.3 481.80,402.6 482.00,401.6 482.20,403.6 482.40,405.1 482.60,398.4 482.80,404.4 483.00,401.7 483.20,399.4 483.40,403.6 483.60,401.0 483.80,402.0 484.00,403.0 484.20,403.9 484.40,399.7 484.60,402.1 484.80,402.7 485.00,400.6 485.20,400.0 485.40,404.8 485.60,401.7 485.80,401.5 486.00,404.8 486.20,402.9 486.40,405.3 486.60,400.3 486.80,405.7 487.00,400.6 487.20,400.7 487.40,403.7 487.60,405.2 487.80,400.4 488.00,400.8 488.20,400.9 488.40,404.0 488.60,403.1 488.80,403.4 489.00,402.8 489.20,405.9 489.40,405.8 489.60,401.3 489.80,402.2 490.00,402.8 490.20,401.1 490.40,402.0 490.60,401.3 490.80,400.1 491.00,405.1 491.20,401.1 491.40,402.3 491.60,400.2 491.80,403.6 492.00,400.0 492.20,401.8 492.40,402.5 492.60,403.5 492.80,400.0 493.00,401.3 493.20,402.8 493.40,400.6 493.60,402.8 493.80,402.3 494.00,401.5 494.20,402.8 494.40,400.4 494.60,405.2 494.80,401.8 495.00,399.2 495.20,401.8 495.40,402.1 495.60,405.6 495.80,401.1 496.00,403.2 496.20,401.5 496.40,400.8 496.60,402.0 496.80,403.3 497.00,403.9 497.20,402.3 497.40,402.5 497.60,402.0 497.80,403.2 498.00,401.2 498.20,401.2 498.40,402.7 498.60,402.0 498.80,402.8 499.00,399.5 499.20,405.3 499.40,401.6 499.60,402.5 499.80,398.2 500.00,402.4 500.20,402.6 500.40,401.1 500.60,402.5 500.80,399.8 501.00,402.5 501.20,401.0 501.40,402.2 501.60,398.8 501.80,400.4 502.00,402.8 502.20,401.4 502.40,403.6 502.60,400.7 502.80,398.2 503.00,400.5 503.20,401.3 503.40,403.5 503.60,401.8 503.80,402.6 504.00,398.1 504.20,402.4 504.40,399.5 504.60,401.5 504.80,405.2 505.00,400.9 505.20,401.7 505.40,402.7 505.60,402.6 505.80,402.2 506.00,401.4 506.20,402.3 506.40,402.3 506.60,403.3 506.80,399.7 507.00,400.4 507.20,402.7 507.40,403.7 507.60,402.6 507.80,400.9 508.00,401.6 508.20,402.8 508.40,401.3 508.60,403.8 508.80,400.9 509.00,402.9 509.20,404.5 509.40,401.9 509.60,401.8 509.80,403.3 510.00,402.0 510.20,401.2 510.40,401.7 510.60,401.6 510.80,402.5 511.00,402.7 511.20,401.7 511.40,399.5 511.60,400.7 511.80,401.3 512.00,404.3 512.20,402.7 512.40,402.9 512.60,402.6 512.80,400.8 513.00,401.4 513.20,405.0 513.40,400.6 513.60,401.6 513.80,402.5 514.00,401.7 514.20,398.3 514.40,398.7 514.60,396.1 514.80,387.8 515.00,379.0 515.20,372.3 515.30,371.4 515.40,372.6 515.60,378.4 515.80,388.0 516.00,396.3 516.20,398.5 516.40,401.3 516.60,403.3 516.80,400.9 517.00,400.6 517.20,404.3 517.40,402.1 517.60,405.4 517.80,402.2 518.00,403.4 518.20,400.9 518.40,402.2 518.60,399.0 518.80,398.8 519.00,406.2 519.20,402.1 519.40,400.0 519.60,402.2 519.80,401.6 520.00,401.2 520.20,402.6 520.40,405.0 520.60,402.5 520.80,399.9 521.00,404.7 521.20,401.0 521.40,401.2 521.60,403.7 521.80,402.4 522.00,403.2 522.20,403.1 522.40,401.0 522.60,401.0 522.80,405.8 523.00,400.3 523.20,404.0 523.40,404.0 523.60,401.7 523.80,404.6 524.00,402.6 524.20,403.1 524.40,401.7 524.60,398.7 524.80,404.2 525.00,404.1 525.20,402.9 525.40,401.8 525.60,403.1 525.80,403.5 526.00,401.7 526.20,404.6 526.40,401.7 526.60,403.3 526.80,399.8 527.00,403.5 527.20,402.4 527.40,402.9 527.60,402.2 527.80,400.7 528.00,404.5 528.20,404.4 528.40,400.8 528.60,400.6 528.80,400.7 529.00,402.4 529.20,401.6 529.40,403.1 529.60,403.0 529.80,405.8 530.00,402.1 530.20,400.3 530.40,400.3 530.60,402.7 530.80,402.7 531.00,404.8 531.20,401.8 531.40,403.5 531.60,401.9 531.80,401.8 532.00,398.9 532.20,402.2 532.40,400.5 532.60,401.8 532.80,402.7 533.00,404.3 533.20,401.7 533.40,405.6 533.60,402.5 533.80,402.8 534.00,402.3 534.20,402.3 534.40,405.5 534.60,401.8 534.80,401.1 535.00,401.4 535.20,402.3 535.40,403.2 535.60,400.1 535.80,399.2 536.00,404.2 536.20,401.0 536.40,400.2 536.60,405.0 536.80,400.9 537.00,400.7 537.20,401.6 537.40,401.7 537.60,402.4 537.80,401.9 538.00,405.1 538.20,402.4 538.40,401.7 538.60,404.3 538.80,403.6 539.00,402.1 539.20,405.2 539.40,401.7 539.60,402.4 539.80,402.7 540.00,403.0 540.20,402.6 540.40,400.1 540.60,404.0 540.80,403.0 541.00,400.5 541.20,400.0 541.40,400.7 541.60,403.4 541.80,402.2 542.00,400.6 542.20,403.7 542.40,405.2 542.60,404.4 542.80,402.6 543.00,403.4 543.20,401.4 543.40,399.7 543.60,402.3 543.80,403.4 544.00,403.0 544.20,402.2 544.40,403.8 544.60,403.8 544.80,401.4 545.00,402.1 545.20,403.1 545.40,402.6 545.60,402.9 545.80,402.8 546.00,401.1 546.20,399.0 546.40,400.0 546.60,402.7 546.80,402.8 547.00,401.6 547.20,404.9 547.40,401.1 547.60,402.5 547.80,403.0 548.00,401.4 548.20,399.3 548.40,400.5 548.60,401.9 548.80,402.2 549.00,403.0 549.20,402.1 549.40,403.8 549.60,402.1 549.80,403.0 550.00,402.5 550.20,398.6 550.40,403.8 550.60,401.6 550.80,401.8 551.00,399.2 551.20,402.9 551.40,403.0 551.60,402.4 551.80,402.7 552.00,401.9 552.20,401.3 552.40,401.6 552.60,403.2 552.80,402.8 553.00,402.2 553.20,398.9 553.40,400.7 553.60,403.6 553.80,399.8 554.00,401.2 554.20,402.7 554.40,400.1 554.60,402.9 554.80,398.6 555.00,400.9 555.20,401.2 555.40,399.0 555.60,403.5 555.80,402.1 556.00,401.1 556.20,402.1 556.40,403.6 556.60,402.7 556.80,400.5 557.00,402.9 557.20,399.3 557.40,402.0 557.60,405.1 557.80,399.6 558.00,401.0 558.20,400.1 558.40,401.6 558.60,403.1 558.80,400.3 559.00,401.7 559.20,401.6 559.40,401.0 559.60,404.2 559.80,400.4 560.00,402.2 560.20,402.0 560.40,400.9 560.60,401.5 560.80,404.5 561.00,399.9 561.20,402.3 561.40,401.8 561.60,401.2 561.80,401.2 562.00,401.5 562.20,401.5 562.40,404.5 562.60,404.3 562.80,403.2 563.00,404.1 563.20,404.6 563.40,402.4 563.60,402.1 563.80,401.7 564.00,404.8 564.20,404.1 564.40,404.8 564.60,405.5 564.80,401.6 565.00,403.6 565.20,401.3 565.40,402.6 565.60,402.6 565.80,401.0 566.00,402.6 566.20,405.4 566.40,403.1 566.60,402.6 566.80,403.9 567.00,401.5 567.20,400.3 567.40,403.4 567.60,403.0 567.80,403.7 568.00,400.8 568.20,403.7 568.40,402.4 568.60,404.5 568.80,401.9 569.00,401.7 569.20,403.1 569.40,404.2 569.60,401.7 569.80,401.1 570.00,403.4 570.20,404.6 570.40,403.6 570.60,400.4 570.80,402.6 571.00,401.1 571.20,401.3 571.40,401.4 571.60,400.4 571.80,403.5 572.00,403.8 572.20,403.6 572.40,403.7 572.60,401.5 572.80,401.7 573.00,402.0 573.20,401.0 573.40,398.9 573.60,401.4 573.80,403.8 574.00,402.3 574.20,402.1 574.40,402.7 574.60,403.8 574.80,398.3 575.00,402.5 575.20,402.2 575.40,404.5 575.60,403.4 575.80,400.7 576.00,405.2 576.20,402.7 576.40,404.8 576.60,401.9 576.80,401.5 577.00,401.0 577.20,399.6 577.40,400.9 577.60,397.4 577.80,393.9 578.00,392.0 578.20,391.0 578.40,391.6 578.60,394.3 578.80,396.7 579.00,400.1 579.20,401.6 579.40,402.7 579.60,399.7 579.80,402.0 580.00,401.0 580.20,401.2 580.40,401.0 580.60,401.5 580.80,403.1 581.00,399.3 581.20,400.9 581.40,400.2 581.60,401.5 581.80,399.1 582.00,403.0 582.20,402.1 582.40,400.5 582.60,402.0 582.80,402.9 583.00,401.7 583.20,398.3 583.40,402.9 583.60,399.7 583.80,400.8 584.00,403.9 584.20,403.8 584.40,403.9 584.60,402.3 584.80,404.4 585.00,403.9 585.20,400.7 585.40,403.3 585.60,403.0 585.80,404.3 586.00,398.0 586.20,404.2 586.40,401.5 586.60,403.0 586.80,401.9 587.00,401.7 587.20,400.6 587.40,405.3 587.60,399.0 587.80,399.6 588.00,402.1 588.20,399.9 588.40,401.4 588.60,401.0 588.80,403.8 589.00,403.1 589.20,404.2 589.40,402.6 589.60,401.4 589.80,400.7 590.00,401.4 590.20,401.1 590.40,399.2 590.60,400.0 590.80,403.4 591.00,401.3 591.20,401.6 591.40,403.8 591.60,400.5 591.80,400.1 592.00,402.8 592.20,402.5 592.40,398.2 592.60,400.0 592.80,400.5 593.00,400.9 593.20,403.1 593.40,403.4 593.60,399.8 593.80,402.2 594.00,404.6 594.20,398.1 594.40,402.3 594.60,402.5 594.80,401.8 595.00,401.2 595.20,401.1 595.40,401.2 595.60,401.1 595.80,402.9 596.00,400.8 596.20,401.9 596.40,399.0 596.60,404.2 596.80,401.0 597.00,402.6 597.20,399.4 597.40,401.7 597.60,401.4 597.80,402.7 598.00,401.9 598.20,404.2 598.40,401.4 598.60,403.5 598.80,402.3 599.00,402.4 599.20,400.7 599.40,402.6 599.60,398.3 599.80,397.8 600.00,395.2 600.20,391.8 600.40,388.7 600.60,387.8 600.80,389.0 601.00,391.3 601.20,394.9 601.40,397.3 601.60,402.0 601.80,399.0 602.00,401.7 602.20,402.1 602.40,401.4 602.60,403.0 602.80,402.9 603.00,400.1 603.20,403.8 603.40,401.6 603.60,400.1 603.80,400.5 604.00,400.7 604.20,399.4 604.40,400.5 604.60,402.1 604.80,402.4 605.00,399.5 605.20,404.7 605.40,401.8 605.60,400.1 605.80,400.4 606.00,400.4 606.20,398.7 606.40,403.8 606.60,399.0 606.80,401.8 607.00,399.6 607.20,402.1 607.40,398.5 607.60,398.9 607.80,402.1 608.00,401.7 608.20,403.8 608.40,404.1 608.60,399.5 608.80,403.1 609.00,399.0 609.20,398.7 609.40,402.2 609.60,402.8 609.80,403.9 610.00,402.3 610.20,403.7 610.40,401.3 610.60,402.9 610.80,397.8 611.00,400.7 611.20,401.1 611.40,401.9 611.60,402.4 611.80,399.2 612.00,401.1 612.20,402.2 612.40,401.4 612.60,401.4 612.80,399.7 613.00,402.0 613.20,402.0 613.40,397.8 613.60,402.2 613.80,402.4 614.00,398.5 614.20,404.4 614.40,399.3 614.60,404.6 614.80,405.5 615.00,401.7 615.20,398.7 615.40,400.2 615.60,401.8 615.80,399.8 616.00,400.8 616.20,401.7 616.40,400.7 616.60,402.7 616.80,401.2 617.00,404.7 617.20,402.9 617.40,403.1 617.60,401.1 617.80,401.7 618.00,403.7 618.20,398.7 618.40,403.2 618.60,400.7 618.80,400.6 619.00,400.5 619.20,398.7 619.40,401.1 619.60,402.6 619.80,399.8 620.00,405.3 620.20,401.1 620.40,402.4 620.60,401.4 620.80,401.4 621.00,401.3 621.20,400.1 621.40,400.7 621.60,397.7 621.80,402.3 622.00,403.5 622.20,400.4 622.40,399.3 622.60,402.2 622.80,399.5 623.00,398.2 623.20,401.3 623.40,402.2 623.60,397.7 623.80,399.2 624.00,404.4 624.20,400.4 624.40,401.4 624.60,399.1 624.80,400.9 625.00,400.0 625.20,402.2 625.40,404.7 625.60,402.7 625.80,397.5 626.00,403.4 626.20,401.1 626.40,403.3 626.60,401.5 626.80,402.2 627.00,403.5 627.20,402.8 627.40,400.2 627.60,400.3 627.80,399.9 628.00,401.9 628.20,400.9 628.40,399.8 628.60,402.6 628.80,401.5 629.00,402.2 629.20,402.7 629.40,402.3 629.60,398.6 629.80,402.7 630.00,401.9 630.20,400.4 630.40,402.4 630.60,404.6 630.80,398.5 631.00,403.4 631.20,402.5 631.40,403.5 631.60,401.8 631.80,400.7 632.00,402.8 632.20,400.2 632.40,400.4 632.60,402.3 632.80,404.0 633.00,401.3 633.20,402.8 633.40,397.1 633.60,401.6 633.80,400.0 634.00,400.1 634.20,401.8 634.40,403.3 634.60,400.4 634.80,399.2 635.00,399.8 635.20,401.4 635.40,402.1 635.60,399.6 635.80,400.8 636.00,399.9 636.20,401.7 636.40,398.1 636.60,402.8 636.80,401.0 637.00,400.9 637.20,402.5 637.40,400.9 637.60,401.7 637.80,404.8 638.00,402.9 638.20,399.3 638.40,400.8 638.60,402.2 638.80,401.9 639.00,400.5 639.20,401.9 639.40,399.4 639.60,399.3 639.80,401.9 640.00,403.2 640.20,400.4 640.40,402.7 640.60,400.9 640.80,399.9 641.00,401.7 641.20,403.1 641.40,397.5 641.60,400.4 641.80,402.2 642.00,401.3 642.20,402.1 642.40,404.7 642.60,400.6 642.80,401.1 643.00,403.0 643.20,400.0 643.40,400.0 643.60,401.0 643.80,402.3 644.00,399.0 644.20,402.9 644.40,398.4 644.60,404.7 644.80,401.6 645.00,401.2 645.20,400.1 645.40,401.2 645.60,404.1 645.80,401.9 646.00,402.3 646.20,402.1 646.40,397.2 646.60,402.3 646.80,404.0 647.00,401.9 647.20,401.9 647.40,401.9 647.60,398.9 647.80,402.5 648.00,397.4 648.20,400.2 648.40,401.2 648.60,401.7 648.80,401.1 649.00,402.2 649.20,401.3 649.40,403.1 649.60,401.3 649.80,400.1 650.00,399.9 650.20,400.0 650.40,402.4 650.60,398.4 650.80,399.3 651.00,399.1 651.20,399.9 651.40,401.1 651.60,399.1 651.80,400.1 652.00,403.8 652.20,399.5 652.40,402.8 652.60,401.4 652.80,403.8 653.00,401.6 653.20,398.9 653.40,402.5 653.60,401.8 653.80,399.8 654.00,403.2 654.20,399.9 654.40,398.0 654.60,399.2 654.80,401.7 655.00,399.0 655.20,399.4 655.40,397.9 655.60,397.7 655.80,397.0 656.00,401.2 656.20,400.1 656.40,399.3 656.60,399.8 656.80,401.0 657.00,399.6 657.20,397.8 657.40,397.9 657.50,400.6 657.60,396.6 657.80,399.1 658.00,399.0 658.20,396.3 658.40,399.0 658.60,398.6 658.80,400.6 659.00,398.9 659.20,396.0 659.40,399.9 659.60,399.6 659.80,400.0 660.00,398.4 660.20,398.8 660.40,399.8 660.60,399.8 660.80,398.6 661.00,398.7 661.20,399.1 661.40,401.9 661.60,398.7 661.80,401.4 662.00,403.8 662.20,398.9 662.40,401.3 662.60,401.8 662.80,399.8 663.00,402.8 663.20,400.3 663.40,402.6 663.60,399.0 663.80,400.3 664.00,397.2 664.20,400.8 664.40,400.0 664.60,402.2 664.80,400.4 665.00,402.0 665.20,399.3 665.40,403.0 665.60,403.6 665.80,399.7 666.00,400.9 666.20,400.6 666.40,399.9 666.60,402.2 666.80,401.7 667.00,402.9 667.20,399.1 667.40,400.9 667.60,399.0 667.80,401.5 668.00,399.6 668.20,402.6 668.40,402.2 668.60,399.8 668.80,403.7 669.00,398.8 669.20,400.1 669.40,400.3 669.60,401.2 669.80,399.4 670.00,398.7 670.20,401.6 670.40,402.9 670.60,401.8 670.80,400.8 671.00,401.3 671.20,398.2 671.40,399.4 671.60,401.9 671.80,400.6 672.00,398.4 672.20,403.2 672.40,400.6 672.60,400.3 672.80,399.3 673.00,401.5 673.20,402.0 673.40,401.1 673.60,399.5 673.80,401.9 674.00,401.5 674.20,400.8 674.40,401.4 674.60,403.4 674.80,403.3 675.00,399.2 675.20,402.8 675.40,400.6 675.60,398.8 675.80,401.4 676.00,398.3 676.20,402.3 676.40,400.8 676.60,400.5 676.80,397.9 677.00,400.5 677.20,405.0 677.40,403.5 677.60,400.5 677.80,400.9 678.00,401.7 678.20,401.1 678.40,404.5 678.60,401.7 678.80,399.4 679.00,400.2 679.20,400.8 679.40,401.5 679.60,400.4 679.80,397.5 680.00,398.4 680.20,399.4 680.40,399.4 680.60,399.7 680.80,401.9 681.00,401.9 681.20,401.7 681.40,402.2 681.60,401.5 681.80,403.6 682.00,400.4 682.20,403.1 682.40,401.8 682.60,400.5 682.80,398.1 683.00,402.9 683.20,405.1 683.40,402.3 683.60,399.4 683.80,403.0 684.00,401.4 684.20,402.2 684.40,402.7 684.60,401.5 684.80,401.2 685.00,401.2 685.20,402.1 685.40,401.4 685.60,400.4 685.80,400.4 686.00,403.9 686.20,402.1 686.40,402.1 686.60,402.4 686.80,398.1 687.00,403.8 687.20,403.5 687.40,399.5 687.60,402.4 687.80,400.5 688.00,400.3 688.20,400.8 688.40,404.1 688.60,401.2 688.80,398.2 689.00,401.5 689.20,400.0 689.40,400.9 689.60,401.9 689.80,398.8 690.00,398.3 690.20,400.6 690.40,400.5 690.60,401.2 690.80,402.3 691.00,402.8 691.20,401.4 691.40,403.6 691.60,403.1 691.80,400.5 692.00,399.4 692.20,403.0 692.40,400.5 692.60,400.0 692.80,402.3 693.00,401.6 693.20,400.1 693.40,403.0 693.60,402.1 693.80,402.2 694.00,397.4 694.20,404.3 694.40,403.5 694.60,399.3 694.80,401.4 695.00,400.7 695.20,402.0 695.40,399.0 695.60,402.1 695.80,399.4 696.00,403.1 696.20,400.9 696.40,400.0 696.60,403.3 696.80,402.8 697.00,399.5" fill="none" stroke="#444" stroke-width="0.6" stroke-linejoin="round"/><path d="M374.00,403.1 374.20,403.1 374.40,403.4 374.60,403.1 374.80,402.8 375.00,403.3 375.20,403.3 375.40,403.0 375.60,403.5 375.80,403.3 376.00,403.1 376.20,401.9 376.40,402.1 376.60,401.9 376.80,401.7 377.00,402.9 377.20,402.2 377.40,402.3 377.60,403.6 377.80,402.6 378.00,402.8 378.20,403.9 378.40,403.2 378.60,402.8 378.80,403.3 379.00,403.9 379.20,403.2 379.40,402.8 379.60,402.5 379.80,403.0 380.00,402.3 380.20,402.6 380.40,401.3 380.60,402.3 380.80,403.2 381.00,401.9 381.20,402.5 381.40,402.5 381.60,402.5 381.80,403.3 382.00,403.2 382.20,402.6 382.40,401.4 382.60,402.9 382.80,403.2 383.00,402.8 383.20,403.1 383.40,403.0 383.60,403.1 383.80,403.1 384.00,402.2 384.20,402.9 384.40,402.6 384.60,403.5 384.80,403.3 385.00,402.8 385.20,401.7 385.40,402.2 385.60,403.4 385.80,403.6 386.00,402.3 386.20,402.3 386.40,403.2 386.60,402.1 386.80,402.0 387.00,402.0 387.20,401.6 387.40,402.4 387.60,403.2 387.80,402.8 388.00,402.8 388.20,402.2 388.40,403.0 388.60,403.0 388.80,402.3 389.00,403.4 389.20,403.4 389.40,403.0 389.60,402.9 389.80,402.8 390.00,404.0 390.20,403.0 390.40,402.7 390.60,402.3 390.80,403.6 391.00,403.0 391.20,402.4 391.40,403.0 391.60,402.1 391.80,401.6 392.00,400.8 392.20,402.2 392.40,402.8 392.60,403.1 392.80,403.0 393.00,402.2 393.20,402.8 393.40,403.1 393.60,402.5 393.80,402.5 394.00,402.7 394.20,401.4 394.40,401.8 394.60,401.9 394.80,401.8 395.00,402.0 395.20,402.6 395.40,402.6 395.60,403.2 395.80,402.4 396.00,403.4 396.20,404.5 396.40,403.0 396.60,402.9 396.80,402.8 397.00,403.3 397.20,402.1 397.40,402.5 397.60,401.6 397.80,402.2 398.00,402.4 398.20,402.1 398.40,402.4 398.60,403.2 398.80,403.5 399.00,403.7 399.20,402.5 399.40,402.3 399.60,402.7 399.80,403.5 400.00,402.7 400.20,402.4 400.40,403.6 400.60,403.9 400.80,403.1 401.00,403.0 401.20,403.3 401.40,403.2 401.60,403.8 401.80,403.6 402.00,403.6 402.20,404.1 402.40,403.8 402.60,402.5 402.80,403.4 403.00,402.4 403.20,401.5 403.40,403.3 403.60,403.0 403.80,403.2 404.00,402.7 404.20,403.2 404.40,402.3 404.60,401.6 404.80,402.6 405.00,401.8 405.20,402.6 405.40,402.8 405.60,403.6 405.80,404.1 406.00,404.1 406.20,403.4 406.40,403.2 406.60,403.0 406.80,403.4 407.00,403.3 407.20,404.2 407.40,403.8 407.60,403.6 407.80,404.1 408.00,403.5 408.20,401.9 408.40,402.5 408.60,402.8 408.80,402.8 409.00,402.5 409.20,401.8 409.40,401.8 409.60,402.9 409.80,403.0 410.00,403.1 410.20,402.1 410.40,402.3 410.60,403.0 410.80,403.0 411.00,402.6 411.20,403.4 411.40,402.5 411.60,403.3 411.80,403.2 412.00,403.3 412.20,401.2 412.40,401.9 412.60,401.3 412.80,401.1 413.00,403.0 413.20,401.9 413.40,402.1 413.60,403.1 413.80,403.9 414.00,403.3 414.20,403.2 414.40,403.0 414.60,402.9 414.80,402.6 415.00,400.7 415.20,403.2 415.40,403.3 415.60,402.8 415.80,402.6 416.00,402.6 416.20,403.2 416.40,402.9 416.60,402.5 416.80,402.2 417.00,402.6 417.20,401.7 417.40,401.6 417.60,401.7 417.80,403.5 418.00,402.4 418.20,401.4 418.40,401.8 418.60,401.5 418.80,401.8 419.00,402.6 419.20,402.5 419.40,402.8 419.60,402.8 419.80,402.9 420.00,402.4 420.20,402.3 420.40,402.7 420.60,402.7 420.80,403.1 421.00,402.4 421.20,402.5 421.40,402.3 421.60,403.1 421.80,402.7 422.00,403.6 422.20,403.2 422.40,403.8 422.60,402.3 422.80,401.7 423.00,402.3 423.20,404.6 423.40,404.0 423.60,403.4 423.80,402.7 424.00,403.4 424.20,402.5 424.40,402.3 424.60,402.5 424.80,402.5 425.00,402.8 425.20,403.6 425.40,403.2 425.60,402.3 425.80,401.8 426.00,402.6 426.20,401.4 426.40,401.6 426.60,401.7 426.80,401.7 427.00,401.8 427.20,402.5 427.40,402.2 427.60,403.5 427.80,402.3 428.00,401.4 428.20,402.3 428.40,403.2 428.60,402.9 428.80,401.9 429.00,401.5 429.20,402.8 429.40,402.6 429.60,402.3 429.80,401.3 430.00,401.6 430.20,401.3 430.40,402.2 430.60,403.0 430.80,403.1 431.00,401.6 431.20,402.3 431.40,402.3 431.60,402.8 431.80,403.4 432.00,403.1 432.20,403.2 432.40,403.4 432.60,403.1 432.80,404.4 433.00,403.9 433.20,403.6 433.40,403.6 433.60,403.9 433.80,403.2 434.00,402.7 434.20,402.1 434.40,403.8 434.60,404.3 434.80,402.3 435.00,402.2 435.20,402.4 435.40,402.2 435.60,402.5 435.80,402.2 436.00,403.4 436.20,403.3 436.40,402.9 436.60,402.3 436.80,402.7 437.00,402.9 437.20,401.6 437.40,400.9 437.60,401.2 437.80,401.6 438.00,402.0 438.20,402.6 438.40,402.0 438.60,402.5 438.80,402.5 439.00,402.9 439.20,403.2 439.40,401.8 439.60,401.1 439.80,401.7 440.00,402.3 440.20,402.7 440.40,402.0 440.60,402.7 440.80,402.2 441.00,402.5 441.20,402.1 441.40,402.8 441.60,401.8 441.80,402.5 442.00,401.5 442.20,401.3 442.40,402.4 442.60,403.2 442.80,402.1 443.00,403.4 443.20,402.9 443.40,401.7 443.60,400.4 443.80,396.2M445.20,400.4 445.40,402.6 445.60,402.1 445.80,403.0 446.00,403.0 446.20,402.3 446.40,402.0 446.60,401.7 446.80,401.2 447.00,402.2 447.20,402.5 447.40,403.2 447.60,403.2 447.80,402.6 448.00,402.6 448.20,403.8 448.40,403.1 448.60,402.5 448.80,402.9 449.00,402.7 449.20,402.6 449.40,402.7 449.60,402.7 449.80,403.2 450.00,404.0 450.20,403.1 450.40,402.1 450.60,403.1 450.80,402.7 451.00,402.6 451.20,402.5 451.40,402.8 451.60,402.8 451.80,403.4 452.00,403.4 452.20,402.3 452.40,402.5 452.60,404.2 452.80,403.1 453.00,402.0 453.20,402.1 453.40,402.2 453.60,403.1 453.80,402.8 454.00,402.5 454.20,402.5 454.40,402.1 454.60,401.9 454.80,401.8 455.00,401.8 455.20,401.9 455.40,403.5 455.60,404.1 455.80,403.6 456.00,403.4 456.20,403.2 456.40,403.6 456.60,401.5 456.80,401.9 457.00,402.9 457.20,403.2 457.40,402.8 457.60,403.7 457.80,402.0 458.00,403.3 458.20,401.7 458.40,401.9 458.60,403.1 458.80,403.1 459.00,402.8 459.20,402.2 459.40,401.6 459.60,401.6 459.80,401.8 460.00,402.1 460.20,402.3 460.40,402.3 460.60,402.0 460.80,401.5 461.00,402.7 461.20,402.2 461.40,402.4 461.60,402.4 461.80,400.7 462.00,401.8 462.20,402.7 462.40,401.9 462.60,403.2 462.80,402.2 463.00,402.8 463.20,403.1 463.40,403.3 463.60,403.7 463.80,404.1 464.00,403.4 464.20,401.9 464.40,402.5 464.60,404.3 464.80,403.4 465.00,403.6 465.20,403.3 465.40,402.6 465.60,401.7 465.80,402.4 466.00,401.5 466.20,402.7 466.40,402.5 466.60,402.6 466.80,401.0 467.00,402.2 467.20,402.6 467.40,401.9 467.60,401.4 467.80,401.7 468.00,400.7 468.20,401.1 468.40,402.1 468.60,402.5 468.80,401.7 469.00,402.2 469.20,402.6 469.40,403.5 469.60,402.9 469.80,402.7 470.00,402.7 470.20,401.9 470.40,402.5 470.60,402.3 470.80,402.1 471.00,402.4 471.20,402.5 471.40,402.0 471.60,402.5 471.80,400.9 472.00,401.7 472.20,402.4 472.40,401.9 472.60,402.9 472.80,402.4 473.00,403.5 473.20,402.2 473.40,403.9 473.60,401.4 473.80,401.9 474.00,401.8 474.20,402.0 474.40,402.5 474.60,401.7 474.80,400.4 475.00,401.4 475.20,400.3 475.40,401.3 475.60,400.3 475.80,400.3 476.00,401.2 476.20,402.4 476.40,402.1 476.60,400.2 476.80,399.9 477.00,400.4 477.20,400.4 477.40,400.7 477.60,400.9 477.80,401.5 478.00,401.7 478.20,402.4 478.40,401.4 478.60,401.7 478.80,403.5 479.00,403.3 479.20,402.5 479.40,403.0 479.60,403.2 479.80,402.5 480.00,401.5 480.20,401.8 480.40,402.8 480.60,402.9 480.80,402.5 481.00,403.7 481.20,403.5 481.40,403.2 481.60,402.7 481.80,402.2 482.00,402.3 482.20,401.7 482.40,402.4 482.60,402.2 482.80,402.5 483.00,402.9 483.20,402.1 483.40,402.5 483.60,402.5 483.80,402.0 484.00,402.6 484.20,400.9 484.40,401.3 484.60,402.4 484.80,401.6 485.00,402.3 485.20,401.1 485.40,401.4 485.60,401.0 485.80,400.9 486.00,401.0 486.20,400.7 486.40,400.6 486.60,402.4 486.80,402.7 487.00,402.6 487.20,402.8 487.40,402.3 487.60,404.4 487.80,403.9 488.00,403.7 488.20,403.7 488.40,402.5 488.60,402.1 488.80,403.0 489.00,402.1 489.20,403.5 489.40,402.0 489.60,401.9 489.80,402.3 490.00,402.1 490.20,402.0 490.40,402.3 490.60,400.6 490.80,400.5 491.00,402.0 491.20,402.1 491.40,401.5 491.60,402.3 491.80,401.2 492.00,401.1 492.20,401.4 492.40,402.4 492.60,401.4 492.80,402.4 493.00,401.8 493.20,402.0 493.40,400.3 493.60,400.3 493.80,400.4 494.00,401.4 494.20,402.4 494.40,402.8 494.60,402.1 494.80,402.0 495.00,401.5 495.20,402.3 495.40,402.5 495.60,401.3 495.80,401.8 496.00,403.3 496.20,402.4 496.40,402.0 496.60,402.1 496.80,403.2 497.00,403.0 497.20,402.7 497.40,402.6 497.60,403.7 497.80,403.7 498.00,403.3 498.20,402.6 498.40,402.4 498.60,402.1 498.80,401.5 499.00,402.2 499.20,402.9 499.40,402.7 499.60,401.3 499.80,401.2 500.00,401.4 500.20,401.5 500.40,402.1 500.60,401.9 500.80,403.6 501.00,403.9 501.20,403.4 501.40,402.4 501.60,402.3 501.80,400.8 502.00,401.6 502.20,402.6 502.40,401.3 502.60,403.6 502.80,403.8 503.00,403.2 503.20,402.6 503.40,402.0 503.60,401.1 503.80,403.5 504.00,402.6 504.20,401.9 504.40,401.6 504.60,402.2 504.80,401.9 505.00,401.5 505.20,401.4 505.40,401.9 505.60,401.8 505.80,401.4 506.00,402.1 506.20,402.6 506.40,402.5 506.60,402.8 506.80,402.6 507.00,402.8 507.20,402.1 507.40,402.8 507.60,402.2 507.80,402.9 508.00,402.9 508.20,402.6 508.40,402.6 508.60,401.6 508.80,401.8 509.00,401.2 509.20,403.0 509.40,402.4 509.60,401.8 509.80,403.6 510.00,402.6 510.20,401.5 510.40,401.1 510.60,401.4 510.80,401.1 511.00,399.9 511.20,402.0 511.40,401.8 511.60,402.0 511.80,401.6 512.00,403.4 512.20,402.1 512.40,402.4 512.60,402.9 512.80,401.9 513.00,401.8 513.20,401.3 513.40,401.5 513.60,400.7 513.80,402.2 514.00,401.6 514.20,401.2 514.40,399.8 514.60,395.5M516.20,399.4 516.40,401.1 516.60,401.8 516.80,402.8 517.00,403.4 517.20,404.0 517.40,404.4 517.60,403.6 517.80,404.0 518.00,403.5 518.20,402.1 518.40,400.7 518.60,402.3 518.80,402.2 519.00,400.5 519.20,400.8 519.40,401.4 519.60,402.3 519.80,401.5 520.00,402.5 520.20,402.2 520.40,402.0 520.60,402.2 520.80,401.9 521.00,400.8 521.20,402.7 521.40,402.4 521.60,402.6 521.80,403.0 522.00,401.8 522.20,402.0 522.40,403.3 522.60,401.8 522.80,401.9 523.00,401.4 523.20,401.6 523.40,402.6 523.60,402.3 523.80,400.9 524.00,402.5 524.20,402.0 524.40,402.3 524.60,402.1 524.80,402.6 525.00,402.3 525.20,401.9 525.40,401.8 525.60,401.1 525.80,402.8 526.00,402.2 526.20,402.6 526.40,401.7 526.60,401.2 526.80,402.4 527.00,402.0 527.20,402.1 527.40,401.8 527.60,400.7 527.80,402.0 528.00,401.6 528.20,401.9 528.40,402.2 528.60,402.2 528.80,402.1 529.00,402.4 529.20,402.1 529.40,402.3 529.60,401.4 529.80,400.7 530.00,401.5 530.20,402.6 530.40,402.8 530.60,403.9 530.80,403.6 531.00,402.6 531.20,402.3 531.40,401.9 531.60,402.1 531.80,402.1 532.00,401.8 532.20,402.6 532.40,403.4 532.60,402.5 532.80,401.1 533.00,402.1 533.20,400.8 533.40,401.9 533.60,402.2 533.80,402.1 534.00,402.8 534.20,402.7 534.40,402.9 534.60,403.3 534.80,401.7 535.00,402.0 535.20,403.3 535.40,402.5 535.60,402.6 535.80,403.0 536.00,402.5 536.20,402.2 536.40,402.0 536.60,401.5 536.80,401.8 537.00,401.3 537.20,401.4 537.40,401.9 537.60,401.8 537.80,401.1 538.00,402.5 538.20,402.8 538.40,402.3 538.60,403.1 538.80,403.5 539.00,403.7 539.20,403.3 539.40,403.4 539.60,403.0 539.80,401.3 540.00,403.2 540.20,403.0 540.40,402.3 540.60,402.1 540.80,402.4 541.00,402.7 541.20,402.1 541.40,401.2 541.60,401.3 541.80,401.4 542.00,401.9 542.20,401.2 542.40,400.7 542.60,401.1 542.80,400.6 543.00,400.8 543.20,399.7 543.40,401.4 543.60,401.5 543.80,401.3 544.00,402.4 544.20,400.9 544.40,402.6 544.60,402.1 544.80,400.9 545.00,401.6 545.20,401.9 545.40,401.5 545.60,402.4 545.80,402.6 546.00,402.2 546.20,401.7 546.40,402.5 546.60,403.3 546.80,401.5 547.00,400.9 547.20,402.3 547.40,401.1 547.60,401.7 547.80,402.4 548.00,403.1 548.20,402.7 548.40,403.1 548.60,402.9 548.80,402.8 549.00,402.7 549.20,402.4 549.40,401.8 549.60,403.3 549.80,403.3 550.00,402.8 550.20,402.1 550.40,401.5 550.60,401.9 550.80,401.4 551.00,402.5 551.20,402.0 551.40,402.4 551.60,401.4 551.80,402.2 552.00,401.8 552.20,401.7 552.40,402.3 552.60,401.5 552.80,400.9 553.00,401.6 553.20,402.4 553.40,402.6 553.60,402.6 553.80,403.4 554.00,403.2 554.20,402.6 554.40,403.0 554.60,402.2 554.80,402.8 555.00,402.3 555.20,402.3 555.40,401.5 555.60,401.3 555.80,402.3 556.00,401.9 556.20,401.1 556.40,401.6 556.60,401.4 556.80,401.3 557.00,401.4 557.20,401.4 557.40,401.3 557.60,402.6 557.80,403.5 558.00,402.8 558.20,402.8 558.40,403.4 558.60,403.5 558.80,402.5 559.00,402.4 559.20,401.8 559.40,401.7 559.60,401.6 559.80,401.6 560.00,401.4 560.20,402.2 560.40,402.3 560.60,400.7 560.80,400.9 561.00,401.4 561.20,401.6 561.40,402.5 561.60,402.2 561.80,401.5 562.00,401.8 562.20,402.5 562.40,402.0 562.60,401.4 562.80,402.4 563.00,403.8 563.20,402.4 563.40,401.9 563.60,401.0 563.80,402.1 564.00,402.0 564.20,399.9 564.40,399.3 564.60,401.0 564.80,401.7 565.00,402.8 565.20,404.1 565.40,402.4 565.60,403.2 565.80,402.4 566.00,401.3 566.20,400.8 566.40,400.3 566.60,401.2 566.80,401.6 567.00,401.3 567.20,401.3 567.40,402.3 567.60,402.5 567.80,402.9 568.00,402.2 568.20,401.8 568.40,401.8 568.60,402.8 568.80,403.1 569.00,402.9 569.20,404.4 569.40,402.8 569.60,402.7 569.80,402.3 570.00,402.0 570.20,401.8 570.40,402.2 570.60,402.6 570.80,402.7 571.00,401.9 571.20,401.4 571.40,401.6 571.60,402.8 571.80,402.4 572.00,402.5 572.20,402.6 572.40,403.1 572.60,403.7 572.80,402.3 573.00,402.4 573.20,402.7 573.40,403.5 573.60,403.0 573.80,401.4 574.00,401.8 574.20,402.1 574.40,402.5 574.60,402.4 574.80,402.8 575.00,401.6 575.20,402.4 575.40,402.0 575.60,403.5 575.80,402.1 576.00,402.3 576.20,402.9 576.40,403.3 576.60,402.0 576.80,401.0 577.00,400.8 577.20,400.4 577.40,398.2M579.20,400.9 579.40,402.1 579.60,400.8 579.80,401.2 580.00,402.3 580.20,402.5 580.40,402.2 580.60,402.9 580.80,403.4 581.00,402.1 581.20,401.1 581.40,400.8 581.60,400.8 581.80,401.3 582.00,400.9 582.20,401.2 582.40,400.2 582.60,401.1 582.80,401.1 583.00,400.6 583.20,401.5 583.40,402.4 583.60,401.5 583.80,402.3 584.00,401.9 584.20,401.6 584.40,401.7 584.60,401.3 584.80,402.3 585.00,401.9 585.20,402.3 585.40,403.0 585.60,402.4 585.80,403.0 586.00,402.6 586.20,401.9 586.40,401.6 586.60,400.5 586.80,401.2 587.00,402.2 587.20,401.9 587.40,401.1 587.60,401.9 587.80,402.8 588.00,401.0 588.20,401.0 588.40,402.1 588.60,402.5 588.80,401.5 589.00,401.8 589.20,401.6 589.40,402.7 589.60,402.9 589.80,402.3 590.00,402.4 590.20,402.1 590.40,402.8 590.60,401.8 590.80,402.1 591.00,401.1 591.20,401.1 591.40,401.5 591.60,400.8 591.80,401.5 592.00,400.5 592.20,401.5 592.40,402.3 592.60,402.5 592.80,403.1 593.00,402.8 593.20,402.7 593.40,403.2 593.60,401.9 593.80,401.4 594.00,401.3 594.20,400.4 594.40,400.7 594.60,401.7 594.80,402.5 595.00,401.3 595.20,400.7 595.40,401.7 595.60,401.1 595.80,402.4 596.00,401.0 596.20,401.4 596.40,401.1 596.60,401.5 596.80,402.7 597.00,402.5 597.20,402.0 597.40,401.1 597.60,400.8 597.80,400.9 598.00,401.4 598.20,401.5 598.40,401.9 598.60,402.3 598.80,401.8 599.00,401.0 599.20,401.0 599.40,400.5 599.60,399.1 599.80,398.9M601.60,399.0 601.80,400.5 602.00,400.2 602.20,401.2 602.40,402.9 602.60,403.0 602.80,402.9 603.00,401.6 603.20,401.9 603.40,402.2 603.60,402.5 603.80,402.1 604.00,402.0 604.20,403.5 604.40,402.5 604.60,402.6 604.80,402.5 605.00,402.1 605.20,401.9 605.40,401.8 605.60,401.1 605.80,401.4 606.00,402.2 606.20,402.9 606.40,402.4 606.60,401.4 606.80,400.5 607.00,401.1 607.20,399.4 607.40,400.7 607.60,401.4 607.80,400.7 608.00,400.9 608.20,400.8 608.40,400.8 608.60,401.7 608.80,402.0 609.00,402.3 609.20,401.6 609.40,401.7 609.60,402.3 609.80,401.9 610.00,400.9 610.20,400.4 610.40,401.5 610.60,401.4 610.80,401.2 611.00,401.6 611.20,401.6 611.40,401.7 611.60,402.3 611.80,401.3 612.00,401.6 612.20,402.1 612.40,402.0 612.60,401.5 612.80,402.3 613.00,402.4 613.20,403.3 613.40,403.6 613.60,402.7 613.80,402.2 614.00,400.5 614.20,401.7 614.40,401.4 614.60,401.3 614.80,400.4 615.00,400.9 615.20,401.2 615.40,401.4 615.60,402.4 615.80,402.4 616.00,401.9 616.20,401.8 616.40,402.1 616.60,402.0 616.80,401.6 617.00,401.6 617.20,401.5 617.40,401.6 617.60,402.3 617.80,402.1 618.00,402.1 618.20,401.9 618.40,401.6 618.60,401.4 618.80,402.6 619.00,402.8 619.20,401.3 619.40,401.9 619.60,401.3 619.80,401.8 620.00,401.3 620.20,400.9 620.40,401.3 620.60,400.3 620.80,401.3 621.00,401.1 621.20,400.4 621.40,401.0 621.60,401.6 621.80,401.4 622.00,401.5 622.20,400.5 622.40,400.4 622.60,400.3 622.80,400.6 623.00,401.4 623.20,401.4 623.40,401.2 623.60,401.1 623.80,400.7 624.00,401.1 624.20,401.4 624.40,401.2 624.60,399.6 624.80,400.1 625.00,401.1 625.20,402.2 625.40,401.7 625.60,401.9 625.80,401.9 626.00,401.5 626.20,401.2 626.40,401.4 626.60,401.8 626.80,402.3 627.00,402.4 627.20,401.9 627.40,402.4 627.60,402.0 627.80,401.9 628.00,402.5 628.20,401.0 628.40,401.0 628.60,401.1 628.80,400.3 629.00,400.5 629.20,402.2 629.40,401.6 629.60,401.0 629.80,401.0 630.00,401.4 630.20,400.9 630.40,400.6 630.60,401.0 630.80,400.2 631.00,400.7 631.20,400.5 631.40,400.5 631.60,399.4 631.80,400.7 632.00,399.7 632.20,401.3 632.40,401.3 632.60,401.7 632.80,401.8 633.00,401.5 633.20,402.3 633.40,400.4 633.60,402.4 633.80,401.1 634.00,401.7 634.20,401.5 634.40,401.9 634.60,400.5 634.80,400.5 635.00,399.1 635.20,399.6 635.40,400.1 635.60,401.0 635.80,401.5 636.00,401.7 636.20,402.1 636.40,401.3 636.60,400.4 636.80,401.3 637.00,401.7 637.20,402.1 637.40,401.5 637.60,401.3 637.80,402.1 638.00,400.8 638.20,401.0 638.40,402.2 638.60,401.6 638.80,401.5 639.00,400.8 639.20,399.8 639.40,400.6 639.60,400.9 639.80,400.1 640.00,400.8 640.20,401.4 640.40,402.2 640.60,400.9 640.80,400.7 641.00,400.1 641.20,400.3 641.40,400.4 641.60,400.7 641.80,400.8 642.00,400.8 642.20,402.6 642.40,401.9 642.60,401.2 642.80,401.3 643.00,401.8 643.20,402.0 643.40,403.0 643.60,401.5 643.80,401.0 644.00,399.6 644.20,400.2 644.40,400.0 644.60,400.0 644.80,399.3 645.00,400.0 645.20,399.4 645.40,401.1 645.60,400.1 645.80,399.9 646.00,400.6 646.20,401.7 646.40,400.7 646.60,400.9 646.80,400.5 647.00,400.6 647.20,401.1 647.40,401.5 647.60,401.0 647.80,402.2 648.00,401.8 648.20,401.6 648.40,401.2 648.60,400.6 648.80,400.6 649.00,400.1 649.20,400.7 649.40,399.6 649.60,401.0 649.80,401.0 650.00,401.8 650.20,401.3 650.40,400.9 650.60,400.3 650.80,399.7 651.00,400.9 651.20,402.6 651.40,400.7 651.60,400.9 651.80,402.0 652.00,402.7 652.20,402.4 652.40,401.8 652.60,401.9 652.80,403.0 653.00,401.0 653.20,400.3 653.40,400.6 653.60,400.8 653.80,402.0 654.00,401.5 654.20,400.7 654.40,400.1 654.60,399.9 654.80,400.1 655.00,400.6 655.20,401.6 655.40,400.4 655.60,399.4 655.80,399.3 656.00,398.5 656.20,397.6 656.40,398.4 656.60,397.8 656.80,399.0 657.00,399.3 657.20,399.7 657.40,398.6 657.50,398.5 657.60,399.5 657.80,398.8 658.00,398.7 658.20,398.6 658.40,399.3 658.60,399.5 658.80,399.8 659.00,399.0 659.20,400.1 659.40,400.9 659.60,399.9 659.80,400.5 660.00,400.7 660.20,401.1 660.40,400.9 660.60,400.9 660.80,401.1 661.00,400.6 661.20,400.0 661.40,401.0 661.60,401.1 661.80,401.1 662.00,400.7 662.20,401.9 662.40,401.5 662.60,400.7 662.80,400.0 663.00,401.2 663.20,401.8 663.40,400.5 663.60,400.8 663.80,401.0 664.00,400.8 664.20,400.4 664.40,399.5 664.60,399.9 664.80,398.5 665.00,400.2 665.20,401.0 665.40,400.3 665.60,400.9 665.80,399.7 666.00,400.9 666.20,400.6 666.40,400.9 666.60,401.7 666.80,400.5 667.00,401.1 667.20,401.3 667.40,400.7 667.60,400.4 667.80,400.9 668.00,400.3 668.20,400.8 668.40,401.8 668.60,400.5 668.80,400.8 669.00,401.0 669.20,401.5 669.40,401.3 669.60,400.6 669.80,400.5 670.00,401.5 670.20,401.0 670.40,400.5 670.60,399.7 670.80,400.0 671.00,400.5 671.20,399.9 671.40,401.1 671.60,401.2 671.80,401.0 672.00,401.1 672.20,402.2 672.40,400.9 672.60,401.2 672.80,401.4 673.00,400.8 673.20,400.5 673.40,401.5 673.60,399.5 673.80,400.0 674.00,401.4 674.20,401.4 674.40,400.4 674.60,399.8 674.80,400.9 675.00,400.8 675.20,400.9 675.40,399.9 675.60,400.2 675.80,399.7 676.00,400.4 676.20,401.9 676.40,401.7 676.60,401.2 676.80,400.9 677.00,400.1 677.20,400.6 677.40,400.7 677.60,401.3 677.80,401.7 678.00,400.7 678.20,400.8 678.40,401.2 678.60,400.1 678.80,401.1 679.00,400.8 679.20,399.4 679.40,400.3 679.60,402.3 679.80,400.4 680.00,401.5 680.20,400.9 680.40,402.1 680.60,401.6 680.80,401.6 681.00,401.3 681.20,400.9 681.40,400.4 681.60,401.2 681.80,401.3 682.00,400.7 682.20,402.1 682.40,402.7 682.60,401.6 682.80,401.5 683.00,401.3 683.20,401.8 683.40,402.9 683.60,402.1 683.80,401.5 684.00,401.8 684.20,401.1 684.40,401.1 684.60,401.5 684.80,401.5 685.00,402.7 685.20,401.8 685.40,400.9 685.60,400.2 685.80,400.7 686.00,401.5 686.20,401.4 686.40,401.5 686.60,401.7 686.80,401.5 687.00,401.4 687.20,401.7 687.40,402.4 687.60,401.1 687.80,401.9 688.00,401.4 688.20,401.0 688.40,400.0 688.60,400.1 688.80,399.9 689.00,401.4 689.20,400.0 689.40,401.8 689.60,400.0 689.80,401.1 690.00,399.8 690.20,399.7 690.40,400.0 690.60,401.2 690.80,401.5 691.00,402.2 691.20,402.1 691.40,402.0 691.60,401.3 691.80,400.5 692.00,400.1 692.20,401.3 692.40,401.1 692.60,401.7 692.80,401.8 693.00,400.8 693.20,399.4 693.40,400.8 693.60,400.9 693.80,400.8 694.00,401.6 694.20,401.5 694.40,401.0 694.60,400.9 694.80,400.7 695.00,400.8 695.20,400.9 695.40,401.8 695.60,400.8 695.80,400.7 696.00,400.9 696.20,399.9 696.40,400.0 696.60,401.2 696.80,401.6 697.00,401.5" fill="none" stroke="#111" stroke-width="1.8" stroke-linejoin="round"/><path d="M443.60,399.64 443.80,395.76 444.00,389.98 444.20,384.32 444.40,381.91 444.60,384.31 444.80,389.97 445.00,395.75 445.20,399.63M514.40,399.45 514.60,395.21 514.80,387.72 515.00,378.51 515.20,371.87 515.30,370.91 515.40,371.86 515.60,378.51 515.80,387.71 516.00,395.20 516.20,399.44M577.40,398.42 577.60,396.12 577.80,393.49 578.00,391.32 578.20,390.47 578.40,391.31 578.60,393.48 578.80,396.11 579.00,398.41M599.80,397.43 600.00,394.50 600.20,391.15 600.40,388.39 600.60,387.31 600.80,388.39 601.00,391.14 601.20,394.50 601.40,397.42M656.60,398.79 656.80,398.65 657.00,398.54 657.20,398.46 657.40,398.42 657.50,398.42 657.60,398.42 657.80,398.46 658.00,398.53 658.20,398.64 658.40,398.78" fill="none" stroke="#111" stroke-width="1.15" stroke-linejoin="round"/><text x="586.4" y="380.9" font-size="9.75" fill="#3a3a48" textLength="29.3" lengthAdjust="spacing">18:2c/c</text><text x="653.6" y="350.2" font-size="8.7" fill="#3e3e3e" textLength="49.9" lengthAdjust="spacing">Fr. 3: acetone</text><text x="675.0" y="440.8" font-size="5" fill="#33446a" textLength="22.5" lengthAdjust="spacingAndGlyphs">G003523</text></svg></body></html>
